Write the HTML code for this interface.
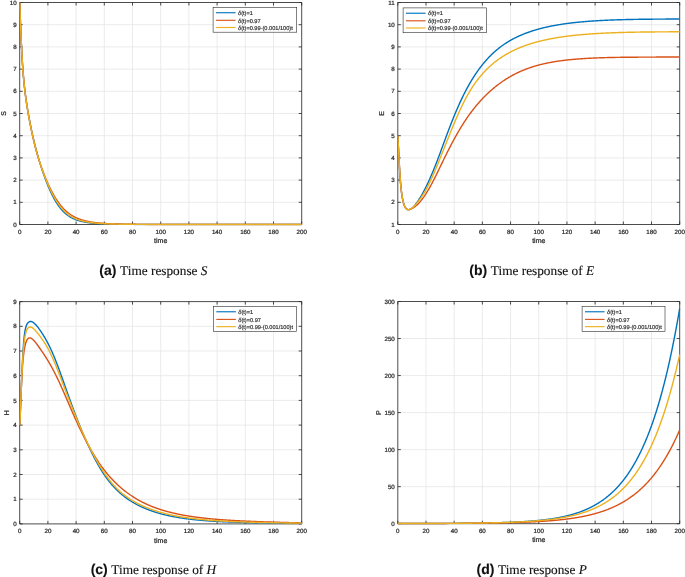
<!DOCTYPE html>
<html lang="en"><head><meta charset="utf-8"><title>Time responses</title>
<style>html,body{margin:0;padding:0;background:#fff}svg{display:block;will-change:transform;opacity:0.9999}</style></head>
<body>
<svg width="685" height="577" viewBox="0 0 685 577" text-rendering="geometricPrecision">
<rect width="685" height="577" fill="#fff"/>
<path d="M47.90 2.50V224.50M76.10 2.50V224.50M104.30 2.50V224.50M132.50 2.50V224.50M160.70 2.50V224.50M188.90 2.50V224.50M217.10 2.50V224.50M245.30 2.50V224.50M273.50 2.50V224.50M19.70 202.30H301.70M19.70 180.10H301.70M19.70 157.90H301.70M19.70 135.70H301.70M19.70 113.50H301.70M19.70 91.30H301.70M19.70 69.10H301.70M19.70 46.90H301.70M19.70 24.70H301.70" stroke="#e3e3e3" stroke-width="0.7" fill="none"/>
<path d="M19.70 2.50H301.70V224.50H19.70ZM19.70 224.50v-3.0M19.70 2.50v3.0M47.90 224.50v-3.0M47.90 2.50v3.0M76.10 224.50v-3.0M76.10 2.50v3.0M104.30 224.50v-3.0M104.30 2.50v3.0M132.50 224.50v-3.0M132.50 2.50v3.0M160.70 224.50v-3.0M160.70 2.50v3.0M188.90 224.50v-3.0M188.90 2.50v3.0M217.10 224.50v-3.0M217.10 2.50v3.0M245.30 224.50v-3.0M245.30 2.50v3.0M273.50 224.50v-3.0M273.50 2.50v3.0M301.70 224.50v-3.0M301.70 2.50v3.0M19.70 224.50h3.0M301.70 224.50h-3.0M19.70 202.30h3.0M301.70 202.30h-3.0M19.70 180.10h3.0M301.70 180.10h-3.0M19.70 157.90h3.0M301.70 157.90h-3.0M19.70 135.70h3.0M301.70 135.70h-3.0M19.70 113.50h3.0M301.70 113.50h-3.0M19.70 91.30h3.0M301.70 91.30h-3.0M19.70 69.10h3.0M301.70 69.10h-3.0M19.70 46.90h3.0M301.70 46.90h-3.0M19.70 24.70h3.0M301.70 24.70h-3.0M19.70 2.50h3.0M301.70 2.50h-3.0" stroke="#2c2c2c" stroke-width="0.85" fill="none"/>
<clipPath id="clip0"><rect x="19.45" y="2.00" width="283.00" height="223.50"/></clipPath>
<polyline points="19.70,2.50 19.84,6.28 19.98,10.08 20.12,13.85 20.26,17.58 20.40,21.26 20.55,24.85 20.69,28.36 20.83,31.78 20.97,35.09 21.11,38.30 21.25,41.41 21.39,44.40 21.53,47.29 21.67,50.07 21.81,52.75 21.96,55.31 22.10,57.78 22.24,60.14 22.38,62.41 22.52,64.58 22.66,66.65 22.80,68.64 22.94,70.54 23.08,72.36 23.22,74.10 23.37,75.78 23.51,77.39 23.65,78.95 23.79,80.45 23.93,81.90 24.07,83.30 24.21,84.66 24.35,85.98 24.49,87.26 24.63,88.51 24.78,89.72 24.92,90.91 25.06,92.06 25.20,93.19 25.34,94.29 25.48,95.37 25.62,96.43 25.76,97.47 25.90,98.48 26.04,99.48 26.19,100.46 26.33,101.43 26.47,102.37 26.61,103.31 26.75,104.23 26.89,105.13 27.03,106.02 27.17,106.90 27.31,107.77 27.45,108.63 27.60,109.48 27.74,110.32 27.88,111.15 28.02,111.97 28.16,112.78 28.30,113.58 28.44,114.37 28.58,115.16 28.72,115.93 28.86,116.71 29.01,117.47 29.15,118.23 29.29,118.98 29.43,119.72 29.57,120.46 29.71,121.19 29.85,121.92 29.99,122.64 30.13,123.35 30.27,124.06 30.42,124.76 30.56,125.46 30.70,126.15 30.84,126.84 30.98,127.53 31.12,128.20 31.26,128.88 31.40,129.55 31.54,130.21 31.68,130.87 31.83,131.53 31.97,132.18 32.11,132.82 32.25,133.47 32.39,134.10 32.53,134.74 32.67,135.37 32.81,135.99 32.95,136.62 33.09,137.23 33.24,137.85 33.38,138.46 33.52,139.07 33.66,139.67 33.80,140.27 33.94,140.86 34.08,141.45 34.22,142.04 34.36,142.62 34.50,143.20 34.65,143.78 34.79,144.35 34.93,144.92 35.07,145.49 35.21,146.05 35.35,146.61 35.49,147.17 35.63,147.72 35.77,148.27 35.91,148.81 36.06,149.35 36.20,149.89 36.34,150.43 36.48,150.96 36.62,151.49 36.97,152.79 37.33,154.08 37.68,155.35 38.03,156.59 38.38,157.82 38.73,159.02 39.09,160.21 39.44,161.39 39.79,162.54 40.14,163.68 40.50,164.81 40.85,165.92 41.20,167.01 41.55,168.10 41.91,169.17 42.26,170.23 42.61,171.27 42.97,172.31 43.32,173.33 43.67,174.34 44.02,175.33 44.38,176.32 44.73,177.29 45.08,178.25 45.43,179.20 45.78,180.14 46.14,181.06 46.49,181.98 46.84,182.88 47.20,183.76 47.55,184.64 47.90,185.51 48.25,186.36 48.61,187.20 48.96,188.02 49.31,188.84 49.66,189.64 50.02,190.43 50.37,191.21 50.72,191.97 51.07,192.73 51.42,193.47 51.78,194.19 52.13,194.91 52.48,195.61 52.83,196.30 53.19,196.98 53.54,197.65 53.89,198.30 54.25,198.95 54.60,199.58 54.95,200.19 55.30,200.80 55.66,201.39 56.01,201.98 56.36,202.55 56.71,203.11 57.06,203.66 57.42,204.19 57.77,204.72 58.12,205.23 58.47,205.73 58.83,206.22 59.18,206.70 59.53,207.17 59.89,207.63 60.24,208.08 60.59,208.51 60.94,208.94 61.30,209.35 61.65,209.76 62.00,210.15 62.35,210.54 62.70,210.92 63.06,211.28 63.41,211.64 63.76,211.99 64.11,212.33 64.47,212.66 64.82,212.98 65.17,213.29 65.53,213.60 65.88,213.90 66.23,214.19 66.58,214.47 66.94,214.74 67.29,215.01 67.64,215.27 67.99,215.52 68.34,215.77 68.70,216.01 69.05,216.24 69.40,216.47 69.75,216.69 70.11,216.90 70.46,217.11 70.81,217.31 71.17,217.51 71.52,217.70 71.87,217.89 72.22,218.07 72.58,218.24 72.93,218.41 73.28,218.58 73.63,218.74 73.98,218.90 74.34,219.05 74.69,219.20 75.04,219.35 75.39,219.49 75.75,219.62 76.10,219.76 76.45,219.89 76.80,220.01 77.16,220.13 77.51,220.25 77.86,220.37 78.22,220.48 78.57,220.59 78.92,220.69 79.27,220.80 79.62,220.90 79.98,220.99 80.33,221.09 80.68,221.18 81.03,221.27 81.39,221.36 81.74,221.44 82.09,221.52 82.44,221.60 82.80,221.68 83.15,221.76 83.50,221.83 83.86,221.90 84.21,221.97 84.56,222.04 84.91,222.10 85.27,222.17 85.62,222.23 85.97,222.29 86.32,222.35 86.67,222.40 87.03,222.46 87.38,222.51 87.73,222.56 88.09,222.62 88.44,222.66 88.79,222.71 89.14,222.76 89.50,222.80 89.85,222.85 90.20,222.89 90.55,222.93 90.91,222.97 91.26,223.01 91.61,223.05 91.96,223.09 92.31,223.13 92.67,223.16 93.02,223.20 93.37,223.23 93.73,223.26 94.08,223.29 94.43,223.32 94.78,223.35 95.14,223.38 95.49,223.41 95.84,223.44 96.19,223.47 96.55,223.49 96.90,223.52 97.25,223.54 97.60,223.57 97.95,223.59 98.31,223.61 98.66,223.64 99.01,223.66 99.37,223.68 99.72,223.70 100.07,223.72 100.42,223.74 100.78,223.76 101.13,223.77 101.48,223.79 101.83,223.81 102.19,223.83 102.54,223.84 102.89,223.86 103.24,223.88 103.59,223.89 103.95,223.91 104.30,223.92 104.65,223.93 105.01,223.95 105.36,223.96 105.71,223.97 106.06,223.99 106.42,224.00 106.77,224.01 107.12,224.02 107.47,224.03 107.83,224.05 108.18,224.06 108.53,224.07 108.88,224.08 109.23,224.09 109.59,224.10 109.94,224.11 110.29,224.12 110.64,224.13 111.00,224.13 111.35,224.14 111.70,224.15 112.06,224.16 112.41,224.17 112.76,224.18 113.11,224.18 113.47,224.19 113.82,224.20 114.17,224.20 114.52,224.21 114.88,224.22 115.23,224.22 115.58,224.23 115.93,224.24 116.28,224.24 116.64,224.25 116.99,224.25 117.34,224.26 117.70,224.27 118.05,224.27 118.40,224.28 118.75,224.28 119.11,224.29 119.46,224.29 119.81,224.30 120.16,224.30 120.52,224.31 120.87,224.31 121.22,224.31 121.57,224.32 121.92,224.32 122.28,224.33 122.63,224.33 122.98,224.33 123.34,224.34 123.69,224.34 124.04,224.34 124.39,224.35 124.75,224.35 125.10,224.35 125.45,224.36 125.80,224.36 126.16,224.36 126.51,224.37 126.86,224.37 127.21,224.37 127.56,224.38 127.92,224.38 128.27,224.38 128.62,224.38 128.97,224.39 129.33,224.39 129.68,224.39 130.03,224.39 130.38,224.40 130.74,224.40 131.09,224.40 131.44,224.40 131.79,224.40 132.15,224.41 132.50,224.41 132.85,224.41 133.20,224.41 133.56,224.41 133.91,224.42 134.26,224.42 134.62,224.42 134.97,224.42 135.32,224.42 135.67,224.42 136.03,224.43 136.38,224.43 136.73,224.43 137.08,224.43 137.44,224.43 137.79,224.43 138.14,224.43 138.49,224.44 138.84,224.44 139.20,224.44 139.55,224.44 139.90,224.44 140.25,224.44 140.61,224.44 140.96,224.44 141.31,224.45 141.66,224.45 142.02,224.45 142.37,224.45 142.72,224.45 143.07,224.45 143.43,224.45 143.78,224.45 144.13,224.45 144.48,224.45 144.84,224.46 145.19,224.46 145.54,224.46 145.89,224.46 146.25,224.46 146.60,224.46 146.95,224.46 147.31,224.46 147.66,224.46 148.01,224.46 148.36,224.46 148.71,224.46 149.07,224.47 149.42,224.47 149.77,224.47 150.12,224.47 150.48,224.47 150.83,224.47 151.18,224.47 151.53,224.47 151.89,224.47 152.24,224.47 152.59,224.47 152.94,224.47 153.30,224.47 153.65,224.47 154.00,224.47 154.35,224.47 154.71,224.47 155.06,224.48 155.41,224.48 155.76,224.48 156.12,224.48 156.47,224.48 156.82,224.48 157.17,224.48 157.53,224.48 157.88,224.48 158.23,224.48 158.58,224.48 158.94,224.48 159.29,224.48 159.64,224.48 159.99,224.48 160.35,224.48 160.70,224.48 161.05,224.48 161.41,224.48 161.76,224.48 162.11,224.48 162.46,224.48 162.81,224.48 163.17,224.48 163.52,224.48 163.87,224.48 164.22,224.48 164.58,224.48 164.93,224.49 165.28,224.49 165.63,224.49 165.99,224.49 166.34,224.49 166.69,224.49 167.04,224.49 167.40,224.49 167.75,224.49 168.10,224.49 168.45,224.49 168.81,224.49 169.16,224.49 169.51,224.49 169.86,224.49 170.22,224.49 170.57,224.49 170.92,224.49 171.27,224.49 171.63,224.49 171.98,224.49 172.33,224.49 172.69,224.49 173.04,224.49 173.39,224.49 173.74,224.49 174.09,224.49 174.45,224.49 174.80,224.49 175.15,224.49 175.50,224.49 175.86,224.49 176.21,224.49 176.56,224.49 176.91,224.49 177.27,224.49 177.62,224.49 177.97,224.49 178.32,224.49 178.68,224.49 179.03,224.49 179.38,224.49 179.73,224.49 180.09,224.49 180.44,224.49 180.79,224.49 181.14,224.49 181.50,224.49 181.85,224.49 182.20,224.49 182.55,224.49 182.91,224.49 183.26,224.49 183.61,224.49 183.96,224.49 184.32,224.49 184.67,224.49 185.02,224.49 185.38,224.49 185.73,224.49 186.08,224.49 186.43,224.49 186.78,224.50 187.14,224.50 187.49,224.50 187.84,224.50 188.19,224.50 188.55,224.50 188.90,224.50 189.25,224.50 189.60,224.50 189.96,224.50 190.31,224.50 190.66,224.50 191.01,224.50 191.37,224.50 191.72,224.50 192.07,224.50 192.42,224.50 192.78,224.50 193.13,224.50 193.48,224.50 193.83,224.50 194.19,224.50 194.54,224.50 194.89,224.50 195.24,224.50 195.60,224.50 195.95,224.50 196.30,224.50 196.66,224.50 197.01,224.50 197.36,224.50 197.71,224.50 198.06,224.50 198.42,224.50 198.77,224.50 199.12,224.50 199.47,224.50 199.83,224.50 200.18,224.50 200.53,224.50 200.88,224.50 201.24,224.50 201.59,224.50 201.94,224.50 202.29,224.50 202.65,224.50 203.00,224.50 203.35,224.50 203.70,224.50 204.06,224.50 204.41,224.50 204.76,224.50 205.11,224.50 205.47,224.50 205.82,224.50 206.17,224.50 206.52,224.50 206.88,224.50 207.23,224.50 207.58,224.50 207.94,224.50 208.29,224.50 208.64,224.50 208.99,224.50 209.34,224.50 209.70,224.50 210.05,224.50 210.40,224.50 210.75,224.50 211.11,224.50 211.46,224.50 211.81,224.50 212.16,224.50 212.52,224.50 212.87,224.50 213.22,224.50 213.57,224.50 213.93,224.50 214.28,224.50 214.63,224.50 214.98,224.50 215.34,224.50 215.69,224.50 216.04,224.50 216.39,224.50 216.75,224.50 217.10,224.50 217.45,224.50 217.80,224.50 218.16,224.50 218.51,224.50 218.86,224.50 219.21,224.50 219.57,224.50 219.92,224.50 220.27,224.50 220.62,224.50 220.98,224.50 221.33,224.50 221.68,224.50 222.03,224.50 222.39,224.50 222.74,224.50 223.09,224.50 223.44,224.50 223.80,224.50 224.15,224.50 224.50,224.50 224.85,224.50 225.21,224.50 225.56,224.50 225.91,224.50 226.26,224.50 226.62,224.50 226.97,224.50 227.32,224.50 227.67,224.50 228.03,224.50 228.38,224.50 228.73,224.50 229.08,224.50 229.44,224.50 229.79,224.50 230.14,224.50 230.49,224.50 230.85,224.50 231.20,224.50 231.55,224.50 231.91,224.50 232.26,224.50 232.61,224.50 232.96,224.50 233.31,224.50 233.67,224.50 234.02,224.50 234.37,224.50 234.72,224.50 235.08,224.50 235.43,224.50 235.78,224.50 236.13,224.50 236.49,224.50 236.84,224.50 237.19,224.50 237.54,224.50 237.90,224.50 238.25,224.50 238.60,224.50 238.95,224.50 239.31,224.50 239.66,224.50 240.01,224.50 240.36,224.50 240.72,224.50 241.07,224.50 241.42,224.50 241.77,224.50 242.13,224.50 242.48,224.50 242.83,224.50 243.19,224.50 243.54,224.50 243.89,224.50 244.24,224.50 244.59,224.50 244.95,224.50 245.30,224.50 245.65,224.50 246.00,224.50 246.36,224.50 246.71,224.50 247.06,224.50 247.41,224.50 247.77,224.50 248.12,224.50 248.47,224.50 248.82,224.50 249.18,224.50 249.53,224.50 249.88,224.50 250.23,224.50 250.59,224.50 250.94,224.50 251.29,224.50 251.64,224.50 252.00,224.50 252.35,224.50 252.70,224.50 253.05,224.50 253.41,224.50 253.76,224.50 254.11,224.50 254.46,224.50 254.82,224.50 255.17,224.50 255.52,224.50 255.88,224.50 256.23,224.50 256.58,224.50 256.93,224.50 257.29,224.50 257.64,224.50 257.99,224.50 258.34,224.50 258.69,224.50 259.05,224.50 259.40,224.50 259.75,224.50 260.11,224.50 260.46,224.50 260.81,224.50 261.16,224.50 261.51,224.50 261.87,224.50 262.22,224.50 262.57,224.50 262.93,224.50 263.28,224.50 263.63,224.50 263.98,224.50 264.33,224.50 264.69,224.50 265.04,224.50 265.39,224.50 265.75,224.50 266.10,224.50 266.45,224.50 266.80,224.50 267.16,224.50 267.51,224.50 267.86,224.50 268.21,224.50 268.56,224.50 268.92,224.50 269.27,224.50 269.62,224.50 269.98,224.50 270.33,224.50 270.68,224.50 271.03,224.50 271.38,224.50 271.74,224.50 272.09,224.50 272.44,224.50 272.80,224.50 273.15,224.50 273.50,224.50 273.85,224.50 274.20,224.50 274.56,224.50 274.91,224.50 275.26,224.50 275.62,224.50 275.97,224.50 276.32,224.50 276.67,224.50 277.02,224.50 277.38,224.50 277.73,224.50 278.08,224.50 278.44,224.50 278.79,224.50 279.14,224.50 279.49,224.50 279.84,224.50 280.20,224.50 280.55,224.50 280.90,224.50 281.25,224.50 281.61,224.50 281.96,224.50 282.31,224.50 282.66,224.50 283.02,224.50 283.37,224.50 283.72,224.50 284.07,224.50 284.43,224.50 284.78,224.50 285.13,224.50 285.49,224.50 285.84,224.50 286.19,224.50 286.54,224.50 286.89,224.50 287.25,224.50 287.60,224.50 287.95,224.50 288.31,224.50 288.66,224.50 289.01,224.50 289.36,224.50 289.71,224.50 290.07,224.50 290.42,224.50 290.77,224.50 291.12,224.50 291.48,224.50 291.83,224.50 292.18,224.50 292.53,224.50 292.89,224.50 293.24,224.50 293.59,224.50 293.94,224.50 294.30,224.50 294.65,224.50 295.00,224.50 295.35,224.50 295.71,224.50 296.06,224.50 296.41,224.50 296.76,224.50 297.12,224.50 297.47,224.50 297.82,224.50 298.18,224.50 298.53,224.50 298.88,224.50 299.23,224.50 299.58,224.50 299.94,224.50 300.29,224.50 300.64,224.50 301.00,224.50 301.35,224.50 301.70,224.50" fill="none" stroke="#0072BD" stroke-width="1.42" stroke-linejoin="round" clip-path="url(#clip0)"/>
<polyline points="19.70,2.50 19.84,6.34 19.98,10.17 20.12,13.97 20.26,17.72 20.40,21.40 20.55,25.00 20.69,28.50 20.83,31.91 20.97,35.21 21.11,38.41 21.25,41.49 21.39,44.47 21.53,47.34 21.67,50.10 21.81,52.76 21.96,55.31 22.10,57.76 22.24,60.10 22.38,62.35 22.52,64.51 22.66,66.57 22.80,68.55 22.94,70.44 23.08,72.25 23.22,73.98 23.37,75.65 23.51,77.26 23.65,78.81 23.79,80.31 23.93,81.76 24.07,83.16 24.21,84.52 24.35,85.85 24.49,87.13 24.63,88.39 24.78,89.61 24.92,90.80 25.06,91.96 25.20,93.10 25.34,94.22 25.48,95.31 25.62,96.38 25.76,97.43 25.90,98.46 26.04,99.47 26.19,100.47 26.33,101.45 26.47,102.42 26.61,103.37 26.75,104.31 26.89,105.24 27.03,106.15 27.17,107.06 27.31,107.95 27.45,108.83 27.60,109.70 27.74,110.56 27.88,111.42 28.02,112.26 28.16,113.10 28.30,113.93 28.44,114.75 28.58,115.56 28.72,116.37 28.86,117.17 29.01,117.96 29.15,118.74 29.29,119.52 29.43,120.29 29.57,121.06 29.71,121.81 29.85,122.56 29.99,123.31 30.13,124.05 30.27,124.78 30.42,125.50 30.56,126.22 30.70,126.94 30.84,127.64 30.98,128.35 31.12,129.04 31.26,129.73 31.40,130.42 31.54,131.09 31.68,131.77 31.83,132.43 31.97,133.09 32.11,133.75 32.25,134.40 32.39,135.04 32.53,135.68 32.67,136.32 32.81,136.95 32.95,137.57 33.09,138.19 33.24,138.81 33.38,139.41 33.52,140.02 33.66,140.62 33.80,141.21 33.94,141.80 34.08,142.38 34.22,142.96 34.36,143.54 34.50,144.11 34.65,144.68 34.79,145.24 34.93,145.79 35.07,146.35 35.21,146.89 35.35,147.44 35.49,147.98 35.63,148.51 35.77,149.04 35.91,149.57 36.06,150.09 36.20,150.61 36.34,151.12 36.48,151.63 36.62,152.14 36.97,153.39 37.33,154.61 37.68,155.81 38.03,156.98 38.38,158.13 38.73,159.26 39.09,160.37 39.44,161.46 39.79,162.54 40.14,163.59 40.50,164.63 40.85,165.65 41.20,166.66 41.55,167.66 41.91,168.64 42.26,169.61 42.61,170.56 42.97,171.50 43.32,172.43 43.67,173.35 44.02,174.26 44.38,175.15 44.73,176.04 45.08,176.91 45.43,177.77 45.78,178.62 46.14,179.46 46.49,180.29 46.84,181.11 47.20,181.92 47.55,182.72 47.90,183.51 48.25,184.28 48.61,185.05 48.96,185.81 49.31,186.55 49.66,187.29 50.02,188.01 50.37,188.73 50.72,189.44 51.07,190.13 51.42,190.82 51.78,191.49 52.13,192.16 52.48,192.81 52.83,193.46 53.19,194.10 53.54,194.72 53.89,195.34 54.25,195.94 54.60,196.54 54.95,197.13 55.30,197.71 55.66,198.27 56.01,198.83 56.36,199.38 56.71,199.92 57.06,200.45 57.42,200.97 57.77,201.48 58.12,201.99 58.47,202.48 58.83,202.97 59.18,203.44 59.53,203.91 59.89,204.37 60.24,204.82 60.59,205.26 60.94,205.70 61.30,206.12 61.65,206.54 62.00,206.95 62.35,207.35 62.70,207.74 63.06,208.12 63.41,208.50 63.76,208.87 64.11,209.23 64.47,209.58 64.82,209.92 65.17,210.26 65.53,210.59 65.88,210.91 66.23,211.23 66.58,211.54 66.94,211.84 67.29,212.14 67.64,212.43 67.99,212.71 68.34,212.98 68.70,213.25 69.05,213.52 69.40,213.78 69.75,214.03 70.11,214.27 70.46,214.51 70.81,214.75 71.17,214.98 71.52,215.20 71.87,215.42 72.22,215.64 72.58,215.85 72.93,216.05 73.28,216.25 73.63,216.44 73.98,216.63 74.34,216.82 74.69,217.00 75.04,217.18 75.39,217.35 75.75,217.52 76.10,217.68 76.45,217.84 76.80,218.00 77.16,218.15 77.51,218.30 77.86,218.45 78.22,218.59 78.57,218.73 78.92,218.87 79.27,219.00 79.62,219.13 79.98,219.25 80.33,219.38 80.68,219.50 81.03,219.62 81.39,219.73 81.74,219.84 82.09,219.95 82.44,220.06 82.80,220.16 83.15,220.26 83.50,220.36 83.86,220.46 84.21,220.55 84.56,220.64 84.91,220.73 85.27,220.82 85.62,220.91 85.97,220.99 86.32,221.07 86.67,221.15 87.03,221.23 87.38,221.30 87.73,221.38 88.09,221.45 88.44,221.52 88.79,221.59 89.14,221.66 89.50,221.72 89.85,221.79 90.20,221.85 90.55,221.91 90.91,221.97 91.26,222.03 91.61,222.08 91.96,222.14 92.31,222.19 92.67,222.25 93.02,222.30 93.37,222.35 93.73,222.40 94.08,222.44 94.43,222.49 94.78,222.54 95.14,222.58 95.49,222.62 95.84,222.67 96.19,222.71 96.55,222.75 96.90,222.79 97.25,222.83 97.60,222.86 97.95,222.90 98.31,222.94 98.66,222.97 99.01,223.01 99.37,223.04 99.72,223.07 100.07,223.10 100.42,223.13 100.78,223.16 101.13,223.19 101.48,223.22 101.83,223.25 102.19,223.28 102.54,223.31 102.89,223.33 103.24,223.36 103.59,223.38 103.95,223.41 104.30,223.43 104.65,223.46 105.01,223.48 105.36,223.50 105.71,223.52 106.06,223.54 106.42,223.56 106.77,223.58 107.12,223.60 107.47,223.62 107.83,223.64 108.18,223.66 108.53,223.68 108.88,223.70 109.23,223.71 109.59,223.73 109.94,223.75 110.29,223.76 110.64,223.78 111.00,223.80 111.35,223.81 111.70,223.83 112.06,223.84 112.41,223.85 112.76,223.87 113.11,223.88 113.47,223.89 113.82,223.91 114.17,223.92 114.52,223.93 114.88,223.94 115.23,223.96 115.58,223.97 115.93,223.98 116.28,223.99 116.64,224.00 116.99,224.01 117.34,224.02 117.70,224.03 118.05,224.04 118.40,224.05 118.75,224.06 119.11,224.07 119.46,224.08 119.81,224.09 120.16,224.10 120.52,224.10 120.87,224.11 121.22,224.12 121.57,224.13 121.92,224.14 122.28,224.14 122.63,224.15 122.98,224.16 123.34,224.16 123.69,224.17 124.04,224.18 124.39,224.18 124.75,224.19 125.10,224.20 125.45,224.20 125.80,224.21 126.16,224.22 126.51,224.22 126.86,224.23 127.21,224.23 127.56,224.24 127.92,224.24 128.27,224.25 128.62,224.25 128.97,224.26 129.33,224.26 129.68,224.27 130.03,224.27 130.38,224.28 130.74,224.28 131.09,224.29 131.44,224.29 131.79,224.29 132.15,224.30 132.50,224.30 132.85,224.31 133.20,224.31 133.56,224.31 133.91,224.32 134.26,224.32 134.62,224.32 134.97,224.33 135.32,224.33 135.67,224.33 136.03,224.34 136.38,224.34 136.73,224.34 137.08,224.35 137.44,224.35 137.79,224.35 138.14,224.36 138.49,224.36 138.84,224.36 139.20,224.36 139.55,224.37 139.90,224.37 140.25,224.37 140.61,224.37 140.96,224.38 141.31,224.38 141.66,224.38 142.02,224.38 142.37,224.39 142.72,224.39 143.07,224.39 143.43,224.39 143.78,224.39 144.13,224.40 144.48,224.40 144.84,224.40 145.19,224.40 145.54,224.40 145.89,224.41 146.25,224.41 146.60,224.41 146.95,224.41 147.31,224.41 147.66,224.41 148.01,224.42 148.36,224.42 148.71,224.42 149.07,224.42 149.42,224.42 149.77,224.42 150.12,224.42 150.48,224.43 150.83,224.43 151.18,224.43 151.53,224.43 151.89,224.43 152.24,224.43 152.59,224.43 152.94,224.44 153.30,224.44 153.65,224.44 154.00,224.44 154.35,224.44 154.71,224.44 155.06,224.44 155.41,224.44 155.76,224.44 156.12,224.45 156.47,224.45 156.82,224.45 157.17,224.45 157.53,224.45 157.88,224.45 158.23,224.45 158.58,224.45 158.94,224.45 159.29,224.45 159.64,224.45 159.99,224.45 160.35,224.46 160.70,224.46 161.05,224.46 161.41,224.46 161.76,224.46 162.11,224.46 162.46,224.46 162.81,224.46 163.17,224.46 163.52,224.46 163.87,224.46 164.22,224.46 164.58,224.46 164.93,224.46 165.28,224.47 165.63,224.47 165.99,224.47 166.34,224.47 166.69,224.47 167.04,224.47 167.40,224.47 167.75,224.47 168.10,224.47 168.45,224.47 168.81,224.47 169.16,224.47 169.51,224.47 169.86,224.47 170.22,224.47 170.57,224.47 170.92,224.47 171.27,224.47 171.63,224.47 171.98,224.48 172.33,224.48 172.69,224.48 173.04,224.48 173.39,224.48 173.74,224.48 174.09,224.48 174.45,224.48 174.80,224.48 175.15,224.48 175.50,224.48 175.86,224.48 176.21,224.48 176.56,224.48 176.91,224.48 177.27,224.48 177.62,224.48 177.97,224.48 178.32,224.48 178.68,224.48 179.03,224.48 179.38,224.48 179.73,224.48 180.09,224.48 180.44,224.48 180.79,224.48 181.14,224.48 181.50,224.48 181.85,224.48 182.20,224.48 182.55,224.49 182.91,224.49 183.26,224.49 183.61,224.49 183.96,224.49 184.32,224.49 184.67,224.49 185.02,224.49 185.38,224.49 185.73,224.49 186.08,224.49 186.43,224.49 186.78,224.49 187.14,224.49 187.49,224.49 187.84,224.49 188.19,224.49 188.55,224.49 188.90,224.49 189.25,224.49 189.60,224.49 189.96,224.49 190.31,224.49 190.66,224.49 191.01,224.49 191.37,224.49 191.72,224.49 192.07,224.49 192.42,224.49 192.78,224.49 193.13,224.49 193.48,224.49 193.83,224.49 194.19,224.49 194.54,224.49 194.89,224.49 195.24,224.49 195.60,224.49 195.95,224.49 196.30,224.49 196.66,224.49 197.01,224.49 197.36,224.49 197.71,224.49 198.06,224.49 198.42,224.49 198.77,224.49 199.12,224.49 199.47,224.49 199.83,224.49 200.18,224.49 200.53,224.49 200.88,224.49 201.24,224.49 201.59,224.49 201.94,224.49 202.29,224.49 202.65,224.49 203.00,224.49 203.35,224.49 203.70,224.49 204.06,224.49 204.41,224.49 204.76,224.49 205.11,224.49 205.47,224.49 205.82,224.49 206.17,224.49 206.52,224.50 206.88,224.50 207.23,224.50 207.58,224.50 207.94,224.50 208.29,224.50 208.64,224.50 208.99,224.50 209.34,224.50 209.70,224.50 210.05,224.50 210.40,224.50 210.75,224.50 211.11,224.50 211.46,224.50 211.81,224.50 212.16,224.50 212.52,224.50 212.87,224.50 213.22,224.50 213.57,224.50 213.93,224.50 214.28,224.50 214.63,224.50 214.98,224.50 215.34,224.50 215.69,224.50 216.04,224.50 216.39,224.50 216.75,224.50 217.10,224.50 217.45,224.50 217.80,224.50 218.16,224.50 218.51,224.50 218.86,224.50 219.21,224.50 219.57,224.50 219.92,224.50 220.27,224.50 220.62,224.50 220.98,224.50 221.33,224.50 221.68,224.50 222.03,224.50 222.39,224.50 222.74,224.50 223.09,224.50 223.44,224.50 223.80,224.50 224.15,224.50 224.50,224.50 224.85,224.50 225.21,224.50 225.56,224.50 225.91,224.50 226.26,224.50 226.62,224.50 226.97,224.50 227.32,224.50 227.67,224.50 228.03,224.50 228.38,224.50 228.73,224.50 229.08,224.50 229.44,224.50 229.79,224.50 230.14,224.50 230.49,224.50 230.85,224.50 231.20,224.50 231.55,224.50 231.91,224.50 232.26,224.50 232.61,224.50 232.96,224.50 233.31,224.50 233.67,224.50 234.02,224.50 234.37,224.50 234.72,224.50 235.08,224.50 235.43,224.50 235.78,224.50 236.13,224.50 236.49,224.50 236.84,224.50 237.19,224.50 237.54,224.50 237.90,224.50 238.25,224.50 238.60,224.50 238.95,224.50 239.31,224.50 239.66,224.50 240.01,224.50 240.36,224.50 240.72,224.50 241.07,224.50 241.42,224.50 241.77,224.50 242.13,224.50 242.48,224.50 242.83,224.50 243.19,224.50 243.54,224.50 243.89,224.50 244.24,224.50 244.59,224.50 244.95,224.50 245.30,224.50 245.65,224.50 246.00,224.50 246.36,224.50 246.71,224.50 247.06,224.50 247.41,224.50 247.77,224.50 248.12,224.50 248.47,224.50 248.82,224.50 249.18,224.50 249.53,224.50 249.88,224.50 250.23,224.50 250.59,224.50 250.94,224.50 251.29,224.50 251.64,224.50 252.00,224.50 252.35,224.50 252.70,224.50 253.05,224.50 253.41,224.50 253.76,224.50 254.11,224.50 254.46,224.50 254.82,224.50 255.17,224.50 255.52,224.50 255.88,224.50 256.23,224.50 256.58,224.50 256.93,224.50 257.29,224.50 257.64,224.50 257.99,224.50 258.34,224.50 258.69,224.50 259.05,224.50 259.40,224.50 259.75,224.50 260.11,224.50 260.46,224.50 260.81,224.50 261.16,224.50 261.51,224.50 261.87,224.50 262.22,224.50 262.57,224.50 262.93,224.50 263.28,224.50 263.63,224.50 263.98,224.50 264.33,224.50 264.69,224.50 265.04,224.50 265.39,224.50 265.75,224.50 266.10,224.50 266.45,224.50 266.80,224.50 267.16,224.50 267.51,224.50 267.86,224.50 268.21,224.50 268.56,224.50 268.92,224.50 269.27,224.50 269.62,224.50 269.98,224.50 270.33,224.50 270.68,224.50 271.03,224.50 271.38,224.50 271.74,224.50 272.09,224.50 272.44,224.50 272.80,224.50 273.15,224.50 273.50,224.50 273.85,224.50 274.20,224.50 274.56,224.50 274.91,224.50 275.26,224.50 275.62,224.50 275.97,224.50 276.32,224.50 276.67,224.50 277.02,224.50 277.38,224.50 277.73,224.50 278.08,224.50 278.44,224.50 278.79,224.50 279.14,224.50 279.49,224.50 279.84,224.50 280.20,224.50 280.55,224.50 280.90,224.50 281.25,224.50 281.61,224.50 281.96,224.50 282.31,224.50 282.66,224.50 283.02,224.50 283.37,224.50 283.72,224.50 284.07,224.50 284.43,224.50 284.78,224.50 285.13,224.50 285.49,224.50 285.84,224.50 286.19,224.50 286.54,224.50 286.89,224.50 287.25,224.50 287.60,224.50 287.95,224.50 288.31,224.50 288.66,224.50 289.01,224.50 289.36,224.50 289.71,224.50 290.07,224.50 290.42,224.50 290.77,224.50 291.12,224.50 291.48,224.50 291.83,224.50 292.18,224.50 292.53,224.50 292.89,224.50 293.24,224.50 293.59,224.50 293.94,224.50 294.30,224.50 294.65,224.50 295.00,224.50 295.35,224.50 295.71,224.50 296.06,224.50 296.41,224.50 296.76,224.50 297.12,224.50 297.47,224.50 297.82,224.50 298.18,224.50 298.53,224.50 298.88,224.50 299.23,224.50 299.58,224.50 299.94,224.50 300.29,224.50 300.64,224.50 301.00,224.50 301.35,224.50 301.70,224.50" fill="none" stroke="#D95319" stroke-width="1.42" stroke-linejoin="round" clip-path="url(#clip0)"/>
<polyline points="19.70,2.50 19.84,6.28 19.98,10.08 20.12,13.85 20.26,17.58 20.40,21.25 20.55,24.85 20.69,28.35 20.83,31.77 20.97,35.08 21.11,38.29 21.25,41.39 21.39,44.39 21.53,47.28 21.67,50.06 21.81,52.73 21.96,55.30 22.10,57.76 22.24,60.12 22.38,62.39 22.52,64.56 22.66,66.64 22.80,68.63 22.94,70.53 23.08,72.35 23.22,74.09 23.37,75.77 23.51,77.39 23.65,78.94 23.79,80.45 23.93,81.90 24.07,83.31 24.21,84.67 24.35,86.00 24.49,87.29 24.63,88.54 24.78,89.76 24.92,90.95 25.06,92.11 25.20,93.25 25.34,94.36 25.48,95.45 25.62,96.52 25.76,97.56 25.90,98.59 26.04,99.60 26.19,100.59 26.33,101.57 26.47,102.53 26.61,103.47 26.75,104.40 26.89,105.32 27.03,106.23 27.17,107.12 27.31,108.00 27.45,108.88 27.60,109.74 27.74,110.59 27.88,111.43 28.02,112.27 28.16,113.09 28.30,113.91 28.44,114.72 28.58,115.52 28.72,116.32 28.86,117.10 29.01,117.88 29.15,118.65 29.29,119.42 29.43,120.18 29.57,120.93 29.71,121.68 29.85,122.42 29.99,123.15 30.13,123.88 30.27,124.60 30.42,125.31 30.56,126.02 30.70,126.73 30.84,127.42 30.98,128.12 31.12,128.80 31.26,129.48 31.40,130.16 31.54,130.83 31.68,131.50 31.83,132.16 31.97,132.81 32.11,133.46 32.25,134.11 32.39,134.75 32.53,135.38 32.67,136.01 32.81,136.64 32.95,137.26 33.09,137.87 33.24,138.49 33.38,139.09 33.52,139.69 33.66,140.29 33.80,140.89 33.94,141.47 34.08,142.06 34.22,142.64 34.36,143.22 34.50,143.79 34.65,144.35 34.79,144.92 34.93,145.48 35.07,146.03 35.21,146.58 35.35,147.13 35.49,147.67 35.63,148.21 35.77,148.75 35.91,149.28 36.06,149.80 36.20,150.33 36.34,150.85 36.48,151.36 36.62,151.87 36.97,153.14 37.33,154.38 37.68,155.60 38.03,156.79 38.38,157.97 38.73,159.12 39.09,160.26 39.44,161.37 39.79,162.47 40.14,163.55 40.50,164.62 40.85,165.67 41.20,166.71 41.55,167.74 41.91,168.75 42.26,169.76 42.61,170.75 42.97,171.72 43.32,172.69 43.67,173.64 44.02,174.59 44.38,175.52 44.73,176.44 45.08,177.36 45.43,178.26 45.78,179.15 46.14,180.03 46.49,180.90 46.84,181.76 47.20,182.61 47.55,183.44 47.90,184.27 48.25,185.09 48.61,185.89 48.96,186.69 49.31,187.47 49.66,188.25 50.02,189.01 50.37,189.76 50.72,190.50 51.07,191.23 51.42,191.95 51.78,192.66 52.13,193.36 52.48,194.05 52.83,194.72 53.19,195.39 53.54,196.04 53.89,196.69 54.25,197.32 54.60,197.94 54.95,198.56 55.30,199.16 55.66,199.75 56.01,200.33 56.36,200.90 56.71,201.46 57.06,202.01 57.42,202.55 57.77,203.08 58.12,203.59 58.47,204.10 58.83,204.60 59.18,205.09 59.53,205.57 59.89,206.04 60.24,206.49 60.59,206.94 60.94,207.38 61.30,207.81 61.65,208.23 62.00,208.64 62.35,209.04 62.70,209.43 63.06,209.81 63.41,210.18 63.76,210.55 64.11,210.90 64.47,211.25 64.82,211.59 65.17,211.92 65.53,212.24 65.88,212.56 66.23,212.86 66.58,213.16 66.94,213.45 67.29,213.74 67.64,214.01 67.99,214.28 68.34,214.55 68.70,214.80 69.05,215.05 69.40,215.29 69.75,215.53 70.11,215.76 70.46,215.99 70.81,216.21 71.17,216.42 71.52,216.63 71.87,216.83 72.22,217.03 72.58,217.22 72.93,217.41 73.28,217.59 73.63,217.77 73.98,217.94 74.34,218.11 74.69,218.27 75.04,218.43 75.39,218.59 75.75,218.74 76.10,218.88 76.45,219.03 76.80,219.17 77.16,219.30 77.51,219.43 77.86,219.56 78.22,219.69 78.57,219.81 78.92,219.93 79.27,220.04 79.62,220.16 79.98,220.27 80.33,220.37 80.68,220.48 81.03,220.58 81.39,220.67 81.74,220.77 82.09,220.86 82.44,220.95 82.80,221.04 83.15,221.13 83.50,221.21 83.86,221.29 84.21,221.37 84.56,221.45 84.91,221.53 85.27,221.60 85.62,221.67 85.97,221.74 86.32,221.81 86.67,221.87 87.03,221.94 87.38,222.00 87.73,222.06 88.09,222.12 88.44,222.18 88.79,222.23 89.14,222.29 89.50,222.34 89.85,222.39 90.20,222.44 90.55,222.49 90.91,222.54 91.26,222.59 91.61,222.63 91.96,222.68 92.31,222.72 92.67,222.76 93.02,222.80 93.37,222.84 93.73,222.88 94.08,222.92 94.43,222.96 94.78,222.99 95.14,223.03 95.49,223.06 95.84,223.10 96.19,223.13 96.55,223.16 96.90,223.19 97.25,223.22 97.60,223.25 97.95,223.28 98.31,223.31 98.66,223.34 99.01,223.36 99.37,223.39 99.72,223.41 100.07,223.44 100.42,223.46 100.78,223.49 101.13,223.51 101.48,223.53 101.83,223.55 102.19,223.57 102.54,223.60 102.89,223.62 103.24,223.64 103.59,223.65 103.95,223.67 104.30,223.69 104.65,223.71 105.01,223.73 105.36,223.74 105.71,223.76 106.06,223.78 106.42,223.79 106.77,223.81 107.12,223.82 107.47,223.84 107.83,223.85 108.18,223.87 108.53,223.88 108.88,223.89 109.23,223.91 109.59,223.92 109.94,223.93 110.29,223.94 110.64,223.96 111.00,223.97 111.35,223.98 111.70,223.99 112.06,224.00 112.41,224.01 112.76,224.02 113.11,224.03 113.47,224.04 113.82,224.05 114.17,224.06 114.52,224.07 114.88,224.08 115.23,224.09 115.58,224.10 115.93,224.10 116.28,224.11 116.64,224.12 116.99,224.13 117.34,224.14 117.70,224.14 118.05,224.15 118.40,224.16 118.75,224.16 119.11,224.17 119.46,224.18 119.81,224.18 120.16,224.19 120.52,224.20 120.87,224.20 121.22,224.21 121.57,224.21 121.92,224.22 122.28,224.23 122.63,224.23 122.98,224.24 123.34,224.24 123.69,224.25 124.04,224.25 124.39,224.26 124.75,224.26 125.10,224.27 125.45,224.27 125.80,224.27 126.16,224.28 126.51,224.28 126.86,224.29 127.21,224.29 127.56,224.30 127.92,224.30 128.27,224.30 128.62,224.31 128.97,224.31 129.33,224.31 129.68,224.32 130.03,224.32 130.38,224.32 130.74,224.33 131.09,224.33 131.44,224.33 131.79,224.34 132.15,224.34 132.50,224.34 132.85,224.35 133.20,224.35 133.56,224.35 133.91,224.36 134.26,224.36 134.62,224.36 134.97,224.36 135.32,224.37 135.67,224.37 136.03,224.37 136.38,224.37 136.73,224.37 137.08,224.38 137.44,224.38 137.79,224.38 138.14,224.38 138.49,224.39 138.84,224.39 139.20,224.39 139.55,224.39 139.90,224.39 140.25,224.40 140.61,224.40 140.96,224.40 141.31,224.40 141.66,224.40 142.02,224.40 142.37,224.41 142.72,224.41 143.07,224.41 143.43,224.41 143.78,224.41 144.13,224.41 144.48,224.42 144.84,224.42 145.19,224.42 145.54,224.42 145.89,224.42 146.25,224.42 146.60,224.42 146.95,224.43 147.31,224.43 147.66,224.43 148.01,224.43 148.36,224.43 148.71,224.43 149.07,224.43 149.42,224.43 149.77,224.43 150.12,224.44 150.48,224.44 150.83,224.44 151.18,224.44 151.53,224.44 151.89,224.44 152.24,224.44 152.59,224.44 152.94,224.44 153.30,224.44 153.65,224.45 154.00,224.45 154.35,224.45 154.71,224.45 155.06,224.45 155.41,224.45 155.76,224.45 156.12,224.45 156.47,224.45 156.82,224.45 157.17,224.45 157.53,224.45 157.88,224.46 158.23,224.46 158.58,224.46 158.94,224.46 159.29,224.46 159.64,224.46 159.99,224.46 160.35,224.46 160.70,224.46 161.05,224.46 161.41,224.46 161.76,224.46 162.11,224.46 162.46,224.46 162.81,224.46 163.17,224.47 163.52,224.47 163.87,224.47 164.22,224.47 164.58,224.47 164.93,224.47 165.28,224.47 165.63,224.47 165.99,224.47 166.34,224.47 166.69,224.47 167.04,224.47 167.40,224.47 167.75,224.47 168.10,224.47 168.45,224.47 168.81,224.47 169.16,224.47 169.51,224.47 169.86,224.47 170.22,224.47 170.57,224.47 170.92,224.48 171.27,224.48 171.63,224.48 171.98,224.48 172.33,224.48 172.69,224.48 173.04,224.48 173.39,224.48 173.74,224.48 174.09,224.48 174.45,224.48 174.80,224.48 175.15,224.48 175.50,224.48 175.86,224.48 176.21,224.48 176.56,224.48 176.91,224.48 177.27,224.48 177.62,224.48 177.97,224.48 178.32,224.48 178.68,224.48 179.03,224.48 179.38,224.48 179.73,224.48 180.09,224.48 180.44,224.48 180.79,224.48 181.14,224.48 181.50,224.48 181.85,224.48 182.20,224.48 182.55,224.48 182.91,224.48 183.26,224.49 183.61,224.49 183.96,224.49 184.32,224.49 184.67,224.49 185.02,224.49 185.38,224.49 185.73,224.49 186.08,224.49 186.43,224.49 186.78,224.49 187.14,224.49 187.49,224.49 187.84,224.49 188.19,224.49 188.55,224.49 188.90,224.49 189.25,224.49 189.60,224.49 189.96,224.49 190.31,224.49 190.66,224.49 191.01,224.49 191.37,224.49 191.72,224.49 192.07,224.49 192.42,224.49 192.78,224.49 193.13,224.49 193.48,224.49 193.83,224.49 194.19,224.49 194.54,224.49 194.89,224.49 195.24,224.49 195.60,224.49 195.95,224.49 196.30,224.49 196.66,224.49 197.01,224.49 197.36,224.49 197.71,224.49 198.06,224.49 198.42,224.49 198.77,224.49 199.12,224.49 199.47,224.49 199.83,224.49 200.18,224.49 200.53,224.49 200.88,224.49 201.24,224.49 201.59,224.49 201.94,224.49 202.29,224.49 202.65,224.49 203.00,224.49 203.35,224.49 203.70,224.49 204.06,224.49 204.41,224.49 204.76,224.49 205.11,224.49 205.47,224.49 205.82,224.49 206.17,224.49 206.52,224.49 206.88,224.49 207.23,224.49 207.58,224.49 207.94,224.49 208.29,224.49 208.64,224.49 208.99,224.49 209.34,224.49 209.70,224.49 210.05,224.49 210.40,224.49 210.75,224.49 211.11,224.49 211.46,224.49 211.81,224.49 212.16,224.49 212.52,224.49 212.87,224.50 213.22,224.50 213.57,224.50 213.93,224.50 214.28,224.50 214.63,224.50 214.98,224.50 215.34,224.50 215.69,224.50 216.04,224.50 216.39,224.50 216.75,224.50 217.10,224.50 217.45,224.50 217.80,224.50 218.16,224.50 218.51,224.50 218.86,224.50 219.21,224.50 219.57,224.50 219.92,224.50 220.27,224.50 220.62,224.50 220.98,224.50 221.33,224.50 221.68,224.50 222.03,224.50 222.39,224.50 222.74,224.50 223.09,224.50 223.44,224.50 223.80,224.50 224.15,224.50 224.50,224.50 224.85,224.50 225.21,224.50 225.56,224.50 225.91,224.50 226.26,224.50 226.62,224.50 226.97,224.50 227.32,224.50 227.67,224.50 228.03,224.50 228.38,224.50 228.73,224.50 229.08,224.50 229.44,224.50 229.79,224.50 230.14,224.50 230.49,224.50 230.85,224.50 231.20,224.50 231.55,224.50 231.91,224.50 232.26,224.50 232.61,224.50 232.96,224.50 233.31,224.50 233.67,224.50 234.02,224.50 234.37,224.50 234.72,224.50 235.08,224.50 235.43,224.50 235.78,224.50 236.13,224.50 236.49,224.50 236.84,224.50 237.19,224.50 237.54,224.50 237.90,224.50 238.25,224.50 238.60,224.50 238.95,224.50 239.31,224.50 239.66,224.50 240.01,224.50 240.36,224.50 240.72,224.50 241.07,224.50 241.42,224.50 241.77,224.50 242.13,224.50 242.48,224.50 242.83,224.50 243.19,224.50 243.54,224.50 243.89,224.50 244.24,224.50 244.59,224.50 244.95,224.50 245.30,224.50 245.65,224.50 246.00,224.50 246.36,224.50 246.71,224.50 247.06,224.50 247.41,224.50 247.77,224.50 248.12,224.50 248.47,224.50 248.82,224.50 249.18,224.50 249.53,224.50 249.88,224.50 250.23,224.50 250.59,224.50 250.94,224.50 251.29,224.50 251.64,224.50 252.00,224.50 252.35,224.50 252.70,224.50 253.05,224.50 253.41,224.50 253.76,224.50 254.11,224.50 254.46,224.50 254.82,224.50 255.17,224.50 255.52,224.50 255.88,224.50 256.23,224.50 256.58,224.50 256.93,224.50 257.29,224.50 257.64,224.50 257.99,224.50 258.34,224.50 258.69,224.50 259.05,224.50 259.40,224.50 259.75,224.50 260.11,224.50 260.46,224.50 260.81,224.50 261.16,224.50 261.51,224.50 261.87,224.50 262.22,224.50 262.57,224.50 262.93,224.50 263.28,224.50 263.63,224.50 263.98,224.50 264.33,224.50 264.69,224.50 265.04,224.50 265.39,224.50 265.75,224.50 266.10,224.50 266.45,224.50 266.80,224.50 267.16,224.50 267.51,224.50 267.86,224.50 268.21,224.50 268.56,224.50 268.92,224.50 269.27,224.50 269.62,224.50 269.98,224.50 270.33,224.50 270.68,224.50 271.03,224.50 271.38,224.50 271.74,224.50 272.09,224.50 272.44,224.50 272.80,224.50 273.15,224.50 273.50,224.50 273.85,224.50 274.20,224.50 274.56,224.50 274.91,224.50 275.26,224.50 275.62,224.50 275.97,224.50 276.32,224.50 276.67,224.50 277.02,224.50 277.38,224.50 277.73,224.50 278.08,224.50 278.44,224.50 278.79,224.50 279.14,224.50 279.49,224.50 279.84,224.50 280.20,224.50 280.55,224.50 280.90,224.50 281.25,224.50 281.61,224.50 281.96,224.50 282.31,224.50 282.66,224.50 283.02,224.50 283.37,224.50 283.72,224.50 284.07,224.50 284.43,224.50 284.78,224.50 285.13,224.50 285.49,224.50 285.84,224.50 286.19,224.50 286.54,224.50 286.89,224.50 287.25,224.50 287.60,224.50 287.95,224.50 288.31,224.50 288.66,224.50 289.01,224.50 289.36,224.50 289.71,224.50 290.07,224.50 290.42,224.50 290.77,224.50 291.12,224.50 291.48,224.50 291.83,224.50 292.18,224.50 292.53,224.50 292.89,224.50 293.24,224.50 293.59,224.50 293.94,224.50 294.30,224.50 294.65,224.50 295.00,224.50 295.35,224.50 295.71,224.50 296.06,224.50 296.41,224.50 296.76,224.50 297.12,224.50 297.47,224.50 297.82,224.50 298.18,224.50 298.53,224.50 298.88,224.50 299.23,224.50 299.58,224.50 299.94,224.50 300.29,224.50 300.64,224.50 301.00,224.50 301.35,224.50 301.70,224.50" fill="none" stroke="#EDB120" stroke-width="1.42" stroke-linejoin="round" clip-path="url(#clip0)"/>
<g font-family="Liberation Sans, Arial, Helvetica, sans-serif" font-size="6.2" fill="#262626" stroke="#262626" stroke-width="0.22">
<text x="19.70" y="233.50" text-anchor="middle">0</text>
<text x="47.90" y="233.50" text-anchor="middle">20</text>
<text x="76.10" y="233.50" text-anchor="middle">40</text>
<text x="104.30" y="233.50" text-anchor="middle">60</text>
<text x="132.50" y="233.50" text-anchor="middle">80</text>
<text x="160.70" y="233.50" text-anchor="middle">100</text>
<text x="188.90" y="233.50" text-anchor="middle">120</text>
<text x="217.10" y="233.50" text-anchor="middle">140</text>
<text x="245.30" y="233.50" text-anchor="middle">160</text>
<text x="273.50" y="233.50" text-anchor="middle">180</text>
<text x="301.70" y="233.50" text-anchor="middle">200</text>
<text x="16.70" y="226.65" text-anchor="end">0</text>
<text x="16.70" y="204.45" text-anchor="end">1</text>
<text x="16.70" y="182.25" text-anchor="end">2</text>
<text x="16.70" y="160.05" text-anchor="end">3</text>
<text x="16.70" y="137.85" text-anchor="end">4</text>
<text x="16.70" y="115.65" text-anchor="end">5</text>
<text x="16.70" y="93.45" text-anchor="end">6</text>
<text x="16.70" y="71.25" text-anchor="end">7</text>
<text x="16.70" y="49.05" text-anchor="end">8</text>
<text x="16.70" y="26.85" text-anchor="end">9</text>
<text x="16.70" y="4.65" text-anchor="end">10</text>
</g>
<g font-family="Liberation Sans, Arial, Helvetica, sans-serif" font-size="7.0" fill="#262626" stroke="#262626" stroke-width="0.22">
<text x="160.70" y="243.20" text-anchor="middle">time</text>
<text transform="translate(6.00 113.50) rotate(-90)" text-anchor="middle">S</text>
</g>
<rect x="213.10" y="7.40" width="83.60" height="24.80" fill="#fff" stroke="#2c2c2c" stroke-width="0.6"/>
<g font-family="Liberation Sans, Arial, Helvetica, sans-serif" font-size="5.62" fill="#262626" stroke="#262626" stroke-width="0.15">
<path d="M216.00 12.73h19.6" stroke="#0072BD" stroke-width="1.136" fill="none"/>
<text x="238.00" y="14.93"><tspan font-style="italic">δ</tspan>(t)=1</text>
<path d="M216.00 20.30h19.6" stroke="#D95319" stroke-width="1.136" fill="none"/>
<text x="238.00" y="22.50"><tspan font-style="italic">δ</tspan>(t)=0.97</text>
<path d="M216.00 27.49h19.6" stroke="#EDB120" stroke-width="1.136" fill="none"/>
<text x="238.00" y="29.69"><tspan font-style="italic">δ</tspan>(t)=0.99-(0.001/100)t</text>
</g>
<text id="cap0" x="153.40" y="274.80" text-anchor="middle" font-size="13.3" fill="#111" stroke="#111" stroke-width="0.12" font-family="Liberation Serif, Times New Roman, serif"><tspan font-family="Liberation Sans, Arial, Helvetica, sans-serif" font-weight="bold" font-size="14.0">(a)</tspan><tspan dx="3.6">Time response </tspan><tspan font-style="italic">S</tspan></text>
<path d="M425.99 2.50V224.50M454.18 2.50V224.50M482.37 2.50V224.50M510.56 2.50V224.50M538.75 2.50V224.50M566.94 2.50V224.50M595.13 2.50V224.50M623.32 2.50V224.50M651.51 2.50V224.50M397.80 202.30H679.70M397.80 180.10H679.70M397.80 157.90H679.70M397.80 135.70H679.70M397.80 113.50H679.70M397.80 91.30H679.70M397.80 69.10H679.70M397.80 46.90H679.70M397.80 24.70H679.70" stroke="#e3e3e3" stroke-width="0.7" fill="none"/>
<path d="M397.80 2.50H679.70V224.50H397.80ZM397.80 224.50v-3.0M397.80 2.50v3.0M425.99 224.50v-3.0M425.99 2.50v3.0M454.18 224.50v-3.0M454.18 2.50v3.0M482.37 224.50v-3.0M482.37 2.50v3.0M510.56 224.50v-3.0M510.56 2.50v3.0M538.75 224.50v-3.0M538.75 2.50v3.0M566.94 224.50v-3.0M566.94 2.50v3.0M595.13 224.50v-3.0M595.13 2.50v3.0M623.32 224.50v-3.0M623.32 2.50v3.0M651.51 224.50v-3.0M651.51 2.50v3.0M679.70 224.50v-3.0M679.70 2.50v3.0M397.80 224.50h3.0M679.70 224.50h-3.0M397.80 202.30h3.0M679.70 202.30h-3.0M397.80 180.10h3.0M679.70 180.10h-3.0M397.80 157.90h3.0M679.70 157.90h-3.0M397.80 135.70h3.0M679.70 135.70h-3.0M397.80 113.50h3.0M679.70 113.50h-3.0M397.80 91.30h3.0M679.70 91.30h-3.0M397.80 69.10h3.0M679.70 69.10h-3.0M397.80 46.90h3.0M679.70 46.90h-3.0M397.80 24.70h3.0M679.70 24.70h-3.0M397.80 2.50h3.0M679.70 2.50h-3.0" stroke="#2c2c2c" stroke-width="0.85" fill="none"/>
<clipPath id="clip1"><rect x="397.55" y="2.00" width="282.90" height="223.50"/></clipPath>
<polyline points="397.80,135.70 397.94,138.22 398.08,140.87 398.22,143.59 398.36,146.36 398.50,149.15 398.65,151.93 398.79,154.70 398.93,157.42 399.07,160.09 399.21,162.69 399.35,165.22 399.49,167.67 399.63,170.02 399.77,172.28 399.91,174.44 400.06,176.50 400.20,178.45 400.34,180.29 400.48,182.02 400.62,183.66 400.76,185.20 400.90,186.66 401.04,188.03 401.18,189.33 401.32,190.55 401.46,191.71 401.61,192.80 401.75,193.83 401.89,194.81 402.03,195.73 402.17,196.60 402.31,197.43 402.45,198.21 402.59,198.94 402.73,199.64 402.87,200.30 403.02,200.92 403.16,201.51 403.30,202.07 403.44,202.59 403.58,203.09 403.72,203.56 403.86,204.00 404.00,204.42 404.14,204.81 404.28,205.18 404.42,205.53 404.57,205.86 404.71,206.17 404.85,206.47 404.99,206.74 405.13,207.00 405.27,207.25 405.41,207.47 405.55,207.69 405.69,207.89 405.83,208.08 405.98,208.25 406.12,208.42 406.26,208.57 406.40,208.71 406.54,208.84 406.68,208.95 406.82,209.06 406.96,209.16 407.10,209.25 407.24,209.33 407.38,209.40 407.53,209.46 407.67,209.51 407.81,209.56 407.95,209.59 408.09,209.62 408.23,209.64 408.37,209.66 408.51,209.66 408.65,209.67 408.79,209.66 408.94,209.65 409.08,209.63 409.22,209.60 409.36,209.57 409.50,209.53 409.64,209.49 409.78,209.44 409.92,209.39 410.06,209.33 410.20,209.27 410.34,209.20 410.49,209.13 410.63,209.05 410.77,208.97 410.91,208.88 411.05,208.79 411.19,208.70 411.33,208.60 411.47,208.50 411.61,208.39 411.75,208.28 411.90,208.17 412.04,208.05 412.18,207.93 412.32,207.81 412.46,207.68 412.60,207.56 412.74,207.42 412.88,207.29 413.02,207.15 413.16,207.01 413.30,206.86 413.45,206.72 413.59,206.57 413.73,206.42 413.87,206.26 414.01,206.11 414.15,205.95 414.29,205.79 414.43,205.62 414.57,205.46 414.71,205.29 415.07,204.86 415.42,204.42 415.77,203.97 416.12,203.51 416.48,203.04 416.83,202.56 417.18,202.07 417.53,201.57 417.89,201.06 418.24,200.55 418.59,200.02 418.94,199.49 419.29,198.95 419.65,198.40 420.00,197.84 420.35,197.27 420.70,196.69 421.06,196.11 421.41,195.51 421.76,194.91 422.11,194.30 422.47,193.67 422.82,193.04 423.17,192.40 423.52,191.76 423.88,191.10 424.23,190.43 424.58,189.76 424.93,189.08 425.29,188.39 425.64,187.69 425.99,186.98 426.34,186.27 426.69,185.54 427.05,184.81 427.40,184.08 427.75,183.33 428.10,182.58 428.46,181.82 428.81,181.05 429.16,180.27 429.51,179.49 429.87,178.70 430.22,177.90 430.57,177.10 430.92,176.29 431.28,175.47 431.63,174.65 431.98,173.82 432.33,172.98 432.69,172.14 433.04,171.29 433.39,170.43 433.74,169.57 434.09,168.70 434.45,167.83 434.80,166.95 435.15,166.07 435.50,165.18 435.86,164.28 436.21,163.38 436.56,162.47 436.91,161.56 437.27,160.64 437.62,159.72 437.97,158.79 438.32,157.86 438.68,156.92 439.03,155.98 439.38,155.04 439.73,154.09 440.09,153.14 440.44,152.19 440.79,151.23 441.14,150.27 441.49,149.32 441.85,148.36 442.20,147.40 442.55,146.44 442.90,145.47 443.26,144.51 443.61,143.55 443.96,142.60 444.31,141.64 444.67,140.68 445.02,139.72 445.37,138.77 445.72,137.82 446.08,136.87 446.43,135.92 446.78,134.97 447.13,134.03 447.48,133.09 447.84,132.15 448.19,131.22 448.54,130.29 448.89,129.36 449.25,128.44 449.60,127.52 449.95,126.60 450.30,125.69 450.66,124.78 451.01,123.88 451.36,122.98 451.71,122.08 452.07,121.19 452.42,120.31 452.77,119.43 453.12,118.55 453.48,117.68 453.83,116.81 454.18,115.95 454.53,115.09 454.88,114.24 455.24,113.39 455.59,112.55 455.94,111.71 456.29,110.88 456.65,110.06 457.00,109.24 457.35,108.42 457.70,107.61 458.06,106.81 458.41,106.01 458.76,105.22 459.11,104.43 459.47,103.65 459.82,102.88 460.17,102.11 460.52,101.34 460.88,100.59 461.23,99.83 461.58,99.09 461.93,98.35 462.28,97.61 462.64,96.88 462.99,96.16 463.34,95.44 463.69,94.73 464.05,94.03 464.40,93.33 464.75,92.64 465.10,91.95 465.46,91.27 465.81,90.59 466.16,89.92 466.51,89.26 466.87,88.60 467.22,87.95 467.57,87.30 467.92,86.66 468.28,86.03 468.63,85.40 468.98,84.78 469.33,84.16 469.68,83.55 470.04,82.94 470.39,82.34 470.74,81.74 471.09,81.15 471.45,80.56 471.80,79.98 472.15,79.41 472.50,78.84 472.86,78.27 473.21,77.71 473.56,77.16 473.91,76.60 474.27,76.06 474.62,75.52 474.97,74.98 475.32,74.45 475.67,73.93 476.03,73.40 476.38,72.89 476.73,72.37 477.08,71.87 477.44,71.36 477.79,70.87 478.14,70.37 478.49,69.88 478.85,69.40 479.20,68.92 479.55,68.44 479.90,67.97 480.26,67.50 480.61,67.04 480.96,66.58 481.31,66.12 481.67,65.67 482.02,65.23 482.37,64.78 482.72,64.35 483.07,63.91 483.43,63.48 483.78,63.05 484.13,62.63 484.48,62.21 484.84,61.80 485.19,61.39 485.54,60.98 485.89,60.58 486.25,60.18 486.60,59.78 486.95,59.39 487.30,59.00 487.66,58.62 488.01,58.24 488.36,57.86 488.71,57.49 489.07,57.12 489.42,56.75 489.77,56.39 490.12,56.03 490.47,55.68 490.83,55.32 491.18,54.98 491.53,54.63 491.88,54.29 492.24,53.95 492.59,53.61 492.94,53.28 493.29,52.95 493.65,52.63 494.00,52.31 494.35,51.99 494.70,51.67 495.06,51.36 495.41,51.05 495.76,50.74 496.11,50.44 496.47,50.14 496.82,49.84 497.17,49.55 497.52,49.26 497.87,48.97 498.23,48.69 498.58,48.40 498.93,48.12 499.28,47.85 499.64,47.57 499.99,47.30 500.34,47.03 500.69,46.77 501.05,46.51 501.40,46.25 501.75,45.99 502.10,45.73 502.46,45.48 502.81,45.23 503.16,44.98 503.51,44.74 503.86,44.50 504.22,44.26 504.57,44.02 504.92,43.78 505.27,43.55 505.63,43.32 505.98,43.09 506.33,42.86 506.68,42.64 507.04,42.42 507.39,42.20 507.74,41.98 508.09,41.77 508.45,41.55 508.80,41.34 509.15,41.13 509.50,40.93 509.86,40.72 510.21,40.52 510.56,40.32 510.91,40.12 511.26,39.92 511.62,39.72 511.97,39.53 512.32,39.34 512.67,39.15 513.03,38.96 513.38,38.77 513.73,38.59 514.08,38.41 514.44,38.23 514.79,38.05 515.14,37.87 515.49,37.69 515.85,37.52 516.20,37.35 516.55,37.17 516.90,37.00 517.26,36.84 517.61,36.67 517.96,36.51 518.31,36.34 518.66,36.18 519.02,36.02 519.37,35.86 519.72,35.70 520.07,35.55 520.43,35.39 520.78,35.24 521.13,35.09 521.48,34.94 521.84,34.79 522.19,34.64 522.54,34.50 522.89,34.35 523.25,34.21 523.60,34.07 523.95,33.93 524.30,33.79 524.65,33.65 525.01,33.51 525.36,33.38 525.71,33.24 526.06,33.11 526.42,32.98 526.77,32.85 527.12,32.72 527.47,32.59 527.83,32.46 528.18,32.33 528.53,32.21 528.88,32.09 529.24,31.96 529.59,31.84 529.94,31.72 530.29,31.60 530.65,31.48 531.00,31.36 531.35,31.25 531.70,31.13 532.05,31.02 532.41,30.91 532.76,30.79 533.11,30.68 533.46,30.57 533.82,30.46 534.17,30.35 534.52,30.25 534.87,30.14 535.23,30.03 535.58,29.93 535.93,29.82 536.28,29.72 536.64,29.62 536.99,29.52 537.34,29.42 537.69,29.32 538.05,29.22 538.40,29.12 538.75,29.03 539.10,28.93 539.45,28.84 539.81,28.74 540.16,28.65 540.51,28.56 540.86,28.46 541.22,28.37 541.57,28.28 541.92,28.19 542.27,28.11 542.63,28.02 542.98,27.93 543.33,27.84 543.68,27.76 544.04,27.67 544.39,27.59 544.74,27.51 545.09,27.42 545.45,27.34 545.80,27.26 546.15,27.18 546.50,27.10 546.85,27.02 547.21,26.95 547.56,26.87 547.91,26.79 548.26,26.71 548.62,26.64 548.97,26.56 549.32,26.49 549.67,26.42 550.03,26.34 550.38,26.27 550.73,26.20 551.08,26.13 551.44,26.06 551.79,25.99 552.14,25.92 552.49,25.85 552.85,25.78 553.20,25.72 553.55,25.65 553.90,25.58 554.25,25.52 554.61,25.45 554.96,25.39 555.31,25.33 555.66,25.26 556.02,25.20 556.37,25.14 556.72,25.08 557.07,25.02 557.43,24.96 557.78,24.90 558.13,24.84 558.48,24.78 558.84,24.72 559.19,24.66 559.54,24.60 559.89,24.55 560.24,24.49 560.60,24.44 560.95,24.38 561.30,24.33 561.65,24.27 562.01,24.22 562.36,24.16 562.71,24.11 563.06,24.06 563.42,24.01 563.77,23.96 564.12,23.90 564.47,23.85 564.83,23.80 565.18,23.75 565.53,23.70 565.88,23.66 566.24,23.61 566.59,23.56 566.94,23.51 567.29,23.47 567.64,23.42 568.00,23.37 568.35,23.33 568.70,23.28 569.05,23.24 569.41,23.19 569.76,23.15 570.11,23.11 570.46,23.06 570.82,23.02 571.17,22.98 571.52,22.93 571.87,22.89 572.23,22.85 572.58,22.81 572.93,22.77 573.28,22.73 573.64,22.69 573.99,22.65 574.34,22.61 574.69,22.57 575.04,22.53 575.40,22.50 575.75,22.46 576.10,22.42 576.45,22.38 576.81,22.35 577.16,22.31 577.51,22.27 577.86,22.24 578.22,22.20 578.57,22.17 578.92,22.13 579.27,22.10 579.63,22.07 579.98,22.03 580.33,22.00 580.68,21.97 581.04,21.93 581.39,21.90 581.74,21.87 582.09,21.84 582.44,21.80 582.80,21.77 583.15,21.74 583.50,21.71 583.85,21.68 584.21,21.65 584.56,21.62 584.91,21.59 585.26,21.56 585.62,21.53 585.97,21.50 586.32,21.48 586.67,21.45 587.03,21.42 587.38,21.39 587.73,21.37 588.08,21.34 588.43,21.31 588.79,21.28 589.14,21.26 589.49,21.23 589.84,21.21 590.20,21.18 590.55,21.16 590.90,21.13 591.25,21.11 591.61,21.08 591.96,21.06 592.31,21.03 592.66,21.01 593.02,20.98 593.37,20.96 593.72,20.94 594.07,20.92 594.43,20.89 594.78,20.87 595.13,20.85 595.48,20.83 595.83,20.80 596.19,20.78 596.54,20.76 596.89,20.74 597.24,20.72 597.60,20.70 597.95,20.68 598.30,20.66 598.65,20.64 599.01,20.62 599.36,20.60 599.71,20.58 600.06,20.56 600.42,20.54 600.77,20.52 601.12,20.50 601.47,20.48 601.83,20.46 602.18,20.45 602.53,20.43 602.88,20.41 603.23,20.39 603.59,20.37 603.94,20.36 604.29,20.34 604.64,20.32 605.00,20.31 605.35,20.29 605.70,20.27 606.05,20.26 606.41,20.24 606.76,20.23 607.11,20.21 607.46,20.19 607.82,20.18 608.17,20.16 608.52,20.15 608.87,20.13 609.23,20.12 609.58,20.10 609.93,20.09 610.28,20.07 610.63,20.06 610.99,20.05 611.34,20.03 611.69,20.02 612.04,20.01 612.40,19.99 612.75,19.98 613.10,19.97 613.45,19.95 613.81,19.94 614.16,19.93 614.51,19.91 614.86,19.90 615.22,19.89 615.57,19.88 615.92,19.87 616.27,19.85 616.62,19.84 616.98,19.83 617.33,19.82 617.68,19.81 618.03,19.80 618.39,19.79 618.74,19.77 619.09,19.76 619.44,19.75 619.80,19.74 620.15,19.73 620.50,19.72 620.85,19.71 621.21,19.70 621.56,19.69 621.91,19.68 622.26,19.67 622.62,19.66 622.97,19.65 623.32,19.64 623.67,19.63 624.02,19.62 624.38,19.62 624.73,19.61 625.08,19.60 625.43,19.59 625.79,19.58 626.14,19.57 626.49,19.56 626.84,19.55 627.20,19.55 627.55,19.54 627.90,19.53 628.25,19.52 628.61,19.51 628.96,19.51 629.31,19.50 629.66,19.49 630.02,19.48 630.37,19.48 630.72,19.47 631.07,19.46 631.42,19.45 631.78,19.45 632.13,19.44 632.48,19.43 632.83,19.43 633.19,19.42 633.54,19.41 633.89,19.41 634.24,19.40 634.60,19.39 634.95,19.39 635.30,19.38 635.65,19.38 636.01,19.37 636.36,19.36 636.71,19.36 637.06,19.35 637.42,19.35 637.77,19.34 638.12,19.34 638.47,19.33 638.82,19.32 639.18,19.32 639.53,19.31 639.88,19.31 640.23,19.30 640.59,19.30 640.94,19.29 641.29,19.29 641.64,19.28 642.00,19.28 642.35,19.27 642.70,19.27 643.05,19.27 643.41,19.26 643.76,19.26 644.11,19.25 644.46,19.25 644.81,19.24 645.17,19.24 645.52,19.24 645.87,19.23 646.22,19.23 646.58,19.22 646.93,19.22 647.28,19.22 647.63,19.21 647.99,19.21 648.34,19.20 648.69,19.20 649.04,19.20 649.40,19.19 649.75,19.19 650.10,19.19 650.45,19.18 650.81,19.18 651.16,19.18 651.51,19.17 651.86,19.17 652.21,19.17 652.57,19.17 652.92,19.16 653.27,19.16 653.62,19.16 653.98,19.15 654.33,19.15 654.68,19.15 655.03,19.15 655.39,19.14 655.74,19.14 656.09,19.14 656.44,19.14 656.80,19.13 657.15,19.13 657.50,19.13 657.85,19.13 658.21,19.12 658.56,19.12 658.91,19.12 659.26,19.12 659.61,19.12 659.97,19.11 660.32,19.11 660.67,19.11 661.02,19.11 661.38,19.11 661.73,19.10 662.08,19.10 662.43,19.10 662.79,19.10 663.14,19.10 663.49,19.09 663.84,19.09 664.20,19.09 664.55,19.09 664.90,19.09 665.25,19.09 665.61,19.08 665.96,19.08 666.31,19.08 666.66,19.08 667.01,19.08 667.37,19.08 667.72,19.08 668.07,19.08 668.42,19.07 668.78,19.07 669.13,19.07 669.48,19.07 669.83,19.07 670.19,19.07 670.54,19.07 670.89,19.07 671.24,19.06 671.60,19.06 671.95,19.06 672.30,19.06 672.65,19.06 673.00,19.06 673.36,19.06 673.71,19.06 674.06,19.06 674.41,19.06 674.77,19.06 675.12,19.05 675.47,19.05 675.82,19.05 676.18,19.05 676.53,19.05 676.88,19.05 677.23,19.05 677.59,19.05 677.94,19.05 678.29,19.05 678.64,19.05 679.00,19.05 679.35,19.05 679.70,19.05" fill="none" stroke="#0072BD" stroke-width="1.42" stroke-linejoin="round" clip-path="url(#clip1)"/>
<polyline points="397.80,135.70 397.94,138.11 398.08,140.67 398.22,143.33 398.36,146.06 398.50,148.83 398.65,151.60 398.79,154.37 398.93,157.10 399.07,159.79 399.21,162.42 399.35,164.98 399.49,167.46 399.63,169.86 399.77,172.15 399.91,174.36 400.06,176.45 400.20,178.44 400.34,180.32 400.48,182.10 400.62,183.77 400.76,185.35 400.90,186.84 401.04,188.24 401.18,189.57 401.32,190.83 401.46,192.01 401.61,193.13 401.75,194.19 401.89,195.19 402.03,196.13 402.17,197.02 402.31,197.86 402.45,198.65 402.59,199.40 402.73,200.11 402.87,200.78 403.02,201.41 403.16,202.00 403.30,202.56 403.44,203.09 403.58,203.59 403.72,204.05 403.86,204.49 404.00,204.91 404.14,205.29 404.28,205.66 404.42,206.00 404.57,206.32 404.71,206.62 404.85,206.90 404.99,207.16 405.13,207.40 405.27,207.63 405.41,207.84 405.55,208.04 405.69,208.22 405.83,208.38 405.98,208.54 406.12,208.68 406.26,208.81 406.40,208.93 406.54,209.04 406.68,209.13 406.82,209.22 406.96,209.30 407.10,209.37 407.24,209.43 407.38,209.48 407.53,209.53 407.67,209.56 407.81,209.59 407.95,209.62 408.09,209.63 408.23,209.65 408.37,209.65 408.51,209.65 408.65,209.65 408.79,209.64 408.94,209.62 409.08,209.60 409.22,209.58 409.36,209.55 409.50,209.52 409.64,209.49 409.78,209.45 409.92,209.41 410.06,209.36 410.20,209.31 410.34,209.26 410.49,209.21 410.63,209.16 410.77,209.10 410.91,209.04 411.05,208.98 411.19,208.91 411.33,208.85 411.47,208.78 411.61,208.71 411.75,208.64 411.90,208.57 412.04,208.50 412.18,208.42 412.32,208.35 412.46,208.27 412.60,208.19 412.74,208.11 412.88,208.03 413.02,207.95 413.16,207.86 413.30,207.78 413.45,207.69 413.59,207.60 413.73,207.51 413.87,207.42 414.01,207.33 414.15,207.23 414.29,207.14 414.43,207.04 414.57,206.94 414.71,206.84 415.07,206.58 415.42,206.31 415.77,206.03 416.12,205.74 416.48,205.44 416.83,205.12 417.18,204.80 417.53,204.47 417.89,204.13 418.24,203.78 418.59,203.41 418.94,203.04 419.29,202.66 419.65,202.27 420.00,201.87 420.35,201.46 420.70,201.04 421.06,200.61 421.41,200.17 421.76,199.72 422.11,199.26 422.47,198.80 422.82,198.32 423.17,197.84 423.52,197.35 423.88,196.85 424.23,196.34 424.58,195.82 424.93,195.30 425.29,194.76 425.64,194.22 425.99,193.68 426.34,193.12 426.69,192.56 427.05,191.99 427.40,191.41 427.75,190.83 428.10,190.24 428.46,189.64 428.81,189.03 429.16,188.42 429.51,187.81 429.87,187.18 430.22,186.55 430.57,185.92 430.92,185.27 431.28,184.63 431.63,183.97 431.98,183.31 432.33,182.65 432.69,181.98 433.04,181.30 433.39,180.62 433.74,179.93 434.09,179.24 434.45,178.55 434.80,177.85 435.15,177.14 435.50,176.43 435.86,175.72 436.21,175.01 436.56,174.29 436.91,173.57 437.27,172.85 437.62,172.12 437.97,171.40 438.32,170.67 438.68,169.94 439.03,169.22 439.38,168.49 439.73,167.76 440.09,167.03 440.44,166.30 440.79,165.57 441.14,164.84 441.49,164.11 441.85,163.38 442.20,162.65 442.55,161.92 442.90,161.20 443.26,160.47 443.61,159.75 443.96,159.03 444.31,158.31 444.67,157.59 445.02,156.87 445.37,156.15 445.72,155.44 446.08,154.73 446.43,154.02 446.78,153.31 447.13,152.61 447.48,151.91 447.84,151.21 448.19,150.51 448.54,149.81 448.89,149.12 449.25,148.43 449.60,147.75 449.95,147.06 450.30,146.38 450.66,145.70 451.01,145.03 451.36,144.36 451.71,143.69 452.07,143.02 452.42,142.36 452.77,141.70 453.12,141.05 453.48,140.39 453.83,139.74 454.18,139.10 454.53,138.45 454.88,137.81 455.24,137.18 455.59,136.55 455.94,135.92 456.29,135.29 456.65,134.67 457.00,134.05 457.35,133.44 457.70,132.82 458.06,132.22 458.41,131.61 458.76,131.01 459.11,130.41 459.47,129.82 459.82,129.23 460.17,128.64 460.52,128.06 460.88,127.48 461.23,126.90 461.58,126.33 461.93,125.76 462.28,125.20 462.64,124.64 462.99,124.08 463.34,123.53 463.69,122.98 464.05,122.43 464.40,121.89 464.75,121.35 465.10,120.81 465.46,120.28 465.81,119.75 466.16,119.23 466.51,118.71 466.87,118.19 467.22,117.68 467.57,117.17 467.92,116.66 468.28,116.16 468.63,115.66 468.98,115.17 469.33,114.67 469.68,114.19 470.04,113.70 470.39,113.22 470.74,112.74 471.09,112.27 471.45,111.80 471.80,111.33 472.15,110.87 472.50,110.41 472.86,109.95 473.21,109.49 473.56,109.04 473.91,108.60 474.27,108.15 474.62,107.71 474.97,107.27 475.32,106.84 475.67,106.41 476.03,105.98 476.38,105.56 476.73,105.13 477.08,104.72 477.44,104.30 477.79,103.89 478.14,103.48 478.49,103.07 478.85,102.67 479.20,102.27 479.55,101.87 479.90,101.47 480.26,101.08 480.61,100.69 480.96,100.31 481.31,99.92 481.67,99.54 482.02,99.17 482.37,98.79 482.72,98.42 483.07,98.05 483.43,97.68 483.78,97.32 484.13,96.96 484.48,96.60 484.84,96.24 485.19,95.89 485.54,95.54 485.89,95.19 486.25,94.85 486.60,94.50 486.95,94.16 487.30,93.83 487.66,93.49 488.01,93.16 488.36,92.83 488.71,92.50 489.07,92.17 489.42,91.85 489.77,91.53 490.12,91.21 490.47,90.90 490.83,90.58 491.18,90.27 491.53,89.97 491.88,89.66 492.24,89.36 492.59,89.05 492.94,88.75 493.29,88.46 493.65,88.16 494.00,87.87 494.35,87.58 494.70,87.29 495.06,87.01 495.41,86.72 495.76,86.44 496.11,86.16 496.47,85.88 496.82,85.61 497.17,85.34 497.52,85.06 497.87,84.80 498.23,84.53 498.58,84.26 498.93,84.00 499.28,83.74 499.64,83.48 499.99,83.23 500.34,82.97 500.69,82.72 501.05,82.47 501.40,82.22 501.75,81.97 502.10,81.73 502.46,81.49 502.81,81.25 503.16,81.01 503.51,80.77 503.86,80.54 504.22,80.30 504.57,80.07 504.92,79.84 505.27,79.62 505.63,79.39 505.98,79.17 506.33,78.94 506.68,78.72 507.04,78.50 507.39,78.29 507.74,78.07 508.09,77.86 508.45,77.65 508.80,77.44 509.15,77.23 509.50,77.02 509.86,76.82 510.21,76.62 510.56,76.42 510.91,76.22 511.26,76.02 511.62,75.82 511.97,75.63 512.32,75.44 512.67,75.24 513.03,75.06 513.38,74.87 513.73,74.68 514.08,74.50 514.44,74.31 514.79,74.13 515.14,73.95 515.49,73.77 515.85,73.60 516.20,73.42 516.55,73.25 516.90,73.07 517.26,72.90 517.61,72.73 517.96,72.57 518.31,72.40 518.66,72.24 519.02,72.07 519.37,71.91 519.72,71.75 520.07,71.59 520.43,71.43 520.78,71.28 521.13,71.12 521.48,70.97 521.84,70.82 522.19,70.67 522.54,70.52 522.89,70.37 523.25,70.23 523.60,70.08 523.95,69.94 524.30,69.80 524.65,69.65 525.01,69.52 525.36,69.38 525.71,69.24 526.06,69.11 526.42,68.97 526.77,68.84 527.12,68.71 527.47,68.58 527.83,68.45 528.18,68.32 528.53,68.19 528.88,68.07 529.24,67.95 529.59,67.82 529.94,67.70 530.29,67.58 530.65,67.46 531.00,67.35 531.35,67.23 531.70,67.11 532.05,67.00 532.41,66.89 532.76,66.78 533.11,66.66 533.46,66.56 533.82,66.45 534.17,66.34 534.52,66.23 534.87,66.13 535.23,66.03 535.58,65.92 535.93,65.82 536.28,65.72 536.64,65.62 536.99,65.52 537.34,65.42 537.69,65.33 538.05,65.23 538.40,65.14 538.75,65.04 539.10,64.95 539.45,64.86 539.81,64.77 540.16,64.68 540.51,64.59 540.86,64.50 541.22,64.42 541.57,64.33 541.92,64.24 542.27,64.16 542.63,64.08 542.98,63.99 543.33,63.91 543.68,63.83 544.04,63.75 544.39,63.67 544.74,63.59 545.09,63.52 545.45,63.44 545.80,63.36 546.15,63.29 546.50,63.21 546.85,63.14 547.21,63.07 547.56,63.00 547.91,62.92 548.26,62.85 548.62,62.78 548.97,62.71 549.32,62.65 549.67,62.58 550.03,62.51 550.38,62.45 550.73,62.38 551.08,62.32 551.44,62.25 551.79,62.19 552.14,62.13 552.49,62.06 552.85,62.00 553.20,61.94 553.55,61.88 553.90,61.82 554.25,61.76 554.61,61.70 554.96,61.65 555.31,61.59 555.66,61.53 556.02,61.48 556.37,61.42 556.72,61.37 557.07,61.31 557.43,61.26 557.78,61.21 558.13,61.16 558.48,61.10 558.84,61.05 559.19,61.00 559.54,60.95 559.89,60.90 560.24,60.85 560.60,60.81 560.95,60.76 561.30,60.71 561.65,60.66 562.01,60.62 562.36,60.57 562.71,60.53 563.06,60.48 563.42,60.44 563.77,60.39 564.12,60.35 564.47,60.31 564.83,60.27 565.18,60.22 565.53,60.18 565.88,60.14 566.24,60.10 566.59,60.06 566.94,60.02 567.29,59.98 567.64,59.94 568.00,59.91 568.35,59.87 568.70,59.83 569.05,59.79 569.41,59.76 569.76,59.72 570.11,59.69 570.46,59.65 570.82,59.62 571.17,59.58 571.52,59.55 571.87,59.51 572.23,59.48 572.58,59.45 572.93,59.42 573.28,59.38 573.64,59.35 573.99,59.32 574.34,59.29 574.69,59.26 575.04,59.23 575.40,59.20 575.75,59.17 576.10,59.14 576.45,59.11 576.81,59.08 577.16,59.05 577.51,59.03 577.86,59.00 578.22,58.97 578.57,58.94 578.92,58.92 579.27,58.89 579.63,58.87 579.98,58.84 580.33,58.81 580.68,58.79 581.04,58.76 581.39,58.74 581.74,58.72 582.09,58.69 582.44,58.67 582.80,58.65 583.15,58.62 583.50,58.60 583.85,58.58 584.21,58.56 584.56,58.53 584.91,58.51 585.26,58.49 585.62,58.47 585.97,58.45 586.32,58.43 586.67,58.41 587.03,58.39 587.38,58.37 587.73,58.35 588.08,58.33 588.43,58.31 588.79,58.29 589.14,58.27 589.49,58.25 589.84,58.24 590.20,58.22 590.55,58.20 590.90,58.18 591.25,58.17 591.61,58.15 591.96,58.13 592.31,58.12 592.66,58.10 593.02,58.08 593.37,58.07 593.72,58.05 594.07,58.04 594.43,58.02 594.78,58.01 595.13,57.99 595.48,57.98 595.83,57.96 596.19,57.95 596.54,57.93 596.89,57.92 597.24,57.91 597.60,57.89 597.95,57.88 598.30,57.87 598.65,57.85 599.01,57.84 599.36,57.83 599.71,57.82 600.06,57.80 600.42,57.79 600.77,57.78 601.12,57.77 601.47,57.76 601.83,57.75 602.18,57.73 602.53,57.72 602.88,57.71 603.23,57.70 603.59,57.69 603.94,57.68 604.29,57.67 604.64,57.66 605.00,57.65 605.35,57.64 605.70,57.63 606.05,57.62 606.41,57.61 606.76,57.60 607.11,57.59 607.46,57.58 607.82,57.58 608.17,57.57 608.52,57.56 608.87,57.55 609.23,57.54 609.58,57.53 609.93,57.52 610.28,57.52 610.63,57.51 610.99,57.50 611.34,57.49 611.69,57.49 612.04,57.48 612.40,57.47 612.75,57.46 613.10,57.46 613.45,57.45 613.81,57.44 614.16,57.44 614.51,57.43 614.86,57.42 615.22,57.42 615.57,57.41 615.92,57.40 616.27,57.40 616.62,57.39 616.98,57.39 617.33,57.38 617.68,57.37 618.03,57.37 618.39,57.36 618.74,57.36 619.09,57.35 619.44,57.35 619.80,57.34 620.15,57.34 620.50,57.33 620.85,57.33 621.21,57.32 621.56,57.32 621.91,57.31 622.26,57.31 622.62,57.30 622.97,57.30 623.32,57.29 623.67,57.29 624.02,57.29 624.38,57.28 624.73,57.28 625.08,57.27 625.43,57.27 625.79,57.27 626.14,57.26 626.49,57.26 626.84,57.25 627.20,57.25 627.55,57.25 627.90,57.24 628.25,57.24 628.61,57.24 628.96,57.23 629.31,57.23 629.66,57.23 630.02,57.22 630.37,57.22 630.72,57.22 631.07,57.21 631.42,57.21 631.78,57.21 632.13,57.21 632.48,57.20 632.83,57.20 633.19,57.20 633.54,57.19 633.89,57.19 634.24,57.19 634.60,57.19 634.95,57.18 635.30,57.18 635.65,57.18 636.01,57.18 636.36,57.17 636.71,57.17 637.06,57.17 637.42,57.17 637.77,57.17 638.12,57.16 638.47,57.16 638.82,57.16 639.18,57.16 639.53,57.16 639.88,57.15 640.23,57.15 640.59,57.15 640.94,57.15 641.29,57.15 641.64,57.14 642.00,57.14 642.35,57.14 642.70,57.14 643.05,57.14 643.41,57.13 643.76,57.13 644.11,57.13 644.46,57.13 644.81,57.13 645.17,57.13 645.52,57.13 645.87,57.12 646.22,57.12 646.58,57.12 646.93,57.12 647.28,57.12 647.63,57.12 647.99,57.11 648.34,57.11 648.69,57.11 649.04,57.11 649.40,57.11 649.75,57.11 650.10,57.11 650.45,57.11 650.81,57.10 651.16,57.10 651.51,57.10 651.86,57.10 652.21,57.10 652.57,57.10 652.92,57.10 653.27,57.09 653.62,57.09 653.98,57.09 654.33,57.09 654.68,57.09 655.03,57.09 655.39,57.09 655.74,57.09 656.09,57.08 656.44,57.08 656.80,57.08 657.15,57.08 657.50,57.08 657.85,57.08 658.21,57.08 658.56,57.08 658.91,57.07 659.26,57.07 659.61,57.07 659.97,57.07 660.32,57.07 660.67,57.07 661.02,57.07 661.38,57.07 661.73,57.06 662.08,57.06 662.43,57.06 662.79,57.06 663.14,57.06 663.49,57.06 663.84,57.06 664.20,57.06 664.55,57.05 664.90,57.05 665.25,57.05 665.61,57.05 665.96,57.05 666.31,57.05 666.66,57.05 667.01,57.05 667.37,57.04 667.72,57.04 668.07,57.04 668.42,57.04 668.78,57.04 669.13,57.04 669.48,57.04 669.83,57.03 670.19,57.03 670.54,57.03 670.89,57.03 671.24,57.03 671.60,57.03 671.95,57.02 672.30,57.02 672.65,57.02 673.00,57.02 673.36,57.02 673.71,57.02 674.06,57.01 674.41,57.01 674.77,57.01 675.12,57.01 675.47,57.01 675.82,57.01 676.18,57.00 676.53,57.00 676.88,57.00 677.23,57.00 677.59,57.00 677.94,56.99 678.29,56.99 678.64,56.99 679.00,56.99 679.35,56.99 679.70,56.98" fill="none" stroke="#D95319" stroke-width="1.42" stroke-linejoin="round" clip-path="url(#clip1)"/>
<polyline points="397.80,135.70 397.94,138.18 398.08,140.79 398.22,143.49 398.36,146.24 398.50,149.02 398.65,151.81 398.79,154.57 398.93,157.30 399.07,159.98 399.21,162.59 399.35,165.14 399.49,167.60 399.63,169.97 399.77,172.24 399.91,174.42 400.06,176.49 400.20,178.45 400.34,180.30 400.48,182.05 400.62,183.70 400.76,185.25 400.90,186.72 401.04,188.10 401.18,189.40 401.32,190.64 401.46,191.80 401.61,192.90 401.75,193.94 401.89,194.92 402.03,195.85 402.17,196.72 402.31,197.55 402.45,198.33 402.59,199.07 402.73,199.77 402.87,200.43 403.02,201.05 403.16,201.64 403.30,202.20 403.44,202.73 403.58,203.22 403.72,203.69 403.86,204.13 404.00,204.55 404.14,204.94 404.28,205.31 404.42,205.66 404.57,205.99 404.71,206.29 404.85,206.58 404.99,206.86 405.13,207.11 405.27,207.35 405.41,207.57 405.55,207.78 405.69,207.98 405.83,208.16 405.98,208.33 406.12,208.49 406.26,208.64 406.40,208.77 406.54,208.90 406.68,209.01 406.82,209.11 406.96,209.20 407.10,209.29 407.24,209.36 407.38,209.43 407.53,209.49 407.67,209.53 407.81,209.57 407.95,209.61 408.09,209.63 408.23,209.65 408.37,209.66 408.51,209.67 408.65,209.67 408.79,209.66 408.94,209.64 409.08,209.62 409.22,209.60 409.36,209.57 409.50,209.53 409.64,209.49 409.78,209.44 409.92,209.39 410.06,209.33 410.20,209.27 410.34,209.21 410.49,209.14 410.63,209.06 410.77,208.99 410.91,208.90 411.05,208.82 411.19,208.73 411.33,208.64 411.47,208.54 411.61,208.44 411.75,208.34 411.90,208.23 412.04,208.12 412.18,208.01 412.32,207.90 412.46,207.78 412.60,207.66 412.74,207.54 412.88,207.42 413.02,207.29 413.16,207.16 413.30,207.03 413.45,206.89 413.59,206.76 413.73,206.62 413.87,206.48 414.01,206.34 414.15,206.19 414.29,206.05 414.43,205.90 414.57,205.75 414.71,205.60 415.07,205.21 415.42,204.82 415.77,204.42 416.12,204.01 416.48,203.59 416.83,203.16 417.18,202.73 417.53,202.30 417.89,201.85 418.24,201.41 418.59,200.96 418.94,200.50 419.29,200.03 419.65,199.56 420.00,199.09 420.35,198.60 420.70,198.11 421.06,197.61 421.41,197.10 421.76,196.58 422.11,196.05 422.47,195.52 422.82,194.98 423.17,194.42 423.52,193.86 423.88,193.29 424.23,192.71 424.58,192.12 424.93,191.52 425.29,190.92 425.64,190.30 425.99,189.67 426.34,189.04 426.69,188.39 427.05,187.74 427.40,187.08 427.75,186.40 428.10,185.72 428.46,185.03 428.81,184.33 429.16,183.62 429.51,182.90 429.87,182.18 430.22,181.44 430.57,180.70 430.92,179.94 431.28,179.18 431.63,178.41 431.98,177.63 432.33,176.85 432.69,176.05 433.04,175.25 433.39,174.45 433.74,173.64 434.09,172.82 434.45,172.00 434.80,171.17 435.15,170.34 435.50,169.50 435.86,168.66 436.21,167.81 436.56,166.96 436.91,166.11 437.27,165.26 437.62,164.40 437.97,163.54 438.32,162.67 438.68,161.81 439.03,160.94 439.38,160.07 439.73,159.20 440.09,158.32 440.44,157.45 440.79,156.57 441.14,155.69 441.49,154.81 441.85,153.93 442.20,153.05 442.55,152.17 442.90,151.29 443.26,150.40 443.61,149.52 443.96,148.64 444.31,147.75 444.67,146.87 445.02,145.99 445.37,145.10 445.72,144.22 446.08,143.34 446.43,142.45 446.78,141.57 447.13,140.69 447.48,139.81 447.84,138.93 448.19,138.05 448.54,137.17 448.89,136.29 449.25,135.42 449.60,134.54 449.95,133.67 450.30,132.80 450.66,131.92 451.01,131.06 451.36,130.19 451.71,129.32 452.07,128.46 452.42,127.60 452.77,126.75 453.12,125.89 453.48,125.05 453.83,124.20 454.18,123.36 454.53,122.52 454.88,121.68 455.24,120.85 455.59,120.03 455.94,119.20 456.29,118.39 456.65,117.57 457.00,116.77 457.35,115.96 457.70,115.16 458.06,114.37 458.41,113.58 458.76,112.80 459.11,112.02 459.47,111.25 459.82,110.48 460.17,109.72 460.52,108.96 460.88,108.21 461.23,107.47 461.58,106.73 461.93,106.00 462.28,105.27 462.64,104.55 462.99,103.84 463.34,103.13 463.69,102.42 464.05,101.73 464.40,101.04 464.75,100.36 465.10,99.68 465.46,99.01 465.81,98.34 466.16,97.68 466.51,97.03 466.87,96.39 467.22,95.75 467.57,95.12 467.92,94.49 468.28,93.87 468.63,93.26 468.98,92.65 469.33,92.05 469.68,91.46 470.04,90.88 470.39,90.30 470.74,89.72 471.09,89.16 471.45,88.60 471.80,88.04 472.15,87.50 472.50,86.96 472.86,86.42 473.21,85.89 473.56,85.37 473.91,84.85 474.27,84.34 474.62,83.83 474.97,83.33 475.32,82.83 475.67,82.34 476.03,81.86 476.38,81.38 476.73,80.90 477.08,80.43 477.44,79.97 477.79,79.51 478.14,79.05 478.49,78.60 478.85,78.16 479.20,77.72 479.55,77.28 479.90,76.85 480.26,76.42 480.61,76.00 480.96,75.58 481.31,75.17 481.67,74.76 482.02,74.36 482.37,73.95 482.72,73.56 483.07,73.17 483.43,72.78 483.78,72.39 484.13,72.01 484.48,71.63 484.84,71.26 485.19,70.89 485.54,70.53 485.89,70.17 486.25,69.81 486.60,69.45 486.95,69.10 487.30,68.76 487.66,68.41 488.01,68.07 488.36,67.74 488.71,67.40 489.07,67.07 489.42,66.75 489.77,66.42 490.12,66.10 490.47,65.78 490.83,65.47 491.18,65.16 491.53,64.85 491.88,64.55 492.24,64.25 492.59,63.95 492.94,63.65 493.29,63.36 493.65,63.07 494.00,62.78 494.35,62.50 494.70,62.21 495.06,61.93 495.41,61.66 495.76,61.38 496.11,61.11 496.47,60.85 496.82,60.58 497.17,60.32 497.52,60.06 497.87,59.80 498.23,59.54 498.58,59.29 498.93,59.04 499.28,58.79 499.64,58.54 499.99,58.30 500.34,58.06 500.69,57.82 501.05,57.58 501.40,57.35 501.75,57.11 502.10,56.88 502.46,56.65 502.81,56.43 503.16,56.20 503.51,55.98 503.86,55.76 504.22,55.55 504.57,55.33 504.92,55.12 505.27,54.90 505.63,54.69 505.98,54.49 506.33,54.28 506.68,54.08 507.04,53.87 507.39,53.67 507.74,53.48 508.09,53.28 508.45,53.09 508.80,52.89 509.15,52.70 509.50,52.51 509.86,52.32 510.21,52.14 510.56,51.95 510.91,51.77 511.26,51.59 511.62,51.41 511.97,51.23 512.32,51.06 512.67,50.88 513.03,50.71 513.38,50.54 513.73,50.37 514.08,50.20 514.44,50.03 514.79,49.87 515.14,49.70 515.49,49.54 515.85,49.38 516.20,49.22 516.55,49.06 516.90,48.91 517.26,48.75 517.61,48.60 517.96,48.45 518.31,48.30 518.66,48.15 519.02,48.00 519.37,47.85 519.72,47.70 520.07,47.56 520.43,47.42 520.78,47.28 521.13,47.13 521.48,47.00 521.84,46.86 522.19,46.72 522.54,46.58 522.89,46.45 523.25,46.32 523.60,46.18 523.95,46.05 524.30,45.92 524.65,45.80 525.01,45.67 525.36,45.54 525.71,45.42 526.06,45.29 526.42,45.17 526.77,45.05 527.12,44.92 527.47,44.80 527.83,44.69 528.18,44.57 528.53,44.45 528.88,44.34 529.24,44.22 529.59,44.11 529.94,43.99 530.29,43.88 530.65,43.77 531.00,43.66 531.35,43.55 531.70,43.44 532.05,43.34 532.41,43.23 532.76,43.12 533.11,43.02 533.46,42.92 533.82,42.81 534.17,42.71 534.52,42.61 534.87,42.51 535.23,42.41 535.58,42.31 535.93,42.22 536.28,42.12 536.64,42.02 536.99,41.93 537.34,41.84 537.69,41.74 538.05,41.65 538.40,41.56 538.75,41.47 539.10,41.38 539.45,41.29 539.81,41.20 540.16,41.11 540.51,41.02 540.86,40.94 541.22,40.85 541.57,40.77 541.92,40.68 542.27,40.60 542.63,40.52 542.98,40.43 543.33,40.35 543.68,40.27 544.04,40.19 544.39,40.11 544.74,40.03 545.09,39.96 545.45,39.88 545.80,39.80 546.15,39.73 546.50,39.65 546.85,39.58 547.21,39.50 547.56,39.43 547.91,39.36 548.26,39.29 548.62,39.21 548.97,39.14 549.32,39.07 549.67,39.00 550.03,38.93 550.38,38.87 550.73,38.80 551.08,38.73 551.44,38.66 551.79,38.60 552.14,38.53 552.49,38.47 552.85,38.40 553.20,38.34 553.55,38.28 553.90,38.21 554.25,38.15 554.61,38.09 554.96,38.03 555.31,37.97 555.66,37.91 556.02,37.85 556.37,37.79 556.72,37.73 557.07,37.67 557.43,37.61 557.78,37.56 558.13,37.50 558.48,37.44 558.84,37.39 559.19,37.33 559.54,37.28 559.89,37.22 560.24,37.17 560.60,37.12 560.95,37.06 561.30,37.01 561.65,36.96 562.01,36.91 562.36,36.86 562.71,36.81 563.06,36.76 563.42,36.71 563.77,36.66 564.12,36.61 564.47,36.56 564.83,36.51 565.18,36.47 565.53,36.42 565.88,36.37 566.24,36.32 566.59,36.28 566.94,36.23 567.29,36.19 567.64,36.14 568.00,36.10 568.35,36.06 568.70,36.01 569.05,35.97 569.41,35.93 569.76,35.88 570.11,35.84 570.46,35.80 570.82,35.76 571.17,35.72 571.52,35.68 571.87,35.64 572.23,35.60 572.58,35.56 572.93,35.52 573.28,35.48 573.64,35.44 573.99,35.40 574.34,35.36 574.69,35.33 575.04,35.29 575.40,35.25 575.75,35.22 576.10,35.18 576.45,35.14 576.81,35.11 577.16,35.07 577.51,35.04 577.86,35.00 578.22,34.97 578.57,34.94 578.92,34.90 579.27,34.87 579.63,34.84 579.98,34.80 580.33,34.77 580.68,34.74 581.04,34.71 581.39,34.67 581.74,34.64 582.09,34.61 582.44,34.58 582.80,34.55 583.15,34.52 583.50,34.49 583.85,34.46 584.21,34.43 584.56,34.40 584.91,34.37 585.26,34.34 585.62,34.32 585.97,34.29 586.32,34.26 586.67,34.23 587.03,34.21 587.38,34.18 587.73,34.15 588.08,34.13 588.43,34.10 588.79,34.07 589.14,34.05 589.49,34.02 589.84,34.00 590.20,33.97 590.55,33.95 590.90,33.92 591.25,33.90 591.61,33.87 591.96,33.85 592.31,33.82 592.66,33.80 593.02,33.78 593.37,33.75 593.72,33.73 594.07,33.71 594.43,33.69 594.78,33.66 595.13,33.64 595.48,33.62 595.83,33.60 596.19,33.58 596.54,33.56 596.89,33.54 597.24,33.51 597.60,33.49 597.95,33.47 598.30,33.45 598.65,33.43 599.01,33.41 599.36,33.39 599.71,33.37 600.06,33.36 600.42,33.34 600.77,33.32 601.12,33.30 601.47,33.28 601.83,33.26 602.18,33.24 602.53,33.23 602.88,33.21 603.23,33.19 603.59,33.17 603.94,33.16 604.29,33.14 604.64,33.12 605.00,33.10 605.35,33.09 605.70,33.07 606.05,33.06 606.41,33.04 606.76,33.02 607.11,33.01 607.46,32.99 607.82,32.98 608.17,32.96 608.52,32.95 608.87,32.93 609.23,32.92 609.58,32.90 609.93,32.89 610.28,32.87 610.63,32.86 610.99,32.84 611.34,32.83 611.69,32.82 612.04,32.80 612.40,32.79 612.75,32.78 613.10,32.76 613.45,32.75 613.81,32.74 614.16,32.72 614.51,32.71 614.86,32.70 615.22,32.69 615.57,32.67 615.92,32.66 616.27,32.65 616.62,32.64 616.98,32.63 617.33,32.61 617.68,32.60 618.03,32.59 618.39,32.58 618.74,32.57 619.09,32.56 619.44,32.55 619.80,32.54 620.15,32.52 620.50,32.51 620.85,32.50 621.21,32.49 621.56,32.48 621.91,32.47 622.26,32.46 622.62,32.45 622.97,32.44 623.32,32.43 623.67,32.42 624.02,32.41 624.38,32.41 624.73,32.40 625.08,32.39 625.43,32.38 625.79,32.37 626.14,32.36 626.49,32.35 626.84,32.34 627.20,32.33 627.55,32.33 627.90,32.32 628.25,32.31 628.61,32.30 628.96,32.29 629.31,32.29 629.66,32.28 630.02,32.27 630.37,32.26 630.72,32.25 631.07,32.25 631.42,32.24 631.78,32.23 632.13,32.22 632.48,32.22 632.83,32.21 633.19,32.20 633.54,32.20 633.89,32.19 634.24,32.18 634.60,32.18 634.95,32.17 635.30,32.16 635.65,32.16 636.01,32.15 636.36,32.14 636.71,32.14 637.06,32.13 637.42,32.13 637.77,32.12 638.12,32.12 638.47,32.11 638.82,32.10 639.18,32.10 639.53,32.09 639.88,32.09 640.23,32.08 640.59,32.08 640.94,32.07 641.29,32.07 641.64,32.06 642.00,32.06 642.35,32.05 642.70,32.05 643.05,32.04 643.41,32.04 643.76,32.03 644.11,32.03 644.46,32.02 644.81,32.02 645.17,32.01 645.52,32.01 645.87,32.01 646.22,32.00 646.58,32.00 646.93,31.99 647.28,31.99 647.63,31.98 647.99,31.98 648.34,31.98 648.69,31.97 649.04,31.97 649.40,31.97 649.75,31.96 650.10,31.96 650.45,31.95 650.81,31.95 651.16,31.95 651.51,31.94 651.86,31.94 652.21,31.94 652.57,31.93 652.92,31.93 653.27,31.93 653.62,31.93 653.98,31.92 654.33,31.92 654.68,31.92 655.03,31.91 655.39,31.91 655.74,31.91 656.09,31.91 656.44,31.90 656.80,31.90 657.15,31.90 657.50,31.89 657.85,31.89 658.21,31.89 658.56,31.89 658.91,31.89 659.26,31.88 659.61,31.88 659.97,31.88 660.32,31.88 660.67,31.87 661.02,31.87 661.38,31.87 661.73,31.87 662.08,31.87 662.43,31.86 662.79,31.86 663.14,31.86 663.49,31.86 663.84,31.86 664.20,31.85 664.55,31.85 664.90,31.85 665.25,31.85 665.61,31.85 665.96,31.85 666.31,31.84 666.66,31.84 667.01,31.84 667.37,31.84 667.72,31.84 668.07,31.84 668.42,31.84 668.78,31.84 669.13,31.83 669.48,31.83 669.83,31.83 670.19,31.83 670.54,31.83 670.89,31.83 671.24,31.83 671.60,31.83 671.95,31.82 672.30,31.82 672.65,31.82 673.00,31.82 673.36,31.82 673.71,31.82 674.06,31.82 674.41,31.82 674.77,31.82 675.12,31.82 675.47,31.82 675.82,31.81 676.18,31.81 676.53,31.81 676.88,31.81 677.23,31.81 677.59,31.81 677.94,31.81 678.29,31.81 678.64,31.81 679.00,31.81 679.35,31.81 679.70,31.81" fill="none" stroke="#EDB120" stroke-width="1.42" stroke-linejoin="round" clip-path="url(#clip1)"/>
<g font-family="Liberation Sans, Arial, Helvetica, sans-serif" font-size="6.2" fill="#262626" stroke="#262626" stroke-width="0.22">
<text x="397.80" y="233.50" text-anchor="middle">0</text>
<text x="425.99" y="233.50" text-anchor="middle">20</text>
<text x="454.18" y="233.50" text-anchor="middle">40</text>
<text x="482.37" y="233.50" text-anchor="middle">60</text>
<text x="510.56" y="233.50" text-anchor="middle">80</text>
<text x="538.75" y="233.50" text-anchor="middle">100</text>
<text x="566.94" y="233.50" text-anchor="middle">120</text>
<text x="595.13" y="233.50" text-anchor="middle">140</text>
<text x="623.32" y="233.50" text-anchor="middle">160</text>
<text x="651.51" y="233.50" text-anchor="middle">180</text>
<text x="679.70" y="233.50" text-anchor="middle">200</text>
<text x="394.80" y="226.65" text-anchor="end">1</text>
<text x="394.80" y="204.45" text-anchor="end">2</text>
<text x="394.80" y="182.25" text-anchor="end">3</text>
<text x="394.80" y="160.05" text-anchor="end">4</text>
<text x="394.80" y="137.85" text-anchor="end">5</text>
<text x="394.80" y="115.65" text-anchor="end">6</text>
<text x="394.80" y="93.45" text-anchor="end">7</text>
<text x="394.80" y="71.25" text-anchor="end">8</text>
<text x="394.80" y="49.05" text-anchor="end">9</text>
<text x="394.80" y="26.85" text-anchor="end">10</text>
<text x="394.80" y="4.65" text-anchor="end">11</text>
</g>
<g font-family="Liberation Sans, Arial, Helvetica, sans-serif" font-size="7.0" fill="#262626" stroke="#262626" stroke-width="0.22">
<text x="538.75" y="243.20" text-anchor="middle">time</text>
<text transform="translate(384.00 113.50) rotate(-90)" text-anchor="middle">E</text>
</g>
<rect x="403.10" y="7.90" width="83.50" height="24.80" fill="#fff" stroke="#2c2c2c" stroke-width="0.6"/>
<g font-family="Liberation Sans, Arial, Helvetica, sans-serif" font-size="5.62" fill="#262626" stroke="#262626" stroke-width="0.15">
<path d="M406.00 13.23h19.6" stroke="#0072BD" stroke-width="1.136" fill="none"/>
<text x="428.00" y="15.43"><tspan font-style="italic">δ</tspan>(t)=1</text>
<path d="M406.00 20.80h19.6" stroke="#D95319" stroke-width="1.136" fill="none"/>
<text x="428.00" y="23.00"><tspan font-style="italic">δ</tspan>(t)=0.97</text>
<path d="M406.00 27.99h19.6" stroke="#EDB120" stroke-width="1.136" fill="none"/>
<text x="428.00" y="30.19"><tspan font-style="italic">δ</tspan>(t)=0.99-(0.001/100)t</text>
</g>
<text id="cap1" x="531.70" y="274.80" text-anchor="middle" font-size="13.3" fill="#111" stroke="#111" stroke-width="0.12" font-family="Liberation Serif, Times New Roman, serif"><tspan font-family="Liberation Sans, Arial, Helvetica, sans-serif" font-weight="bold" font-size="14.0">(b)</tspan><tspan dx="3.6">Time response of </tspan><tspan font-style="italic">E</tspan></text>
<path d="M47.90 301.60V523.90M76.10 301.60V523.90M104.30 301.60V523.90M132.50 301.60V523.90M160.70 301.60V523.90M188.90 301.60V523.90M217.10 301.60V523.90M245.30 301.60V523.90M273.50 301.60V523.90M19.70 499.20H301.70M19.70 474.50H301.70M19.70 449.80H301.70M19.70 425.10H301.70M19.70 400.40H301.70M19.70 375.70H301.70M19.70 351.00H301.70M19.70 326.30H301.70" stroke="#e3e3e3" stroke-width="0.7" fill="none"/>
<path d="M19.70 301.60H301.70V523.90H19.70ZM19.70 523.90v-3.0M19.70 301.60v3.0M47.90 523.90v-3.0M47.90 301.60v3.0M76.10 523.90v-3.0M76.10 301.60v3.0M104.30 523.90v-3.0M104.30 301.60v3.0M132.50 523.90v-3.0M132.50 301.60v3.0M160.70 523.90v-3.0M160.70 301.60v3.0M188.90 523.90v-3.0M188.90 301.60v3.0M217.10 523.90v-3.0M217.10 301.60v3.0M245.30 523.90v-3.0M245.30 301.60v3.0M273.50 523.90v-3.0M273.50 301.60v3.0M301.70 523.90v-3.0M301.70 301.60v3.0M19.70 523.90h3.0M301.70 523.90h-3.0M19.70 499.20h3.0M301.70 499.20h-3.0M19.70 474.50h3.0M301.70 474.50h-3.0M19.70 449.80h3.0M301.70 449.80h-3.0M19.70 425.10h3.0M301.70 425.10h-3.0M19.70 400.40h3.0M301.70 400.40h-3.0M19.70 375.70h3.0M301.70 375.70h-3.0M19.70 351.00h3.0M301.70 351.00h-3.0M19.70 326.30h3.0M301.70 326.30h-3.0M19.70 301.60h3.0M301.70 301.60h-3.0" stroke="#2c2c2c" stroke-width="0.85" fill="none"/>
<clipPath id="clip2"><rect x="19.45" y="301.10" width="283.00" height="223.80"/></clipPath>
<polyline points="19.70,425.10 19.84,422.95 19.98,420.40 20.12,417.53 20.26,414.40 20.40,411.08 20.55,407.63 20.69,404.07 20.83,400.45 20.97,396.80 21.11,393.15 21.25,389.53 21.39,385.94 21.53,382.42 21.67,378.98 21.81,375.62 21.96,372.36 22.10,369.20 22.24,366.16 22.38,363.23 22.52,360.43 22.66,357.74 22.80,355.18 22.94,352.75 23.08,350.44 23.22,348.27 23.37,346.22 23.51,344.30 23.65,342.51 23.79,340.85 23.93,339.32 24.07,337.90 24.21,336.60 24.35,335.40 24.49,334.29 24.63,333.26 24.78,332.32 24.92,331.45 25.06,330.65 25.20,329.91 25.34,329.23 25.48,328.60 25.62,328.02 25.76,327.49 25.90,326.99 26.04,326.53 26.19,326.11 26.33,325.72 26.47,325.35 26.61,325.01 26.75,324.70 26.89,324.40 27.03,324.13 27.17,323.88 27.31,323.65 27.45,323.43 27.60,323.23 27.74,323.05 27.88,322.88 28.02,322.72 28.16,322.57 28.30,322.44 28.44,322.31 28.58,322.20 28.72,322.09 28.86,322.00 29.01,321.91 29.15,321.83 29.29,321.76 29.43,321.70 29.57,321.65 29.71,321.60 29.85,321.56 29.99,321.53 30.13,321.51 30.27,321.49 30.42,321.48 30.56,321.48 30.70,321.48 30.84,321.49 30.98,321.51 31.12,321.53 31.26,321.56 31.40,321.59 31.54,321.63 31.68,321.67 31.83,321.72 31.97,321.78 32.11,321.84 32.25,321.90 32.39,321.97 32.53,322.04 32.67,322.12 32.81,322.20 32.95,322.28 33.09,322.37 33.24,322.47 33.38,322.56 33.52,322.67 33.66,322.77 33.80,322.88 33.94,322.99 34.08,323.11 34.22,323.22 34.36,323.34 34.50,323.47 34.65,323.60 34.79,323.73 34.93,323.86 35.07,324.00 35.21,324.14 35.35,324.28 35.49,324.42 35.63,324.57 35.77,324.72 35.91,324.87 36.06,325.03 36.20,325.18 36.34,325.34 36.48,325.50 36.62,325.67 36.97,326.09 37.33,326.52 37.68,326.96 38.03,327.41 38.38,327.87 38.73,328.35 39.09,328.83 39.44,329.32 39.79,329.82 40.14,330.33 40.50,330.84 40.85,331.37 41.20,331.89 41.55,332.43 41.91,332.97 42.26,333.52 42.61,334.07 42.97,334.62 43.32,335.19 43.67,335.76 44.02,336.34 44.38,336.92 44.73,337.52 45.08,338.12 45.43,338.73 45.78,339.35 46.14,339.97 46.49,340.61 46.84,341.25 47.20,341.91 47.55,342.57 47.90,343.25 48.25,343.93 48.61,344.62 48.96,345.32 49.31,346.03 49.66,346.75 50.02,347.49 50.37,348.23 50.72,348.98 51.07,349.74 51.42,350.51 51.78,351.29 52.13,352.08 52.48,352.88 52.83,353.69 53.19,354.50 53.54,355.33 53.89,356.17 54.25,357.02 54.60,357.87 54.95,358.74 55.30,359.61 55.66,360.50 56.01,361.39 56.36,362.29 56.71,363.21 57.06,364.13 57.42,365.05 57.77,365.99 58.12,366.93 58.47,367.88 58.83,368.83 59.18,369.79 59.53,370.75 59.89,371.72 60.24,372.69 60.59,373.67 60.94,374.65 61.30,375.63 61.65,376.61 62.00,377.60 62.35,378.59 62.70,379.58 63.06,380.57 63.41,381.56 63.76,382.55 64.11,383.55 64.47,384.54 64.82,385.53 65.17,386.53 65.53,387.52 65.88,388.52 66.23,389.51 66.58,390.50 66.94,391.49 67.29,392.48 67.64,393.47 67.99,394.45 68.34,395.44 68.70,396.42 69.05,397.40 69.40,398.38 69.75,399.35 70.11,400.33 70.46,401.30 70.81,402.27 71.17,403.23 71.52,404.19 71.87,405.15 72.22,406.11 72.58,407.06 72.93,408.01 73.28,408.96 73.63,409.90 73.98,410.84 74.34,411.78 74.69,412.71 75.04,413.64 75.39,414.57 75.75,415.49 76.10,416.41 76.45,417.32 76.80,418.23 77.16,419.14 77.51,420.04 77.86,420.93 78.22,421.83 78.57,422.72 78.92,423.60 79.27,424.48 79.62,425.36 79.98,426.23 80.33,427.10 80.68,427.96 81.03,428.82 81.39,429.67 81.74,430.52 82.09,431.37 82.44,432.21 82.80,433.04 83.15,433.88 83.50,434.70 83.86,435.52 84.21,436.34 84.56,437.16 84.91,437.96 85.27,438.77 85.62,439.57 85.97,440.36 86.32,441.15 86.67,441.93 87.03,442.72 87.38,443.49 87.73,444.26 88.09,445.03 88.44,445.79 88.79,446.55 89.14,447.30 89.50,448.04 89.85,448.79 90.20,449.52 90.55,450.26 90.91,450.99 91.26,451.71 91.61,452.43 91.96,453.14 92.31,453.85 92.67,454.56 93.02,455.25 93.37,455.95 93.73,456.64 94.08,457.32 94.43,458.00 94.78,458.67 95.14,459.34 95.49,460.00 95.84,460.66 96.19,461.31 96.55,461.96 96.90,462.60 97.25,463.24 97.60,463.87 97.95,464.49 98.31,465.11 98.66,465.72 99.01,466.33 99.37,466.93 99.72,467.53 100.07,468.12 100.42,468.71 100.78,469.29 101.13,469.86 101.48,470.43 101.83,470.99 102.19,471.55 102.54,472.10 102.89,472.65 103.24,473.19 103.59,473.72 103.95,474.25 104.30,474.77 104.65,475.29 105.01,475.80 105.36,476.31 105.71,476.81 106.06,477.30 106.42,477.79 106.77,478.28 107.12,478.75 107.47,479.23 107.83,479.69 108.18,480.16 108.53,480.61 108.88,481.07 109.23,481.51 109.59,481.96 109.94,482.39 110.29,482.82 110.64,483.25 111.00,483.67 111.35,484.09 111.70,484.50 112.06,484.91 112.41,485.32 112.76,485.72 113.11,486.11 113.47,486.50 113.82,486.89 114.17,487.27 114.52,487.64 114.88,488.02 115.23,488.38 115.58,488.75 115.93,489.11 116.28,489.46 116.64,489.81 116.99,490.16 117.34,490.50 117.70,490.84 118.05,491.18 118.40,491.51 118.75,491.83 119.11,492.16 119.46,492.48 119.81,492.79 120.16,493.10 120.52,493.41 120.87,493.72 121.22,494.02 121.57,494.32 121.92,494.61 122.28,494.90 122.63,495.19 122.98,495.47 123.34,495.75 123.69,496.03 124.04,496.31 124.39,496.58 124.75,496.85 125.10,497.11 125.45,497.37 125.80,497.63 126.16,497.89 126.51,498.14 126.86,498.40 127.21,498.64 127.56,498.89 127.92,499.13 128.27,499.37 128.62,499.61 128.97,499.85 129.33,500.08 129.68,500.31 130.03,500.54 130.38,500.77 130.74,500.99 131.09,501.21 131.44,501.43 131.79,501.65 132.15,501.86 132.50,502.07 132.85,502.28 133.20,502.49 133.56,502.70 133.91,502.90 134.26,503.10 134.62,503.30 134.97,503.50 135.32,503.70 135.67,503.89 136.03,504.08 136.38,504.27 136.73,504.46 137.08,504.65 137.44,504.83 137.79,505.01 138.14,505.20 138.49,505.37 138.84,505.55 139.20,505.73 139.55,505.90 139.90,506.07 140.25,506.24 140.61,506.41 140.96,506.58 141.31,506.75 141.66,506.91 142.02,507.07 142.37,507.23 142.72,507.39 143.07,507.55 143.43,507.70 143.78,507.86 144.13,508.01 144.48,508.16 144.84,508.31 145.19,508.46 145.54,508.61 145.89,508.75 146.25,508.90 146.60,509.04 146.95,509.18 147.31,509.32 147.66,509.46 148.01,509.60 148.36,509.73 148.71,509.87 149.07,510.00 149.42,510.13 149.77,510.26 150.12,510.39 150.48,510.52 150.83,510.65 151.18,510.77 151.53,510.90 151.89,511.02 152.24,511.14 152.59,511.26 152.94,511.38 153.30,511.50 153.65,511.62 154.00,511.73 154.35,511.85 154.71,511.96 155.06,512.07 155.41,512.19 155.76,512.30 156.12,512.41 156.47,512.51 156.82,512.62 157.17,512.73 157.53,512.83 157.88,512.94 158.23,513.04 158.58,513.14 158.94,513.24 159.29,513.34 159.64,513.44 159.99,513.54 160.35,513.64 160.70,513.73 161.05,513.83 161.41,513.92 161.76,514.02 162.11,514.11 162.46,514.20 162.81,514.29 163.17,514.38 163.52,514.47 163.87,514.56 164.22,514.65 164.58,514.73 164.93,514.82 165.28,514.90 165.63,514.99 165.99,515.07 166.34,515.15 166.69,515.23 167.04,515.31 167.40,515.39 167.75,515.47 168.10,515.55 168.45,515.63 168.81,515.71 169.16,515.78 169.51,515.86 169.86,515.93 170.22,516.01 170.57,516.08 170.92,516.15 171.27,516.22 171.63,516.29 171.98,516.36 172.33,516.43 172.69,516.50 173.04,516.57 173.39,516.64 173.74,516.71 174.09,516.77 174.45,516.84 174.80,516.90 175.15,516.97 175.50,517.03 175.86,517.09 176.21,517.16 176.56,517.22 176.91,517.28 177.27,517.34 177.62,517.40 177.97,517.46 178.32,517.52 178.68,517.58 179.03,517.63 179.38,517.69 179.73,517.75 180.09,517.80 180.44,517.86 180.79,517.91 181.14,517.97 181.50,518.02 181.85,518.07 182.20,518.13 182.55,518.18 182.91,518.23 183.26,518.28 183.61,518.33 183.96,518.38 184.32,518.43 184.67,518.48 185.02,518.53 185.38,518.58 185.73,518.63 186.08,518.67 186.43,518.72 186.78,518.77 187.14,518.81 187.49,518.86 187.84,518.90 188.19,518.95 188.55,518.99 188.90,519.03 189.25,519.08 189.60,519.12 189.96,519.16 190.31,519.20 190.66,519.25 191.01,519.29 191.37,519.33 191.72,519.37 192.07,519.41 192.42,519.45 192.78,519.49 193.13,519.52 193.48,519.56 193.83,519.60 194.19,519.64 194.54,519.68 194.89,519.71 195.24,519.75 195.60,519.78 195.95,519.82 196.30,519.86 196.66,519.89 197.01,519.92 197.36,519.96 197.71,519.99 198.06,520.03 198.42,520.06 198.77,520.09 199.12,520.13 199.47,520.16 199.83,520.19 200.18,520.22 200.53,520.25 200.88,520.28 201.24,520.31 201.59,520.34 201.94,520.37 202.29,520.40 202.65,520.43 203.00,520.46 203.35,520.49 203.70,520.52 204.06,520.55 204.41,520.57 204.76,520.60 205.11,520.63 205.47,520.66 205.82,520.68 206.17,520.71 206.52,520.74 206.88,520.76 207.23,520.79 207.58,520.81 207.94,520.84 208.29,520.86 208.64,520.89 208.99,520.91 209.34,520.94 209.70,520.96 210.05,520.98 210.40,521.01 210.75,521.03 211.11,521.05 211.46,521.08 211.81,521.10 212.16,521.12 212.52,521.14 212.87,521.17 213.22,521.19 213.57,521.21 213.93,521.23 214.28,521.25 214.63,521.27 214.98,521.29 215.34,521.31 215.69,521.33 216.04,521.35 216.39,521.37 216.75,521.39 217.10,521.41 217.45,521.43 217.80,521.45 218.16,521.47 218.51,521.49 218.86,521.50 219.21,521.52 219.57,521.54 219.92,521.56 220.27,521.58 220.62,521.59 220.98,521.61 221.33,521.63 221.68,521.64 222.03,521.66 222.39,521.68 222.74,521.69 223.09,521.71 223.44,521.73 223.80,521.74 224.15,521.76 224.50,521.77 224.85,521.79 225.21,521.80 225.56,521.82 225.91,521.83 226.26,521.85 226.62,521.86 226.97,521.88 227.32,521.89 227.67,521.91 228.03,521.92 228.38,521.93 228.73,521.95 229.08,521.96 229.44,521.97 229.79,521.99 230.14,522.00 230.49,522.01 230.85,522.03 231.20,522.04 231.55,522.05 231.91,522.07 232.26,522.08 232.61,522.09 232.96,522.10 233.31,522.11 233.67,522.13 234.02,522.14 234.37,522.15 234.72,522.16 235.08,522.17 235.43,522.18 235.78,522.20 236.13,522.21 236.49,522.22 236.84,522.23 237.19,522.24 237.54,522.25 237.90,522.26 238.25,522.27 238.60,522.28 238.95,522.29 239.31,522.30 239.66,522.31 240.01,522.32 240.36,522.33 240.72,522.34 241.07,522.35 241.42,522.36 241.77,522.37 242.13,522.38 242.48,522.39 242.83,522.40 243.19,522.41 243.54,522.42 243.89,522.43 244.24,522.44 244.59,522.45 244.95,522.45 245.30,522.46 245.65,522.47 246.00,522.48 246.36,522.49 246.71,522.50 247.06,522.51 247.41,522.51 247.77,522.52 248.12,522.53 248.47,522.54 248.82,522.55 249.18,522.55 249.53,522.56 249.88,522.57 250.23,522.58 250.59,522.59 250.94,522.59 251.29,522.60 251.64,522.61 252.00,522.62 252.35,522.62 252.70,522.63 253.05,522.64 253.41,522.65 253.76,522.65 254.11,522.66 254.46,522.67 254.82,522.67 255.17,522.68 255.52,522.69 255.88,522.70 256.23,522.70 256.58,522.71 256.93,522.72 257.29,522.72 257.64,522.73 257.99,522.74 258.34,522.74 258.69,522.75 259.05,522.76 259.40,522.76 259.75,522.77 260.11,522.77 260.46,522.78 260.81,522.79 261.16,522.79 261.51,522.80 261.87,522.81 262.22,522.81 262.57,522.82 262.93,522.82 263.28,522.83 263.63,522.84 263.98,522.84 264.33,522.85 264.69,522.85 265.04,522.86 265.39,522.87 265.75,522.87 266.10,522.88 266.45,522.88 266.80,522.89 267.16,522.89 267.51,522.90 267.86,522.91 268.21,522.91 268.56,522.92 268.92,522.92 269.27,522.93 269.62,522.93 269.98,522.94 270.33,522.95 270.68,522.95 271.03,522.96 271.38,522.96 271.74,522.97 272.09,522.97 272.44,522.98 272.80,522.98 273.15,522.99 273.50,522.99 273.85,523.00 274.20,523.01 274.56,523.01 274.91,523.02 275.26,523.02 275.62,523.03 275.97,523.03 276.32,523.04 276.67,523.04 277.02,523.05 277.38,523.05 277.73,523.06 278.08,523.06 278.44,523.07 278.79,523.07 279.14,523.08 279.49,523.08 279.84,523.09 280.20,523.09 280.55,523.10 280.90,523.11 281.25,523.11 281.61,523.12 281.96,523.12 282.31,523.13 282.66,523.13 283.02,523.14 283.37,523.14 283.72,523.15 284.07,523.15 284.43,523.16 284.78,523.16 285.13,523.17 285.49,523.17 285.84,523.18 286.19,523.18 286.54,523.19 286.89,523.19 287.25,523.20 287.60,523.20 287.95,523.21 288.31,523.21 288.66,523.22 289.01,523.23 289.36,523.23 289.71,523.24 290.07,523.24 290.42,523.25 290.77,523.25 291.12,523.26 291.48,523.26 291.83,523.27 292.18,523.27 292.53,523.28 292.89,523.28 293.24,523.29 293.59,523.29 293.94,523.30 294.30,523.30 294.65,523.31 295.00,523.32 295.35,523.32 295.71,523.33 296.06,523.33 296.41,523.34 296.76,523.34 297.12,523.35 297.47,523.35 297.82,523.36 298.18,523.37 298.53,523.37 298.88,523.38 299.23,523.38 299.58,523.39 299.94,523.39 300.29,523.40 300.64,523.40 301.00,523.41 301.35,523.42 301.70,523.42" fill="none" stroke="#0072BD" stroke-width="1.42" stroke-linejoin="round" clip-path="url(#clip2)"/>
<polyline points="19.70,425.10 19.84,422.82 19.98,420.13 20.12,417.13 20.26,413.90 20.40,410.51 20.55,407.03 20.69,403.49 20.83,399.96 20.97,396.46 21.11,393.02 21.25,389.68 21.39,386.45 21.53,383.35 21.67,380.41 21.81,377.63 21.96,375.02 22.10,372.59 22.24,370.32 22.38,368.20 22.52,366.21 22.66,364.35 22.80,362.61 22.94,360.99 23.08,359.46 23.22,358.03 23.37,356.69 23.51,355.43 23.65,354.25 23.79,353.14 23.93,352.10 24.07,351.12 24.21,350.20 24.35,349.34 24.49,348.52 24.63,347.75 24.78,347.03 24.92,346.34 25.06,345.70 25.20,345.09 25.34,344.52 25.48,343.99 25.62,343.48 25.76,343.01 25.90,342.56 26.04,342.14 26.19,341.75 26.33,341.39 26.47,341.04 26.61,340.72 26.75,340.43 26.89,340.15 27.03,339.90 27.17,339.66 27.31,339.44 27.45,339.24 27.60,339.06 27.74,338.89 27.88,338.73 28.02,338.60 28.16,338.47 28.30,338.36 28.44,338.26 28.58,338.18 28.72,338.10 28.86,338.04 29.01,337.99 29.15,337.94 29.29,337.91 29.43,337.89 29.57,337.88 29.71,337.87 29.85,337.88 29.99,337.89 30.13,337.91 30.27,337.93 30.42,337.97 30.56,338.01 30.70,338.06 30.84,338.11 30.98,338.17 31.12,338.24 31.26,338.31 31.40,338.39 31.54,338.47 31.68,338.56 31.83,338.66 31.97,338.75 32.11,338.86 32.25,338.96 32.39,339.08 32.53,339.19 32.67,339.31 32.81,339.43 32.95,339.56 33.09,339.69 33.24,339.83 33.38,339.96 33.52,340.10 33.66,340.25 33.80,340.39 33.94,340.54 34.08,340.70 34.22,340.85 34.36,341.01 34.50,341.17 34.65,341.33 34.79,341.49 34.93,341.66 35.07,341.83 35.21,342.00 35.35,342.17 35.49,342.35 35.63,342.52 35.77,342.70 35.91,342.88 36.06,343.06 36.20,343.24 36.34,343.43 36.48,343.61 36.62,343.80 36.97,344.27 37.33,344.75 37.68,345.23 38.03,345.72 38.38,346.22 38.73,346.72 39.09,347.22 39.44,347.73 39.79,348.23 40.14,348.75 40.50,349.26 40.85,349.77 41.20,350.29 41.55,350.80 41.91,351.32 42.26,351.84 42.61,352.36 42.97,352.88 43.32,353.41 43.67,353.94 44.02,354.47 44.38,355.01 44.73,355.54 45.08,356.09 45.43,356.63 45.78,357.19 46.14,357.74 46.49,358.30 46.84,358.87 47.20,359.44 47.55,360.01 47.90,360.60 48.25,361.18 48.61,361.77 48.96,362.37 49.31,362.97 49.66,363.58 50.02,364.19 50.37,364.81 50.72,365.43 51.07,366.06 51.42,366.70 51.78,367.34 52.13,367.98 52.48,368.63 52.83,369.29 53.19,369.95 53.54,370.62 53.89,371.30 54.25,371.98 54.60,372.66 54.95,373.35 55.30,374.05 55.66,374.75 56.01,375.46 56.36,376.17 56.71,376.88 57.06,377.61 57.42,378.34 57.77,379.07 58.12,379.81 58.47,380.55 58.83,381.30 59.18,382.05 59.53,382.81 59.89,383.58 60.24,384.34 60.59,385.12 60.94,385.90 61.30,386.68 61.65,387.47 62.00,388.26 62.35,389.05 62.70,389.85 63.06,390.66 63.41,391.46 63.76,392.27 64.11,393.08 64.47,393.89 64.82,394.70 65.17,395.52 65.53,396.34 65.88,397.15 66.23,397.97 66.58,398.79 66.94,399.61 67.29,400.43 67.64,401.25 67.99,402.07 68.34,402.88 68.70,403.70 69.05,404.52 69.40,405.33 69.75,406.15 70.11,406.96 70.46,407.78 70.81,408.59 71.17,409.40 71.52,410.20 71.87,411.01 72.22,411.81 72.58,412.62 72.93,413.42 73.28,414.21 73.63,415.01 73.98,415.80 74.34,416.59 74.69,417.38 75.04,418.16 75.39,418.94 75.75,419.72 76.10,420.50 76.45,421.27 76.80,422.04 77.16,422.81 77.51,423.57 77.86,424.33 78.22,425.09 78.57,425.84 78.92,426.59 79.27,427.34 79.62,428.08 79.98,428.82 80.33,429.56 80.68,430.29 81.03,431.02 81.39,431.74 81.74,432.46 82.09,433.18 82.44,433.89 82.80,434.60 83.15,435.31 83.50,436.01 83.86,436.71 84.21,437.40 84.56,438.09 84.91,438.78 85.27,439.46 85.62,440.14 85.97,440.81 86.32,441.48 86.67,442.15 87.03,442.81 87.38,443.47 87.73,444.12 88.09,444.77 88.44,445.41 88.79,446.05 89.14,446.69 89.50,447.32 89.85,447.95 90.20,448.57 90.55,449.19 90.91,449.81 91.26,450.42 91.61,451.03 91.96,451.63 92.31,452.23 92.67,452.82 93.02,453.42 93.37,454.00 93.73,454.58 94.08,455.16 94.43,455.73 94.78,456.30 95.14,456.87 95.49,457.43 95.84,457.99 96.19,458.54 96.55,459.09 96.90,459.63 97.25,460.17 97.60,460.71 97.95,461.24 98.31,461.77 98.66,462.29 99.01,462.81 99.37,463.32 99.72,463.83 100.07,464.34 100.42,464.84 100.78,465.34 101.13,465.84 101.48,466.33 101.83,466.81 102.19,467.30 102.54,467.77 102.89,468.25 103.24,468.72 103.59,469.18 103.95,469.64 104.30,470.10 104.65,470.56 105.01,471.01 105.36,471.45 105.71,471.89 106.06,472.33 106.42,472.77 106.77,473.20 107.12,473.62 107.47,474.05 107.83,474.47 108.18,474.88 108.53,475.29 108.88,475.70 109.23,476.11 109.59,476.51 109.94,476.91 110.29,477.30 110.64,477.69 111.00,478.08 111.35,478.47 111.70,478.85 112.06,479.23 112.41,479.60 112.76,479.97 113.11,480.34 113.47,480.71 113.82,481.07 114.17,481.43 114.52,481.78 114.88,482.14 115.23,482.49 115.58,482.83 115.93,483.18 116.28,483.52 116.64,483.86 116.99,484.19 117.34,484.52 117.70,484.85 118.05,485.18 118.40,485.50 118.75,485.83 119.11,486.14 119.46,486.46 119.81,486.77 120.16,487.08 120.52,487.39 120.87,487.70 121.22,488.00 121.57,488.30 121.92,488.60 122.28,488.89 122.63,489.18 122.98,489.47 123.34,489.76 123.69,490.05 124.04,490.33 124.39,490.61 124.75,490.89 125.10,491.16 125.45,491.44 125.80,491.71 126.16,491.98 126.51,492.24 126.86,492.51 127.21,492.77 127.56,493.03 127.92,493.28 128.27,493.54 128.62,493.79 128.97,494.04 129.33,494.29 129.68,494.54 130.03,494.78 130.38,495.03 130.74,495.27 131.09,495.50 131.44,495.74 131.79,495.97 132.15,496.21 132.50,496.44 132.85,496.66 133.20,496.89 133.56,497.12 133.91,497.34 134.26,497.56 134.62,497.78 134.97,497.99 135.32,498.21 135.67,498.42 136.03,498.63 136.38,498.84 136.73,499.05 137.08,499.25 137.44,499.46 137.79,499.66 138.14,499.86 138.49,500.06 138.84,500.26 139.20,500.45 139.55,500.65 139.90,500.84 140.25,501.03 140.61,501.22 140.96,501.40 141.31,501.59 141.66,501.77 142.02,501.95 142.37,502.13 142.72,502.31 143.07,502.49 143.43,502.66 143.78,502.84 144.13,503.01 144.48,503.18 144.84,503.35 145.19,503.52 145.54,503.68 145.89,503.85 146.25,504.01 146.60,504.18 146.95,504.34 147.31,504.49 147.66,504.65 148.01,504.81 148.36,504.96 148.71,505.12 149.07,505.27 149.42,505.42 149.77,505.57 150.12,505.72 150.48,505.86 150.83,506.01 151.18,506.15 151.53,506.29 151.89,506.44 152.24,506.58 152.59,506.71 152.94,506.85 153.30,506.99 153.65,507.12 154.00,507.26 154.35,507.39 154.71,507.52 155.06,507.65 155.41,507.78 155.76,507.91 156.12,508.04 156.47,508.16 156.82,508.29 157.17,508.41 157.53,508.53 157.88,508.66 158.23,508.78 158.58,508.90 158.94,509.01 159.29,509.13 159.64,509.25 159.99,509.36 160.35,509.48 160.70,509.59 161.05,509.70 161.41,509.81 161.76,509.92 162.11,510.03 162.46,510.14 162.81,510.25 163.17,510.36 163.52,510.46 163.87,510.57 164.22,510.67 164.58,510.77 164.93,510.87 165.28,510.97 165.63,511.07 165.99,511.17 166.34,511.27 166.69,511.37 167.04,511.47 167.40,511.56 167.75,511.66 168.10,511.75 168.45,511.84 168.81,511.94 169.16,512.03 169.51,512.12 169.86,512.21 170.22,512.30 170.57,512.39 170.92,512.48 171.27,512.56 171.63,512.65 171.98,512.73 172.33,512.82 172.69,512.90 173.04,512.99 173.39,513.07 173.74,513.15 174.09,513.23 174.45,513.31 174.80,513.39 175.15,513.47 175.50,513.55 175.86,513.63 176.21,513.70 176.56,513.78 176.91,513.86 177.27,513.93 177.62,514.01 177.97,514.08 178.32,514.15 178.68,514.23 179.03,514.30 179.38,514.37 179.73,514.44 180.09,514.51 180.44,514.58 180.79,514.65 181.14,514.72 181.50,514.78 181.85,514.85 182.20,514.92 182.55,514.98 182.91,515.05 183.26,515.11 183.61,515.18 183.96,515.24 184.32,515.31 184.67,515.37 185.02,515.43 185.38,515.49 185.73,515.55 186.08,515.61 186.43,515.67 186.78,515.73 187.14,515.79 187.49,515.85 187.84,515.91 188.19,515.97 188.55,516.02 188.90,516.08 189.25,516.14 189.60,516.19 189.96,516.25 190.31,516.30 190.66,516.36 191.01,516.41 191.37,516.46 191.72,516.52 192.07,516.57 192.42,516.62 192.78,516.67 193.13,516.72 193.48,516.77 193.83,516.82 194.19,516.87 194.54,516.92 194.89,516.97 195.24,517.02 195.60,517.07 195.95,517.12 196.30,517.16 196.66,517.21 197.01,517.26 197.36,517.30 197.71,517.35 198.06,517.40 198.42,517.44 198.77,517.48 199.12,517.53 199.47,517.57 199.83,517.62 200.18,517.66 200.53,517.70 200.88,517.75 201.24,517.79 201.59,517.83 201.94,517.87 202.29,517.91 202.65,517.95 203.00,517.99 203.35,518.03 203.70,518.07 204.06,518.11 204.41,518.15 204.76,518.19 205.11,518.23 205.47,518.27 205.82,518.30 206.17,518.34 206.52,518.38 206.88,518.42 207.23,518.45 207.58,518.49 207.94,518.52 208.29,518.56 208.64,518.60 208.99,518.63 209.34,518.67 209.70,518.70 210.05,518.73 210.40,518.77 210.75,518.80 211.11,518.84 211.46,518.87 211.81,518.90 212.16,518.93 212.52,518.97 212.87,519.00 213.22,519.03 213.57,519.06 213.93,519.09 214.28,519.13 214.63,519.16 214.98,519.19 215.34,519.22 215.69,519.25 216.04,519.28 216.39,519.31 216.75,519.34 217.10,519.37 217.45,519.39 217.80,519.42 218.16,519.45 218.51,519.48 218.86,519.51 219.21,519.54 219.57,519.56 219.92,519.59 220.27,519.62 220.62,519.64 220.98,519.67 221.33,519.70 221.68,519.72 222.03,519.75 222.39,519.78 222.74,519.80 223.09,519.83 223.44,519.85 223.80,519.88 224.15,519.90 224.50,519.93 224.85,519.95 225.21,519.98 225.56,520.00 225.91,520.02 226.26,520.05 226.62,520.07 226.97,520.09 227.32,520.12 227.67,520.14 228.03,520.16 228.38,520.19 228.73,520.21 229.08,520.23 229.44,520.25 229.79,520.28 230.14,520.30 230.49,520.32 230.85,520.34 231.20,520.36 231.55,520.38 231.91,520.40 232.26,520.43 232.61,520.45 232.96,520.47 233.31,520.49 233.67,520.51 234.02,520.53 234.37,520.55 234.72,520.57 235.08,520.59 235.43,520.61 235.78,520.63 236.13,520.65 236.49,520.67 236.84,520.68 237.19,520.70 237.54,520.72 237.90,520.74 238.25,520.76 238.60,520.78 238.95,520.80 239.31,520.81 239.66,520.83 240.01,520.85 240.36,520.87 240.72,520.89 241.07,520.90 241.42,520.92 241.77,520.94 242.13,520.95 242.48,520.97 242.83,520.99 243.19,521.01 243.54,521.02 243.89,521.04 244.24,521.06 244.59,521.07 244.95,521.09 245.30,521.10 245.65,521.12 246.00,521.14 246.36,521.15 246.71,521.17 247.06,521.18 247.41,521.20 247.77,521.21 248.12,521.23 248.47,521.25 248.82,521.26 249.18,521.28 249.53,521.29 249.88,521.31 250.23,521.32 250.59,521.33 250.94,521.35 251.29,521.36 251.64,521.38 252.00,521.39 252.35,521.41 252.70,521.42 253.05,521.44 253.41,521.45 253.76,521.46 254.11,521.48 254.46,521.49 254.82,521.50 255.17,521.52 255.52,521.53 255.88,521.55 256.23,521.56 256.58,521.57 256.93,521.59 257.29,521.60 257.64,521.61 257.99,521.62 258.34,521.64 258.69,521.65 259.05,521.66 259.40,521.68 259.75,521.69 260.11,521.70 260.46,521.71 260.81,521.73 261.16,521.74 261.51,521.75 261.87,521.76 262.22,521.78 262.57,521.79 262.93,521.80 263.28,521.81 263.63,521.83 263.98,521.84 264.33,521.85 264.69,521.86 265.04,521.87 265.39,521.88 265.75,521.90 266.10,521.91 266.45,521.92 266.80,521.93 267.16,521.94 267.51,521.95 267.86,521.97 268.21,521.98 268.56,521.99 268.92,522.00 269.27,522.01 269.62,522.02 269.98,522.03 270.33,522.04 270.68,522.06 271.03,522.07 271.38,522.08 271.74,522.09 272.09,522.10 272.44,522.11 272.80,522.12 273.15,522.13 273.50,522.14 273.85,522.15 274.20,522.16 274.56,522.17 274.91,522.19 275.26,522.20 275.62,522.21 275.97,522.22 276.32,522.23 276.67,522.24 277.02,522.25 277.38,522.26 277.73,522.27 278.08,522.28 278.44,522.29 278.79,522.30 279.14,522.31 279.49,522.32 279.84,522.33 280.20,522.34 280.55,522.35 280.90,522.36 281.25,522.37 281.61,522.38 281.96,522.39 282.31,522.40 282.66,522.41 283.02,522.42 283.37,522.43 283.72,522.44 284.07,522.45 284.43,522.46 284.78,522.47 285.13,522.48 285.49,522.49 285.84,522.50 286.19,522.51 286.54,522.52 286.89,522.53 287.25,522.54 287.60,522.55 287.95,522.56 288.31,522.57 288.66,522.58 289.01,522.59 289.36,522.60 289.71,522.61 290.07,522.62 290.42,522.63 290.77,522.64 291.12,522.65 291.48,522.66 291.83,522.67 292.18,522.67 292.53,522.68 292.89,522.69 293.24,522.70 293.59,522.71 293.94,522.72 294.30,522.73 294.65,522.74 295.00,522.75 295.35,522.76 295.71,522.77 296.06,522.78 296.41,522.79 296.76,522.80 297.12,522.81 297.47,522.82 297.82,522.83 298.18,522.84 298.53,522.85 298.88,522.86 299.23,522.87 299.58,522.87 299.94,522.88 300.29,522.89 300.64,522.90 301.00,522.91 301.35,522.92 301.70,522.93" fill="none" stroke="#D95319" stroke-width="1.42" stroke-linejoin="round" clip-path="url(#clip2)"/>
<polyline points="19.70,425.10 19.84,423.15 19.98,420.69 20.12,417.82 20.26,414.63 20.40,411.22 20.55,407.65 20.69,403.98 20.83,400.25 20.97,396.52 21.11,392.82 21.25,389.17 21.39,385.62 21.53,382.17 21.67,378.86 21.81,375.69 21.96,372.68 22.10,369.83 22.24,367.12 22.38,364.55 22.52,362.12 22.66,359.82 22.80,357.65 22.94,355.59 23.08,353.65 23.22,351.82 23.37,350.10 23.51,348.48 23.65,346.95 23.79,345.52 23.93,344.19 24.07,342.93 24.21,341.76 24.35,340.66 24.49,339.64 24.63,338.68 24.78,337.78 24.92,336.94 25.06,336.16 25.20,335.43 25.34,334.74 25.48,334.10 25.62,333.51 25.76,332.95 25.90,332.44 26.04,331.96 26.19,331.51 26.33,331.09 26.47,330.71 26.61,330.35 26.75,330.02 26.89,329.71 27.03,329.42 27.17,329.16 27.31,328.92 27.45,328.70 27.60,328.49 27.74,328.30 27.88,328.13 28.02,327.97 28.16,327.83 28.30,327.70 28.44,327.58 28.58,327.47 28.72,327.37 28.86,327.29 29.01,327.22 29.15,327.15 29.29,327.10 29.43,327.05 29.57,327.02 29.71,326.99 29.85,326.97 29.99,326.96 30.13,326.96 30.27,326.97 30.42,326.98 30.56,327.00 30.70,327.02 30.84,327.06 30.98,327.10 31.12,327.14 31.26,327.19 31.40,327.25 31.54,327.31 31.68,327.38 31.83,327.45 31.97,327.52 32.11,327.61 32.25,327.69 32.39,327.78 32.53,327.88 32.67,327.98 32.81,328.08 32.95,328.18 33.09,328.29 33.24,328.41 33.38,328.52 33.52,328.64 33.66,328.77 33.80,328.89 33.94,329.02 34.08,329.15 34.22,329.29 34.36,329.42 34.50,329.56 34.65,329.71 34.79,329.85 34.93,330.00 35.07,330.15 35.21,330.30 35.35,330.45 35.49,330.60 35.63,330.76 35.77,330.92 35.91,331.08 36.06,331.24 36.20,331.40 36.34,331.57 36.48,331.73 36.62,331.90 36.97,332.33 37.33,332.76 37.68,333.20 38.03,333.64 38.38,334.09 38.73,334.55 39.09,335.01 39.44,335.47 39.79,335.94 40.14,336.41 40.50,336.88 40.85,337.35 41.20,337.84 41.55,338.32 41.91,338.82 42.26,339.32 42.61,339.82 42.97,340.33 43.32,340.86 43.67,341.39 44.02,341.92 44.38,342.47 44.73,343.03 45.08,343.59 45.43,344.16 45.78,344.75 46.14,345.34 46.49,345.94 46.84,346.56 47.20,347.18 47.55,347.81 47.90,348.45 48.25,349.11 48.61,349.77 48.96,350.44 49.31,351.13 49.66,351.82 50.02,352.52 50.37,353.24 50.72,353.96 51.07,354.70 51.42,355.44 51.78,356.20 52.13,356.96 52.48,357.74 52.83,358.52 53.19,359.32 53.54,360.12 53.89,360.94 54.25,361.76 54.60,362.60 54.95,363.44 55.30,364.29 55.66,365.15 56.01,366.01 56.36,366.88 56.71,367.76 57.06,368.64 57.42,369.53 57.77,370.42 58.12,371.32 58.47,372.22 58.83,373.13 59.18,374.03 59.53,374.95 59.89,375.86 60.24,376.78 60.59,377.69 60.94,378.61 61.30,379.54 61.65,380.46 62.00,381.38 62.35,382.31 62.70,383.23 63.06,384.16 63.41,385.09 63.76,386.01 64.11,386.94 64.47,387.87 64.82,388.79 65.17,389.72 65.53,390.64 65.88,391.56 66.23,392.49 66.58,393.41 66.94,394.33 67.29,395.24 67.64,396.16 67.99,397.08 68.34,397.99 68.70,398.90 69.05,399.81 69.40,400.71 69.75,401.62 70.11,402.52 70.46,403.42 70.81,404.32 71.17,405.21 71.52,406.10 71.87,406.99 72.22,407.88 72.58,408.76 72.93,409.64 73.28,410.52 73.63,411.39 73.98,412.27 74.34,413.13 74.69,414.00 75.04,414.86 75.39,415.72 75.75,416.57 76.10,417.43 76.45,418.27 76.80,419.12 77.16,419.96 77.51,420.80 77.86,421.63 78.22,422.46 78.57,423.29 78.92,424.11 79.27,424.93 79.62,425.75 79.98,426.56 80.33,427.37 80.68,428.17 81.03,428.97 81.39,429.77 81.74,430.57 82.09,431.36 82.44,432.14 82.80,432.92 83.15,433.70 83.50,434.48 83.86,435.25 84.21,436.01 84.56,436.77 84.91,437.53 85.27,438.29 85.62,439.04 85.97,439.79 86.32,440.53 86.67,441.27 87.03,442.00 87.38,442.73 87.73,443.46 88.09,444.19 88.44,444.90 88.79,445.62 89.14,446.33 89.50,447.04 89.85,447.74 90.20,448.44 90.55,449.14 90.91,449.83 91.26,450.52 91.61,451.20 91.96,451.88 92.31,452.56 92.67,453.23 93.02,453.90 93.37,454.56 93.73,455.22 94.08,455.88 94.43,456.53 94.78,457.18 95.14,457.82 95.49,458.46 95.84,459.09 96.19,459.72 96.55,460.35 96.90,460.97 97.25,461.58 97.60,462.19 97.95,462.80 98.31,463.40 98.66,464.00 99.01,464.60 99.37,465.19 99.72,465.77 100.07,466.35 100.42,466.93 100.78,467.50 101.13,468.06 101.48,468.62 101.83,469.18 102.19,469.73 102.54,470.28 102.89,470.82 103.24,471.36 103.59,471.89 103.95,472.42 104.30,472.95 104.65,473.47 105.01,473.98 105.36,474.49 105.71,474.99 106.06,475.50 106.42,475.99 106.77,476.48 107.12,476.97 107.47,477.45 107.83,477.93 108.18,478.40 108.53,478.87 108.88,479.33 109.23,479.79 109.59,480.24 109.94,480.69 110.29,481.13 110.64,481.57 111.00,482.01 111.35,482.43 111.70,482.86 112.06,483.28 112.41,483.70 112.76,484.11 113.11,484.51 113.47,484.91 113.82,485.31 114.17,485.70 114.52,486.09 114.88,486.47 115.23,486.85 115.58,487.23 115.93,487.60 116.28,487.96 116.64,488.32 116.99,488.67 117.34,489.03 117.70,489.37 118.05,489.71 118.40,490.05 118.75,490.38 119.11,490.71 119.46,491.03 119.81,491.35 120.16,491.67 120.52,491.98 120.87,492.29 121.22,492.59 121.57,492.89 121.92,493.18 122.28,493.48 122.63,493.76 122.98,494.05 123.34,494.33 123.69,494.61 124.04,494.88 124.39,495.15 124.75,495.42 125.10,495.68 125.45,495.94 125.80,496.20 126.16,496.45 126.51,496.71 126.86,496.95 127.21,497.20 127.56,497.44 127.92,497.68 128.27,497.92 128.62,498.16 128.97,498.39 129.33,498.62 129.68,498.85 130.03,499.07 130.38,499.30 130.74,499.52 131.09,499.74 131.44,499.95 131.79,500.17 132.15,500.38 132.50,500.59 132.85,500.80 133.20,501.00 133.56,501.21 133.91,501.41 134.26,501.61 134.62,501.81 134.97,502.01 135.32,502.20 135.67,502.39 136.03,502.59 136.38,502.78 136.73,502.96 137.08,503.15 137.44,503.33 137.79,503.51 138.14,503.70 138.49,503.87 138.84,504.05 139.20,504.23 139.55,504.40 139.90,504.57 140.25,504.74 140.61,504.91 140.96,505.08 141.31,505.25 141.66,505.41 142.02,505.57 142.37,505.73 142.72,505.89 143.07,506.05 143.43,506.21 143.78,506.37 144.13,506.52 144.48,506.67 144.84,506.82 145.19,506.97 145.54,507.12 145.89,507.27 146.25,507.41 146.60,507.56 146.95,507.70 147.31,507.84 147.66,507.98 148.01,508.12 148.36,508.26 148.71,508.40 149.07,508.53 149.42,508.67 149.77,508.80 150.12,508.93 150.48,509.06 150.83,509.19 151.18,509.32 151.53,509.44 151.89,509.57 152.24,509.69 152.59,509.82 152.94,509.94 153.30,510.06 153.65,510.18 154.00,510.30 154.35,510.42 154.71,510.53 155.06,510.65 155.41,510.76 155.76,510.88 156.12,510.99 156.47,511.10 156.82,511.21 157.17,511.32 157.53,511.43 157.88,511.54 158.23,511.64 158.58,511.75 158.94,511.85 159.29,511.96 159.64,512.06 159.99,512.16 160.35,512.26 160.70,512.36 161.05,512.46 161.41,512.56 161.76,512.66 162.11,512.75 162.46,512.85 162.81,512.94 163.17,513.04 163.52,513.13 163.87,513.22 164.22,513.31 164.58,513.40 164.93,513.49 165.28,513.58 165.63,513.67 165.99,513.76 166.34,513.84 166.69,513.93 167.04,514.01 167.40,514.10 167.75,514.18 168.10,514.26 168.45,514.34 168.81,514.43 169.16,514.51 169.51,514.59 169.86,514.66 170.22,514.74 170.57,514.82 170.92,514.90 171.27,514.97 171.63,515.05 171.98,515.12 172.33,515.20 172.69,515.27 173.04,515.34 173.39,515.41 173.74,515.49 174.09,515.56 174.45,515.63 174.80,515.70 175.15,515.76 175.50,515.83 175.86,515.90 176.21,515.97 176.56,516.03 176.91,516.10 177.27,516.16 177.62,516.23 177.97,516.29 178.32,516.36 178.68,516.42 179.03,516.48 179.38,516.54 179.73,516.60 180.09,516.67 180.44,516.73 180.79,516.78 181.14,516.84 181.50,516.90 181.85,516.96 182.20,517.02 182.55,517.07 182.91,517.13 183.26,517.19 183.61,517.24 183.96,517.30 184.32,517.35 184.67,517.40 185.02,517.46 185.38,517.51 185.73,517.56 186.08,517.61 186.43,517.67 186.78,517.72 187.14,517.77 187.49,517.82 187.84,517.87 188.19,517.92 188.55,517.97 188.90,518.01 189.25,518.06 189.60,518.11 189.96,518.16 190.31,518.20 190.66,518.25 191.01,518.29 191.37,518.34 191.72,518.38 192.07,518.43 192.42,518.47 192.78,518.52 193.13,518.56 193.48,518.60 193.83,518.64 194.19,518.69 194.54,518.73 194.89,518.77 195.24,518.81 195.60,518.85 195.95,518.89 196.30,518.93 196.66,518.97 197.01,519.01 197.36,519.05 197.71,519.09 198.06,519.13 198.42,519.16 198.77,519.20 199.12,519.24 199.47,519.27 199.83,519.31 200.18,519.35 200.53,519.38 200.88,519.42 201.24,519.45 201.59,519.49 201.94,519.52 202.29,519.56 202.65,519.59 203.00,519.62 203.35,519.66 203.70,519.69 204.06,519.72 204.41,519.75 204.76,519.79 205.11,519.82 205.47,519.85 205.82,519.88 206.17,519.91 206.52,519.94 206.88,519.97 207.23,520.00 207.58,520.03 207.94,520.06 208.29,520.09 208.64,520.12 208.99,520.15 209.34,520.18 209.70,520.20 210.05,520.23 210.40,520.26 210.75,520.29 211.11,520.31 211.46,520.34 211.81,520.37 212.16,520.39 212.52,520.42 212.87,520.45 213.22,520.47 213.57,520.50 213.93,520.52 214.28,520.55 214.63,520.57 214.98,520.60 215.34,520.62 215.69,520.65 216.04,520.67 216.39,520.69 216.75,520.72 217.10,520.74 217.45,520.76 217.80,520.78 218.16,520.81 218.51,520.83 218.86,520.85 219.21,520.87 219.57,520.90 219.92,520.92 220.27,520.94 220.62,520.96 220.98,520.98 221.33,521.00 221.68,521.02 222.03,521.04 222.39,521.06 222.74,521.08 223.09,521.10 223.44,521.12 223.80,521.14 224.15,521.16 224.50,521.18 224.85,521.20 225.21,521.22 225.56,521.24 225.91,521.26 226.26,521.27 226.62,521.29 226.97,521.31 227.32,521.33 227.67,521.35 228.03,521.36 228.38,521.38 228.73,521.40 229.08,521.41 229.44,521.43 229.79,521.45 230.14,521.46 230.49,521.48 230.85,521.50 231.20,521.51 231.55,521.53 231.91,521.55 232.26,521.56 232.61,521.58 232.96,521.59 233.31,521.61 233.67,521.62 234.02,521.64 234.37,521.65 234.72,521.67 235.08,521.68 235.43,521.70 235.78,521.71 236.13,521.72 236.49,521.74 236.84,521.75 237.19,521.77 237.54,521.78 237.90,521.79 238.25,521.81 238.60,521.82 238.95,521.83 239.31,521.85 239.66,521.86 240.01,521.87 240.36,521.89 240.72,521.90 241.07,521.91 241.42,521.92 241.77,521.94 242.13,521.95 242.48,521.96 242.83,521.97 243.19,521.98 243.54,522.00 243.89,522.01 244.24,522.02 244.59,522.03 244.95,522.04 245.30,522.05 245.65,522.07 246.00,522.08 246.36,522.09 246.71,522.10 247.06,522.11 247.41,522.12 247.77,522.13 248.12,522.14 248.47,522.15 248.82,522.16 249.18,522.17 249.53,522.18 249.88,522.19 250.23,522.20 250.59,522.21 250.94,522.22 251.29,522.23 251.64,522.24 252.00,522.25 252.35,522.26 252.70,522.27 253.05,522.28 253.41,522.29 253.76,522.30 254.11,522.31 254.46,522.32 254.82,522.33 255.17,522.34 255.52,522.35 255.88,522.35 256.23,522.36 256.58,522.37 256.93,522.38 257.29,522.39 257.64,522.40 257.99,522.41 258.34,522.42 258.69,522.42 259.05,522.43 259.40,522.44 259.75,522.45 260.11,522.46 260.46,522.46 260.81,522.47 261.16,522.48 261.51,522.49 261.87,522.50 262.22,522.50 262.57,522.51 262.93,522.52 263.28,522.53 263.63,522.53 263.98,522.54 264.33,522.55 264.69,522.56 265.04,522.56 265.39,522.57 265.75,522.58 266.10,522.59 266.45,522.59 266.80,522.60 267.16,522.61 267.51,522.62 267.86,522.62 268.21,522.63 268.56,522.64 268.92,522.64 269.27,522.65 269.62,522.66 269.98,522.66 270.33,522.67 270.68,522.68 271.03,522.68 271.38,522.69 271.74,522.70 272.09,522.70 272.44,522.71 272.80,522.72 273.15,522.72 273.50,522.73 273.85,522.74 274.20,522.74 274.56,522.75 274.91,522.75 275.26,522.76 275.62,522.77 275.97,522.77 276.32,522.78 276.67,522.79 277.02,522.79 277.38,522.80 277.73,522.80 278.08,522.81 278.44,522.82 278.79,522.82 279.14,522.83 279.49,522.83 279.84,522.84 280.20,522.85 280.55,522.85 280.90,522.86 281.25,522.86 281.61,522.87 281.96,522.88 282.31,522.88 282.66,522.89 283.02,522.89 283.37,522.90 283.72,522.90 284.07,522.91 284.43,522.91 284.78,522.92 285.13,522.93 285.49,522.93 285.84,522.94 286.19,522.94 286.54,522.95 286.89,522.95 287.25,522.96 287.60,522.96 287.95,522.97 288.31,522.98 288.66,522.98 289.01,522.99 289.36,522.99 289.71,523.00 290.07,523.00 290.42,523.01 290.77,523.01 291.12,523.02 291.48,523.02 291.83,523.03 292.18,523.04 292.53,523.04 292.89,523.05 293.24,523.05 293.59,523.06 293.94,523.06 294.30,523.07 294.65,523.07 295.00,523.08 295.35,523.08 295.71,523.09 296.06,523.09 296.41,523.10 296.76,523.10 297.12,523.11 297.47,523.11 297.82,523.12 298.18,523.13 298.53,523.13 298.88,523.14 299.23,523.14 299.58,523.15 299.94,523.15 300.29,523.16 300.64,523.16 301.00,523.17 301.35,523.17 301.70,523.18" fill="none" stroke="#EDB120" stroke-width="1.42" stroke-linejoin="round" clip-path="url(#clip2)"/>
<g font-family="Liberation Sans, Arial, Helvetica, sans-serif" font-size="6.2" fill="#262626" stroke="#262626" stroke-width="0.22">
<text x="19.70" y="532.90" text-anchor="middle">0</text>
<text x="47.90" y="532.90" text-anchor="middle">20</text>
<text x="76.10" y="532.90" text-anchor="middle">40</text>
<text x="104.30" y="532.90" text-anchor="middle">60</text>
<text x="132.50" y="532.90" text-anchor="middle">80</text>
<text x="160.70" y="532.90" text-anchor="middle">100</text>
<text x="188.90" y="532.90" text-anchor="middle">120</text>
<text x="217.10" y="532.90" text-anchor="middle">140</text>
<text x="245.30" y="532.90" text-anchor="middle">160</text>
<text x="273.50" y="532.90" text-anchor="middle">180</text>
<text x="301.70" y="532.90" text-anchor="middle">200</text>
<text x="16.70" y="526.05" text-anchor="end">0</text>
<text x="16.70" y="501.35" text-anchor="end">1</text>
<text x="16.70" y="476.65" text-anchor="end">2</text>
<text x="16.70" y="451.95" text-anchor="end">3</text>
<text x="16.70" y="427.25" text-anchor="end">4</text>
<text x="16.70" y="402.55" text-anchor="end">5</text>
<text x="16.70" y="377.85" text-anchor="end">6</text>
<text x="16.70" y="353.15" text-anchor="end">7</text>
<text x="16.70" y="328.45" text-anchor="end">8</text>
<text x="16.70" y="303.75" text-anchor="end">9</text>
</g>
<g font-family="Liberation Sans, Arial, Helvetica, sans-serif" font-size="7.0" fill="#262626" stroke="#262626" stroke-width="0.22">
<text x="160.70" y="542.60" text-anchor="middle">time</text>
<text transform="translate(9.10 412.75) rotate(-90)" text-anchor="middle">H</text>
</g>
<rect x="213.40" y="306.40" width="83.10" height="25.00" fill="#fff" stroke="#2c2c2c" stroke-width="0.6"/>
<g font-family="Liberation Sans, Arial, Helvetica, sans-serif" font-size="5.62" fill="#262626" stroke="#262626" stroke-width="0.15">
<path d="M216.30 311.77h19.6" stroke="#0072BD" stroke-width="1.136" fill="none"/>
<text x="238.30" y="313.97"><tspan font-style="italic">δ</tspan>(t)=1</text>
<path d="M216.30 319.40h19.6" stroke="#D95319" stroke-width="1.136" fill="none"/>
<text x="238.30" y="321.60"><tspan font-style="italic">δ</tspan>(t)=0.97</text>
<path d="M216.30 326.65h19.6" stroke="#EDB120" stroke-width="1.136" fill="none"/>
<text x="238.30" y="328.85"><tspan font-style="italic">δ</tspan>(t)=0.99-(0.001/100)t</text>
</g>
<text id="cap2" x="153.40" y="573.50" text-anchor="middle" font-size="13.3" fill="#111" stroke="#111" stroke-width="0.12" font-family="Liberation Serif, Times New Roman, serif"><tspan font-family="Liberation Sans, Arial, Helvetica, sans-serif" font-weight="bold" font-size="14.0">(c)</tspan><tspan dx="3.6">Time response of </tspan><tspan font-style="italic">H</tspan></text>
<path d="M425.99 301.50V523.70M454.18 301.50V523.70M482.37 301.50V523.70M510.56 301.50V523.70M538.75 301.50V523.70M566.94 301.50V523.70M595.13 301.50V523.70M623.32 301.50V523.70M651.51 301.50V523.70M397.80 486.67H679.70M397.80 449.63H679.70M397.80 412.60H679.70M397.80 375.57H679.70M397.80 338.53H679.70" stroke="#e3e3e3" stroke-width="0.7" fill="none"/>
<path d="M397.80 301.50H679.70V523.70H397.80ZM397.80 523.70v-3.0M397.80 301.50v3.0M425.99 523.70v-3.0M425.99 301.50v3.0M454.18 523.70v-3.0M454.18 301.50v3.0M482.37 523.70v-3.0M482.37 301.50v3.0M510.56 523.70v-3.0M510.56 301.50v3.0M538.75 523.70v-3.0M538.75 301.50v3.0M566.94 523.70v-3.0M566.94 301.50v3.0M595.13 523.70v-3.0M595.13 301.50v3.0M623.32 523.70v-3.0M623.32 301.50v3.0M651.51 523.70v-3.0M651.51 301.50v3.0M679.70 523.70v-3.0M679.70 301.50v3.0M397.80 523.70h3.0M679.70 523.70h-3.0M397.80 486.67h3.0M679.70 486.67h-3.0M397.80 449.63h3.0M679.70 449.63h-3.0M397.80 412.60h3.0M679.70 412.60h-3.0M397.80 375.57h3.0M679.70 375.57h-3.0M397.80 338.53h3.0M679.70 338.53h-3.0M397.80 301.50h3.0M679.70 301.50h-3.0" stroke="#2c2c2c" stroke-width="0.85" fill="none"/>
<clipPath id="clip3"><rect x="397.55" y="301.00" width="282.90" height="223.70"/></clipPath>
<polyline points="397.80,523.52 397.94,523.52 398.08,523.52 398.22,523.52 398.36,523.52 398.50,523.52 398.65,523.52 398.79,523.52 398.93,523.52 399.07,523.52 399.21,523.52 399.35,523.52 399.49,523.52 399.63,523.52 399.77,523.52 399.91,523.52 400.06,523.52 400.20,523.52 400.34,523.52 400.48,523.52 400.62,523.52 400.76,523.52 400.90,523.52 401.04,523.52 401.18,523.52 401.32,523.52 401.46,523.52 401.61,523.52 401.75,523.52 401.89,523.52 402.03,523.52 402.17,523.52 402.31,523.52 402.45,523.52 402.59,523.52 402.73,523.52 402.87,523.52 403.02,523.52 403.16,523.52 403.30,523.52 403.44,523.52 403.58,523.52 403.72,523.52 403.86,523.52 404.00,523.52 404.14,523.52 404.28,523.52 404.42,523.52 404.57,523.52 404.71,523.52 404.85,523.52 404.99,523.52 405.13,523.52 405.27,523.52 405.41,523.52 405.55,523.52 405.69,523.52 405.83,523.52 405.98,523.52 406.12,523.52 406.26,523.52 406.40,523.52 406.54,523.52 406.68,523.52 406.82,523.52 406.96,523.52 407.10,523.52 407.24,523.52 407.38,523.52 407.53,523.52 407.67,523.52 407.81,523.52 407.95,523.52 408.09,523.52 408.23,523.52 408.37,523.52 408.51,523.52 408.65,523.52 408.79,523.52 408.94,523.52 409.08,523.52 409.22,523.52 409.36,523.52 409.50,523.52 409.64,523.52 409.78,523.52 409.92,523.52 410.06,523.52 410.20,523.52 410.34,523.52 410.49,523.52 410.63,523.52 410.77,523.52 410.91,523.52 411.05,523.52 411.19,523.52 411.33,523.51 411.47,523.51 411.61,523.51 411.75,523.51 411.90,523.51 412.04,523.51 412.18,523.51 412.32,523.51 412.46,523.51 412.60,523.51 412.74,523.51 412.88,523.51 413.02,523.51 413.16,523.51 413.30,523.51 413.45,523.51 413.59,523.51 413.73,523.51 413.87,523.51 414.01,523.51 414.15,523.51 414.29,523.51 414.43,523.51 414.57,523.51 414.71,523.51 415.07,523.51 415.42,523.51 415.77,523.51 416.12,523.51 416.48,523.51 416.83,523.51 417.18,523.51 417.53,523.51 417.89,523.51 418.24,523.51 418.59,523.50 418.94,523.50 419.29,523.50 419.65,523.50 420.00,523.50 420.35,523.50 420.70,523.50 421.06,523.50 421.41,523.50 421.76,523.50 422.11,523.50 422.47,523.50 422.82,523.50 423.17,523.50 423.52,523.49 423.88,523.49 424.23,523.49 424.58,523.49 424.93,523.49 425.29,523.49 425.64,523.49 425.99,523.49 426.34,523.49 426.69,523.49 427.05,523.49 427.40,523.49 427.75,523.48 428.10,523.48 428.46,523.48 428.81,523.48 429.16,523.48 429.51,523.48 429.87,523.48 430.22,523.48 430.57,523.48 430.92,523.48 431.28,523.47 431.63,523.47 431.98,523.47 432.33,523.47 432.69,523.47 433.04,523.47 433.39,523.47 433.74,523.47 434.09,523.46 434.45,523.46 434.80,523.46 435.15,523.46 435.50,523.46 435.86,523.46 436.21,523.46 436.56,523.46 436.91,523.45 437.27,523.45 437.62,523.45 437.97,523.45 438.32,523.45 438.68,523.45 439.03,523.45 439.38,523.44 439.73,523.44 440.09,523.44 440.44,523.44 440.79,523.44 441.14,523.44 441.49,523.44 441.85,523.43 442.20,523.43 442.55,523.43 442.90,523.43 443.26,523.43 443.61,523.43 443.96,523.42 444.31,523.42 444.67,523.42 445.02,523.42 445.37,523.42 445.72,523.42 446.08,523.41 446.43,523.41 446.78,523.41 447.13,523.41 447.48,523.41 447.84,523.40 448.19,523.40 448.54,523.40 448.89,523.40 449.25,523.40 449.60,523.39 449.95,523.39 450.30,523.39 450.66,523.39 451.01,523.39 451.36,523.38 451.71,523.38 452.07,523.38 452.42,523.38 452.77,523.37 453.12,523.37 453.48,523.37 453.83,523.37 454.18,523.36 454.53,523.36 454.88,523.36 455.24,523.36 455.59,523.35 455.94,523.35 456.29,523.35 456.65,523.35 457.00,523.34 457.35,523.34 457.70,523.34 458.06,523.34 458.41,523.33 458.76,523.33 459.11,523.33 459.47,523.33 459.82,523.32 460.17,523.32 460.52,523.32 460.88,523.31 461.23,523.31 461.58,523.31 461.93,523.30 462.28,523.30 462.64,523.30 462.99,523.29 463.34,523.29 463.69,523.29 464.05,523.29 464.40,523.28 464.75,523.28 465.10,523.28 465.46,523.27 465.81,523.27 466.16,523.26 466.51,523.26 466.87,523.26 467.22,523.25 467.57,523.25 467.92,523.25 468.28,523.24 468.63,523.24 468.98,523.24 469.33,523.23 469.68,523.23 470.04,523.22 470.39,523.22 470.74,523.22 471.09,523.21 471.45,523.21 471.80,523.20 472.15,523.20 472.50,523.19 472.86,523.19 473.21,523.19 473.56,523.18 473.91,523.18 474.27,523.17 474.62,523.17 474.97,523.16 475.32,523.16 475.67,523.15 476.03,523.15 476.38,523.14 476.73,523.14 477.08,523.13 477.44,523.13 477.79,523.12 478.14,523.12 478.49,523.11 478.85,523.11 479.20,523.10 479.55,523.10 479.90,523.09 480.26,523.09 480.61,523.08 480.96,523.08 481.31,523.07 481.67,523.06 482.02,523.06 482.37,523.05 482.72,523.05 483.07,523.04 483.43,523.03 483.78,523.03 484.13,523.02 484.48,523.02 484.84,523.01 485.19,523.00 485.54,523.00 485.89,522.99 486.25,522.98 486.60,522.98 486.95,522.97 487.30,522.96 487.66,522.96 488.01,522.95 488.36,522.94 488.71,522.94 489.07,522.93 489.42,522.92 489.77,522.91 490.12,522.91 490.47,522.90 490.83,522.89 491.18,522.88 491.53,522.87 491.88,522.87 492.24,522.86 492.59,522.85 492.94,522.84 493.29,522.83 493.65,522.83 494.00,522.82 494.35,522.81 494.70,522.80 495.06,522.79 495.41,522.78 495.76,522.77 496.11,522.76 496.47,522.76 496.82,522.75 497.17,522.74 497.52,522.73 497.87,522.72 498.23,522.71 498.58,522.70 498.93,522.69 499.28,522.68 499.64,522.67 499.99,522.66 500.34,522.65 500.69,522.64 501.05,522.63 501.40,522.62 501.75,522.60 502.10,522.59 502.46,522.58 502.81,522.57 503.16,522.56 503.51,522.55 503.86,522.54 504.22,522.53 504.57,522.51 504.92,522.50 505.27,522.49 505.63,522.48 505.98,522.46 506.33,522.45 506.68,522.44 507.04,522.43 507.39,522.41 507.74,522.40 508.09,522.39 508.45,522.37 508.80,522.36 509.15,522.35 509.50,522.33 509.86,522.32 510.21,522.30 510.56,522.29 510.91,522.27 511.26,522.26 511.62,522.25 511.97,522.23 512.32,522.22 512.67,522.20 513.03,522.18 513.38,522.17 513.73,522.15 514.08,522.14 514.44,522.12 514.79,522.10 515.14,522.09 515.49,522.07 515.85,522.05 516.20,522.04 516.55,522.02 516.90,522.00 517.26,521.98 517.61,521.97 517.96,521.95 518.31,521.93 518.66,521.91 519.02,521.89 519.37,521.87 519.72,521.85 520.07,521.83 520.43,521.81 520.78,521.79 521.13,521.77 521.48,521.75 521.84,521.73 522.19,521.71 522.54,521.69 522.89,521.67 523.25,521.65 523.60,521.63 523.95,521.60 524.30,521.58 524.65,521.56 525.01,521.54 525.36,521.51 525.71,521.49 526.06,521.47 526.42,521.44 526.77,521.42 527.12,521.39 527.47,521.37 527.83,521.34 528.18,521.32 528.53,521.29 528.88,521.27 529.24,521.24 529.59,521.21 529.94,521.19 530.29,521.16 530.65,521.13 531.00,521.11 531.35,521.08 531.70,521.05 532.05,521.02 532.41,520.99 532.76,520.96 533.11,520.93 533.46,520.90 533.82,520.87 534.17,520.84 534.52,520.81 534.87,520.78 535.23,520.75 535.58,520.72 535.93,520.69 536.28,520.65 536.64,520.62 536.99,520.59 537.34,520.55 537.69,520.52 538.05,520.48 538.40,520.45 538.75,520.41 539.10,520.38 539.45,520.34 539.81,520.30 540.16,520.27 540.51,520.23 540.86,520.19 541.22,520.15 541.57,520.12 541.92,520.08 542.27,520.04 542.63,520.00 542.98,519.96 543.33,519.92 543.68,519.87 544.04,519.83 544.39,519.79 544.74,519.75 545.09,519.71 545.45,519.66 545.80,519.62 546.15,519.57 546.50,519.53 546.85,519.48 547.21,519.44 547.56,519.39 547.91,519.34 548.26,519.29 548.62,519.25 548.97,519.20 549.32,519.15 549.67,519.10 550.03,519.05 550.38,519.00 550.73,518.94 551.08,518.89 551.44,518.84 551.79,518.79 552.14,518.73 552.49,518.68 552.85,518.62 553.20,518.57 553.55,518.51 553.90,518.45 554.25,518.40 554.61,518.34 554.96,518.28 555.31,518.22 555.66,518.16 556.02,518.10 556.37,518.04 556.72,517.98 557.07,517.91 557.43,517.85 557.78,517.78 558.13,517.72 558.48,517.65 558.84,517.59 559.19,517.52 559.54,517.45 559.89,517.38 560.24,517.31 560.60,517.24 560.95,517.17 561.30,517.10 561.65,517.03 562.01,516.96 562.36,516.88 562.71,516.81 563.06,516.73 563.42,516.65 563.77,516.58 564.12,516.50 564.47,516.42 564.83,516.34 565.18,516.26 565.53,516.18 565.88,516.09 566.24,516.01 566.59,515.93 566.94,515.84 567.29,515.75 567.64,515.67 568.00,515.58 568.35,515.49 568.70,515.40 569.05,515.31 569.41,515.22 569.76,515.12 570.11,515.03 570.46,514.93 570.82,514.84 571.17,514.74 571.52,514.64 571.87,514.54 572.23,514.44 572.58,514.34 572.93,514.24 573.28,514.13 573.64,514.03 573.99,513.92 574.34,513.82 574.69,513.71 575.04,513.60 575.40,513.49 575.75,513.38 576.10,513.26 576.45,513.15 576.81,513.03 577.16,512.92 577.51,512.80 577.86,512.68 578.22,512.56 578.57,512.44 578.92,512.31 579.27,512.19 579.63,512.06 579.98,511.94 580.33,511.81 580.68,511.68 581.04,511.55 581.39,511.42 581.74,511.28 582.09,511.15 582.44,511.01 582.80,510.87 583.15,510.73 583.50,510.59 583.85,510.45 584.21,510.30 584.56,510.16 584.91,510.01 585.26,509.86 585.62,509.71 585.97,509.56 586.32,509.40 586.67,509.25 587.03,509.09 587.38,508.93 587.73,508.77 588.08,508.61 588.43,508.45 588.79,508.28 589.14,508.12 589.49,507.95 589.84,507.78 590.20,507.60 590.55,507.43 590.90,507.25 591.25,507.08 591.61,506.90 591.96,506.72 592.31,506.53 592.66,506.35 593.02,506.16 593.37,505.97 593.72,505.78 594.07,505.59 594.43,505.39 594.78,505.19 595.13,504.99 595.48,504.79 595.83,504.59 596.19,504.38 596.54,504.18 596.89,503.97 597.24,503.76 597.60,503.54 597.95,503.32 598.30,503.11 598.65,502.89 599.01,502.66 599.36,502.44 599.71,502.21 600.06,501.98 600.42,501.75 600.77,501.51 601.12,501.28 601.47,501.04 601.83,500.79 602.18,500.55 602.53,500.30 602.88,500.05 603.23,499.80 603.59,499.55 603.94,499.29 604.29,499.03 604.64,498.77 605.00,498.50 605.35,498.23 605.70,497.96 606.05,497.69 606.41,497.41 606.76,497.13 607.11,496.85 607.46,496.57 607.82,496.28 608.17,495.99 608.52,495.70 608.87,495.40 609.23,495.10 609.58,494.80 609.93,494.49 610.28,494.18 610.63,493.87 610.99,493.55 611.34,493.24 611.69,492.92 612.04,492.59 612.40,492.26 612.75,491.93 613.10,491.60 613.45,491.26 613.81,490.92 614.16,490.57 614.51,490.22 614.86,489.87 615.22,489.52 615.57,489.16 615.92,488.79 616.27,488.43 616.62,488.06 616.98,487.68 617.33,487.31 617.68,486.92 618.03,486.54 618.39,486.15 618.74,485.76 619.09,485.36 619.44,484.96 619.80,484.56 620.15,484.15 620.50,483.73 620.85,483.32 621.21,482.89 621.56,482.47 621.91,482.04 622.26,481.61 622.62,481.17 622.97,480.72 623.32,480.28 623.67,479.82 624.02,479.37 624.38,478.91 624.73,478.44 625.08,477.97 625.43,477.50 625.79,477.02 626.14,476.53 626.49,476.05 626.84,475.55 627.20,475.05 627.55,474.55 627.90,474.04 628.25,473.53 628.61,473.01 628.96,472.48 629.31,471.95 629.66,471.42 630.02,470.88 630.37,470.34 630.72,469.79 631.07,469.23 631.42,468.67 631.78,468.10 632.13,467.53 632.48,466.95 632.83,466.37 633.19,465.78 633.54,465.18 633.89,464.58 634.24,463.97 634.60,463.36 634.95,462.74 635.30,462.12 635.65,461.48 636.01,460.85 636.36,460.20 636.71,459.55 637.06,458.90 637.42,458.23 637.77,457.56 638.12,456.89 638.47,456.20 638.82,455.52 639.18,454.82 639.53,454.12 639.88,453.41 640.23,452.69 640.59,451.97 640.94,451.23 641.29,450.50 641.64,449.75 642.00,449.00 642.35,448.24 642.70,447.47 643.05,446.70 643.41,445.92 643.76,445.13 644.11,444.33 644.46,443.52 644.81,442.71 645.17,441.89 645.52,441.06 645.87,440.22 646.22,439.38 646.58,438.53 646.93,437.67 647.28,436.80 647.63,435.92 647.99,435.03 648.34,434.14 648.69,433.23 649.04,432.32 649.40,431.40 649.75,430.47 650.10,429.53 650.45,428.58 650.81,427.62 651.16,426.66 651.51,425.68 651.86,424.69 652.21,423.70 652.57,422.69 652.92,421.68 653.27,420.66 653.62,419.62 653.98,418.58 654.33,417.53 654.68,416.46 655.03,415.39 655.39,414.30 655.74,413.21 656.09,412.10 656.44,410.99 656.80,409.86 657.15,408.73 657.50,407.58 657.85,406.42 658.21,405.25 658.56,404.07 658.91,402.88 659.26,401.67 659.61,400.46 659.97,399.23 660.32,397.99 660.67,396.74 661.02,395.48 661.38,394.21 661.73,392.92 662.08,391.62 662.43,390.31 662.79,388.99 663.14,387.65 663.49,386.30 663.84,384.94 664.20,383.57 664.55,382.18 664.90,380.78 665.25,379.37 665.61,377.94 665.96,376.50 666.31,375.05 666.66,373.58 667.01,372.10 667.37,370.60 667.72,369.09 668.07,367.57 668.42,366.03 668.78,364.48 669.13,362.91 669.48,361.33 669.83,359.73 670.19,358.12 670.54,356.49 670.89,354.85 671.24,353.19 671.60,351.52 671.95,349.83 672.30,348.13 672.65,346.41 673.00,344.67 673.36,342.92 673.71,341.15 674.06,339.36 674.41,337.56 674.77,335.74 675.12,333.90 675.47,332.05 675.82,330.18 676.18,328.29 676.53,326.38 676.88,324.46 677.23,322.52 677.59,320.56 677.94,318.58 678.29,316.58 678.64,314.57 679.00,312.53 679.35,310.48 679.70,308.41" fill="none" stroke="#0072BD" stroke-width="1.42" stroke-linejoin="round" clip-path="url(#clip3)"/>
<polyline points="397.80,523.52 397.94,523.52 398.08,523.52 398.22,523.52 398.36,523.52 398.50,523.52 398.65,523.52 398.79,523.52 398.93,523.52 399.07,523.52 399.21,523.52 399.35,523.52 399.49,523.52 399.63,523.52 399.77,523.52 399.91,523.52 400.06,523.52 400.20,523.52 400.34,523.52 400.48,523.52 400.62,523.52 400.76,523.52 400.90,523.52 401.04,523.52 401.18,523.52 401.32,523.52 401.46,523.52 401.61,523.52 401.75,523.52 401.89,523.52 402.03,523.52 402.17,523.52 402.31,523.52 402.45,523.52 402.59,523.52 402.73,523.52 402.87,523.52 403.02,523.52 403.16,523.52 403.30,523.52 403.44,523.52 403.58,523.52 403.72,523.52 403.86,523.52 404.00,523.52 404.14,523.52 404.28,523.52 404.42,523.52 404.57,523.52 404.71,523.52 404.85,523.52 404.99,523.52 405.13,523.52 405.27,523.52 405.41,523.52 405.55,523.52 405.69,523.52 405.83,523.52 405.98,523.52 406.12,523.51 406.26,523.51 406.40,523.51 406.54,523.51 406.68,523.51 406.82,523.51 406.96,523.51 407.10,523.51 407.24,523.51 407.38,523.51 407.53,523.51 407.67,523.51 407.81,523.51 407.95,523.51 408.09,523.51 408.23,523.51 408.37,523.51 408.51,523.51 408.65,523.51 408.79,523.51 408.94,523.51 409.08,523.51 409.22,523.51 409.36,523.51 409.50,523.51 409.64,523.51 409.78,523.51 409.92,523.51 410.06,523.51 410.20,523.51 410.34,523.51 410.49,523.51 410.63,523.51 410.77,523.51 410.91,523.51 411.05,523.51 411.19,523.51 411.33,523.51 411.47,523.51 411.61,523.51 411.75,523.51 411.90,523.51 412.04,523.51 412.18,523.51 412.32,523.51 412.46,523.51 412.60,523.51 412.74,523.51 412.88,523.51 413.02,523.51 413.16,523.51 413.30,523.51 413.45,523.51 413.59,523.51 413.73,523.51 413.87,523.51 414.01,523.51 414.15,523.51 414.29,523.51 414.43,523.51 414.57,523.51 414.71,523.51 415.07,523.51 415.42,523.51 415.77,523.51 416.12,523.50 416.48,523.50 416.83,523.50 417.18,523.50 417.53,523.50 417.89,523.50 418.24,523.50 418.59,523.50 418.94,523.50 419.29,523.50 419.65,523.50 420.00,523.50 420.35,523.50 420.70,523.50 421.06,523.50 421.41,523.50 421.76,523.50 422.11,523.50 422.47,523.49 422.82,523.49 423.17,523.49 423.52,523.49 423.88,523.49 424.23,523.49 424.58,523.49 424.93,523.49 425.29,523.49 425.64,523.49 425.99,523.49 426.34,523.49 426.69,523.49 427.05,523.49 427.40,523.48 427.75,523.48 428.10,523.48 428.46,523.48 428.81,523.48 429.16,523.48 429.51,523.48 429.87,523.48 430.22,523.48 430.57,523.48 430.92,523.48 431.28,523.47 431.63,523.47 431.98,523.47 432.33,523.47 432.69,523.47 433.04,523.47 433.39,523.47 433.74,523.47 434.09,523.47 434.45,523.47 434.80,523.46 435.15,523.46 435.50,523.46 435.86,523.46 436.21,523.46 436.56,523.46 436.91,523.46 437.27,523.46 437.62,523.46 437.97,523.45 438.32,523.45 438.68,523.45 439.03,523.45 439.38,523.45 439.73,523.45 440.09,523.45 440.44,523.45 440.79,523.45 441.14,523.44 441.49,523.44 441.85,523.44 442.20,523.44 442.55,523.44 442.90,523.44 443.26,523.44 443.61,523.43 443.96,523.43 444.31,523.43 444.67,523.43 445.02,523.43 445.37,523.43 445.72,523.43 446.08,523.42 446.43,523.42 446.78,523.42 447.13,523.42 447.48,523.42 447.84,523.42 448.19,523.42 448.54,523.41 448.89,523.41 449.25,523.41 449.60,523.41 449.95,523.41 450.30,523.41 450.66,523.40 451.01,523.40 451.36,523.40 451.71,523.40 452.07,523.40 452.42,523.40 452.77,523.39 453.12,523.39 453.48,523.39 453.83,523.39 454.18,523.39 454.53,523.38 454.88,523.38 455.24,523.38 455.59,523.38 455.94,523.38 456.29,523.37 456.65,523.37 457.00,523.37 457.35,523.37 457.70,523.37 458.06,523.36 458.41,523.36 458.76,523.36 459.11,523.36 459.47,523.36 459.82,523.35 460.17,523.35 460.52,523.35 460.88,523.35 461.23,523.34 461.58,523.34 461.93,523.34 462.28,523.34 462.64,523.33 462.99,523.33 463.34,523.33 463.69,523.33 464.05,523.32 464.40,523.32 464.75,523.32 465.10,523.32 465.46,523.31 465.81,523.31 466.16,523.31 466.51,523.31 466.87,523.30 467.22,523.30 467.57,523.30 467.92,523.30 468.28,523.29 468.63,523.29 468.98,523.29 469.33,523.28 469.68,523.28 470.04,523.28 470.39,523.28 470.74,523.27 471.09,523.27 471.45,523.27 471.80,523.26 472.15,523.26 472.50,523.26 472.86,523.25 473.21,523.25 473.56,523.25 473.91,523.24 474.27,523.24 474.62,523.24 474.97,523.23 475.32,523.23 475.67,523.23 476.03,523.22 476.38,523.22 476.73,523.22 477.08,523.21 477.44,523.21 477.79,523.21 478.14,523.20 478.49,523.20 478.85,523.19 479.20,523.19 479.55,523.19 479.90,523.18 480.26,523.18 480.61,523.17 480.96,523.17 481.31,523.17 481.67,523.16 482.02,523.16 482.37,523.15 482.72,523.15 483.07,523.15 483.43,523.14 483.78,523.14 484.13,523.13 484.48,523.13 484.84,523.12 485.19,523.12 485.54,523.11 485.89,523.11 486.25,523.11 486.60,523.10 486.95,523.10 487.30,523.09 487.66,523.09 488.01,523.08 488.36,523.08 488.71,523.07 489.07,523.07 489.42,523.06 489.77,523.06 490.12,523.05 490.47,523.05 490.83,523.04 491.18,523.04 491.53,523.03 491.88,523.02 492.24,523.02 492.59,523.01 492.94,523.01 493.29,523.00 493.65,523.00 494.00,522.99 494.35,522.99 494.70,522.98 495.06,522.97 495.41,522.97 495.76,522.96 496.11,522.96 496.47,522.95 496.82,522.94 497.17,522.94 497.52,522.93 497.87,522.92 498.23,522.92 498.58,522.91 498.93,522.90 499.28,522.90 499.64,522.89 499.99,522.88 500.34,522.88 500.69,522.87 501.05,522.86 501.40,522.86 501.75,522.85 502.10,522.84 502.46,522.83 502.81,522.83 503.16,522.82 503.51,522.81 503.86,522.80 504.22,522.80 504.57,522.79 504.92,522.78 505.27,522.77 505.63,522.77 505.98,522.76 506.33,522.75 506.68,522.74 507.04,522.73 507.39,522.72 507.74,522.72 508.09,522.71 508.45,522.70 508.80,522.69 509.15,522.68 509.50,522.67 509.86,522.66 510.21,522.65 510.56,522.64 510.91,522.64 511.26,522.63 511.62,522.62 511.97,522.61 512.32,522.60 512.67,522.59 513.03,522.58 513.38,522.57 513.73,522.56 514.08,522.55 514.44,522.54 514.79,522.53 515.14,522.52 515.49,522.51 515.85,522.50 516.20,522.48 516.55,522.47 516.90,522.46 517.26,522.45 517.61,522.44 517.96,522.43 518.31,522.42 518.66,522.41 519.02,522.40 519.37,522.38 519.72,522.37 520.07,522.36 520.43,522.35 520.78,522.34 521.13,522.32 521.48,522.31 521.84,522.30 522.19,522.28 522.54,522.27 522.89,522.26 523.25,522.25 523.60,522.23 523.95,522.22 524.30,522.21 524.65,522.19 525.01,522.18 525.36,522.16 525.71,522.15 526.06,522.14 526.42,522.12 526.77,522.11 527.12,522.09 527.47,522.08 527.83,522.06 528.18,522.05 528.53,522.03 528.88,522.02 529.24,522.00 529.59,521.99 529.94,521.97 530.29,521.95 530.65,521.94 531.00,521.92 531.35,521.91 531.70,521.89 532.05,521.87 532.41,521.86 532.76,521.84 533.11,521.82 533.46,521.80 533.82,521.79 534.17,521.77 534.52,521.75 534.87,521.73 535.23,521.71 535.58,521.69 535.93,521.68 536.28,521.66 536.64,521.64 536.99,521.62 537.34,521.60 537.69,521.58 538.05,521.56 538.40,521.54 538.75,521.52 539.10,521.50 539.45,521.48 539.81,521.46 540.16,521.44 540.51,521.41 540.86,521.39 541.22,521.37 541.57,521.35 541.92,521.33 542.27,521.30 542.63,521.28 542.98,521.26 543.33,521.24 543.68,521.21 544.04,521.19 544.39,521.17 544.74,521.14 545.09,521.12 545.45,521.09 545.80,521.07 546.15,521.04 546.50,521.02 546.85,520.99 547.21,520.97 547.56,520.94 547.91,520.91 548.26,520.89 548.62,520.86 548.97,520.83 549.32,520.81 549.67,520.78 550.03,520.75 550.38,520.72 550.73,520.69 551.08,520.67 551.44,520.64 551.79,520.61 552.14,520.58 552.49,520.55 552.85,520.52 553.20,520.49 553.55,520.46 553.90,520.43 554.25,520.39 554.61,520.36 554.96,520.33 555.31,520.30 555.66,520.27 556.02,520.23 556.37,520.20 556.72,520.17 557.07,520.13 557.43,520.10 557.78,520.06 558.13,520.03 558.48,519.99 558.84,519.96 559.19,519.92 559.54,519.88 559.89,519.85 560.24,519.81 560.60,519.77 560.95,519.74 561.30,519.70 561.65,519.66 562.01,519.62 562.36,519.58 562.71,519.54 563.06,519.50 563.42,519.46 563.77,519.42 564.12,519.38 564.47,519.34 564.83,519.29 565.18,519.25 565.53,519.21 565.88,519.16 566.24,519.12 566.59,519.08 566.94,519.03 567.29,518.99 567.64,518.94 568.00,518.89 568.35,518.85 568.70,518.80 569.05,518.75 569.41,518.71 569.76,518.66 570.11,518.61 570.46,518.56 570.82,518.51 571.17,518.46 571.52,518.41 571.87,518.36 572.23,518.31 572.58,518.25 572.93,518.20 573.28,518.15 573.64,518.09 573.99,518.04 574.34,517.98 574.69,517.93 575.04,517.87 575.40,517.82 575.75,517.76 576.10,517.70 576.45,517.64 576.81,517.58 577.16,517.52 577.51,517.46 577.86,517.40 578.22,517.34 578.57,517.28 578.92,517.22 579.27,517.16 579.63,517.09 579.98,517.03 580.33,516.96 580.68,516.90 581.04,516.83 581.39,516.76 581.74,516.70 582.09,516.63 582.44,516.56 582.80,516.49 583.15,516.42 583.50,516.35 583.85,516.28 584.21,516.21 584.56,516.13 584.91,516.06 585.26,515.99 585.62,515.91 585.97,515.84 586.32,515.76 586.67,515.68 587.03,515.60 587.38,515.53 587.73,515.45 588.08,515.37 588.43,515.29 588.79,515.20 589.14,515.12 589.49,515.04 589.84,514.95 590.20,514.87 590.55,514.78 590.90,514.70 591.25,514.61 591.61,514.52 591.96,514.43 592.31,514.34 592.66,514.25 593.02,514.16 593.37,514.07 593.72,513.97 594.07,513.88 594.43,513.78 594.78,513.69 595.13,513.59 595.48,513.49 595.83,513.39 596.19,513.29 596.54,513.19 596.89,513.09 597.24,512.99 597.60,512.88 597.95,512.78 598.30,512.67 598.65,512.57 599.01,512.46 599.36,512.35 599.71,512.24 600.06,512.13 600.42,512.02 600.77,511.90 601.12,511.79 601.47,511.68 601.83,511.56 602.18,511.44 602.53,511.32 602.88,511.20 603.23,511.08 603.59,510.96 603.94,510.84 604.29,510.71 604.64,510.59 605.00,510.46 605.35,510.33 605.70,510.20 606.05,510.07 606.41,509.94 606.76,509.81 607.11,509.68 607.46,509.54 607.82,509.40 608.17,509.27 608.52,509.13 608.87,508.99 609.23,508.85 609.58,508.70 609.93,508.56 610.28,508.41 610.63,508.27 610.99,508.12 611.34,507.97 611.69,507.82 612.04,507.66 612.40,507.51 612.75,507.35 613.10,507.20 613.45,507.04 613.81,506.88 614.16,506.72 614.51,506.55 614.86,506.39 615.22,506.22 615.57,506.06 615.92,505.89 616.27,505.72 616.62,505.54 616.98,505.37 617.33,505.19 617.68,505.02 618.03,504.84 618.39,504.66 618.74,504.48 619.09,504.29 619.44,504.11 619.80,503.92 620.15,503.73 620.50,503.54 620.85,503.35 621.21,503.15 621.56,502.96 621.91,502.76 622.26,502.56 622.62,502.36 622.97,502.16 623.32,501.95 623.67,501.74 624.02,501.53 624.38,501.32 624.73,501.11 625.08,500.90 625.43,500.68 625.79,500.46 626.14,500.24 626.49,500.02 626.84,499.79 627.20,499.57 627.55,499.34 627.90,499.11 628.25,498.87 628.61,498.64 628.96,498.40 629.31,498.16 629.66,497.92 630.02,497.68 630.37,497.43 630.72,497.18 631.07,496.93 631.42,496.68 631.78,496.42 632.13,496.17 632.48,495.91 632.83,495.65 633.19,495.38 633.54,495.11 633.89,494.85 634.24,494.57 634.60,494.30 634.95,494.02 635.30,493.74 635.65,493.46 636.01,493.18 636.36,492.89 636.71,492.60 637.06,492.31 637.42,492.02 637.77,491.72 638.12,491.42 638.47,491.12 638.82,490.81 639.18,490.51 639.53,490.20 639.88,489.88 640.23,489.57 640.59,489.25 640.94,488.93 641.29,488.60 641.64,488.27 642.00,487.94 642.35,487.61 642.70,487.28 643.05,486.94 643.41,486.59 643.76,486.25 644.11,485.90 644.46,485.55 644.81,485.20 645.17,484.84 645.52,484.48 645.87,484.11 646.22,483.75 646.58,483.38 646.93,483.00 647.28,482.63 647.63,482.25 647.99,481.87 648.34,481.48 648.69,481.09 649.04,480.70 649.40,480.30 649.75,479.90 650.10,479.50 650.45,479.09 650.81,478.68 651.16,478.26 651.51,477.85 651.86,477.42 652.21,477.00 652.57,476.57 652.92,476.14 653.27,475.70 653.62,475.26 653.98,474.82 654.33,474.37 654.68,473.92 655.03,473.46 655.39,473.00 655.74,472.54 656.09,472.07 656.44,471.60 656.80,471.13 657.15,470.65 657.50,470.16 657.85,469.68 658.21,469.19 658.56,468.69 658.91,468.19 659.26,467.69 659.61,467.18 659.97,466.66 660.32,466.15 660.67,465.62 661.02,465.10 661.38,464.57 661.73,464.03 662.08,463.49 662.43,462.95 662.79,462.40 663.14,461.85 663.49,461.29 663.84,460.73 664.20,460.16 664.55,459.59 664.90,459.01 665.25,458.43 665.61,457.84 665.96,457.25 666.31,456.65 666.66,456.05 667.01,455.44 667.37,454.83 667.72,454.22 668.07,453.59 668.42,452.97 668.78,452.34 669.13,451.70 669.48,451.06 669.83,450.41 670.19,449.75 670.54,449.09 670.89,448.43 671.24,447.76 671.60,447.09 671.95,446.40 672.30,445.72 672.65,445.03 673.00,444.33 673.36,443.62 673.71,442.91 674.06,442.20 674.41,441.48 674.77,440.75 675.12,440.02 675.47,439.28 675.82,438.54 676.18,437.78 676.53,437.03 676.88,436.26 677.23,435.49 677.59,434.72 677.94,433.94 678.29,433.15 678.64,432.35 679.00,431.55 679.35,430.75 679.70,429.93" fill="none" stroke="#D95319" stroke-width="1.42" stroke-linejoin="round" clip-path="url(#clip3)"/>
<polyline points="397.80,523.52 397.94,523.52 398.08,523.52 398.22,523.52 398.36,523.52 398.50,523.52 398.65,523.52 398.79,523.52 398.93,523.52 399.07,523.52 399.21,523.52 399.35,523.52 399.49,523.52 399.63,523.52 399.77,523.52 399.91,523.52 400.06,523.52 400.20,523.52 400.34,523.52 400.48,523.52 400.62,523.52 400.76,523.52 400.90,523.52 401.04,523.52 401.18,523.52 401.32,523.52 401.46,523.52 401.61,523.52 401.75,523.52 401.89,523.52 402.03,523.52 402.17,523.52 402.31,523.52 402.45,523.52 402.59,523.52 402.73,523.52 402.87,523.52 403.02,523.52 403.16,523.52 403.30,523.52 403.44,523.52 403.58,523.52 403.72,523.52 403.86,523.52 404.00,523.52 404.14,523.52 404.28,523.52 404.42,523.52 404.57,523.52 404.71,523.52 404.85,523.52 404.99,523.52 405.13,523.52 405.27,523.52 405.41,523.52 405.55,523.52 405.69,523.52 405.83,523.52 405.98,523.52 406.12,523.51 406.26,523.51 406.40,523.51 406.54,523.51 406.68,523.51 406.82,523.51 406.96,523.51 407.10,523.51 407.24,523.51 407.38,523.51 407.53,523.51 407.67,523.51 407.81,523.51 407.95,523.51 408.09,523.51 408.23,523.51 408.37,523.51 408.51,523.51 408.65,523.51 408.79,523.51 408.94,523.51 409.08,523.51 409.22,523.51 409.36,523.51 409.50,523.51 409.64,523.51 409.78,523.51 409.92,523.51 410.06,523.51 410.20,523.51 410.34,523.51 410.49,523.51 410.63,523.51 410.77,523.51 410.91,523.51 411.05,523.51 411.19,523.51 411.33,523.51 411.47,523.51 411.61,523.51 411.75,523.51 411.90,523.51 412.04,523.51 412.18,523.51 412.32,523.51 412.46,523.50 412.60,523.50 412.74,523.50 412.88,523.50 413.02,523.50 413.16,523.50 413.30,523.50 413.45,523.50 413.59,523.50 413.73,523.50 413.87,523.50 414.01,523.50 414.15,523.50 414.29,523.50 414.43,523.50 414.57,523.50 414.71,523.50 415.07,523.50 415.42,523.50 415.77,523.50 416.12,523.50 416.48,523.50 416.83,523.50 417.18,523.50 417.53,523.49 417.89,523.49 418.24,523.49 418.59,523.49 418.94,523.49 419.29,523.49 419.65,523.49 420.00,523.49 420.35,523.49 420.70,523.49 421.06,523.49 421.41,523.49 421.76,523.48 422.11,523.48 422.47,523.48 422.82,523.48 423.17,523.48 423.52,523.48 423.88,523.48 424.23,523.48 424.58,523.48 424.93,523.48 425.29,523.47 425.64,523.47 425.99,523.47 426.34,523.47 426.69,523.47 427.05,523.47 427.40,523.47 427.75,523.47 428.10,523.47 428.46,523.46 428.81,523.46 429.16,523.46 429.51,523.46 429.87,523.46 430.22,523.46 430.57,523.46 430.92,523.46 431.28,523.46 431.63,523.45 431.98,523.45 432.33,523.45 432.69,523.45 433.04,523.45 433.39,523.45 433.74,523.45 434.09,523.44 434.45,523.44 434.80,523.44 435.15,523.44 435.50,523.44 435.86,523.44 436.21,523.44 436.56,523.43 436.91,523.43 437.27,523.43 437.62,523.43 437.97,523.43 438.32,523.43 438.68,523.43 439.03,523.42 439.38,523.42 439.73,523.42 440.09,523.42 440.44,523.42 440.79,523.42 441.14,523.41 441.49,523.41 441.85,523.41 442.20,523.41 442.55,523.41 442.90,523.40 443.26,523.40 443.61,523.40 443.96,523.40 444.31,523.40 444.67,523.40 445.02,523.39 445.37,523.39 445.72,523.39 446.08,523.39 446.43,523.39 446.78,523.38 447.13,523.38 447.48,523.38 447.84,523.38 448.19,523.38 448.54,523.37 448.89,523.37 449.25,523.37 449.60,523.37 449.95,523.36 450.30,523.36 450.66,523.36 451.01,523.36 451.36,523.35 451.71,523.35 452.07,523.35 452.42,523.35 452.77,523.35 453.12,523.34 453.48,523.34 453.83,523.34 454.18,523.34 454.53,523.33 454.88,523.33 455.24,523.33 455.59,523.33 455.94,523.32 456.29,523.32 456.65,523.32 457.00,523.31 457.35,523.31 457.70,523.31 458.06,523.31 458.41,523.30 458.76,523.30 459.11,523.30 459.47,523.29 459.82,523.29 460.17,523.29 460.52,523.29 460.88,523.28 461.23,523.28 461.58,523.28 461.93,523.27 462.28,523.27 462.64,523.27 462.99,523.26 463.34,523.26 463.69,523.26 464.05,523.25 464.40,523.25 464.75,523.25 465.10,523.24 465.46,523.24 465.81,523.24 466.16,523.23 466.51,523.23 466.87,523.23 467.22,523.22 467.57,523.22 467.92,523.21 468.28,523.21 468.63,523.21 468.98,523.20 469.33,523.20 469.68,523.19 470.04,523.19 470.39,523.19 470.74,523.18 471.09,523.18 471.45,523.17 471.80,523.17 472.15,523.17 472.50,523.16 472.86,523.16 473.21,523.15 473.56,523.15 473.91,523.14 474.27,523.14 474.62,523.13 474.97,523.13 475.32,523.13 475.67,523.12 476.03,523.12 476.38,523.11 476.73,523.11 477.08,523.10 477.44,523.10 477.79,523.09 478.14,523.09 478.49,523.08 478.85,523.08 479.20,523.07 479.55,523.07 479.90,523.06 480.26,523.05 480.61,523.05 480.96,523.04 481.31,523.04 481.67,523.03 482.02,523.03 482.37,523.02 482.72,523.02 483.07,523.01 483.43,523.00 483.78,523.00 484.13,522.99 484.48,522.99 484.84,522.98 485.19,522.97 485.54,522.97 485.89,522.96 486.25,522.95 486.60,522.95 486.95,522.94 487.30,522.93 487.66,522.93 488.01,522.92 488.36,522.91 488.71,522.91 489.07,522.90 489.42,522.89 489.77,522.89 490.12,522.88 490.47,522.87 490.83,522.86 491.18,522.86 491.53,522.85 491.88,522.84 492.24,522.83 492.59,522.83 492.94,522.82 493.29,522.81 493.65,522.80 494.00,522.79 494.35,522.79 494.70,522.78 495.06,522.77 495.41,522.76 495.76,522.75 496.11,522.74 496.47,522.74 496.82,522.73 497.17,522.72 497.52,522.71 497.87,522.70 498.23,522.69 498.58,522.68 498.93,522.67 499.28,522.66 499.64,522.65 499.99,522.64 500.34,522.63 500.69,522.62 501.05,522.61 501.40,522.60 501.75,522.59 502.10,522.58 502.46,522.57 502.81,522.56 503.16,522.55 503.51,522.54 503.86,522.53 504.22,522.52 504.57,522.51 504.92,522.50 505.27,522.49 505.63,522.48 505.98,522.46 506.33,522.45 506.68,522.44 507.04,522.43 507.39,522.42 507.74,522.41 508.09,522.39 508.45,522.38 508.80,522.37 509.15,522.36 509.50,522.34 509.86,522.33 510.21,522.32 510.56,522.30 510.91,522.29 511.26,522.28 511.62,522.26 511.97,522.25 512.32,522.24 512.67,522.22 513.03,522.21 513.38,522.19 513.73,522.18 514.08,522.16 514.44,522.15 514.79,522.14 515.14,522.12 515.49,522.10 515.85,522.09 516.20,522.07 516.55,522.06 516.90,522.04 517.26,522.03 517.61,522.01 517.96,521.99 518.31,521.98 518.66,521.96 519.02,521.94 519.37,521.93 519.72,521.91 520.07,521.89 520.43,521.87 520.78,521.86 521.13,521.84 521.48,521.82 521.84,521.80 522.19,521.78 522.54,521.76 522.89,521.75 523.25,521.73 523.60,521.71 523.95,521.69 524.30,521.67 524.65,521.65 525.01,521.63 525.36,521.61 525.71,521.59 526.06,521.57 526.42,521.55 526.77,521.52 527.12,521.50 527.47,521.48 527.83,521.46 528.18,521.44 528.53,521.41 528.88,521.39 529.24,521.37 529.59,521.35 529.94,521.32 530.29,521.30 530.65,521.27 531.00,521.25 531.35,521.23 531.70,521.20 532.05,521.18 532.41,521.15 532.76,521.13 533.11,521.10 533.46,521.07 533.82,521.05 534.17,521.02 534.52,520.99 534.87,520.97 535.23,520.94 535.58,520.91 535.93,520.88 536.28,520.86 536.64,520.83 536.99,520.80 537.34,520.77 537.69,520.74 538.05,520.71 538.40,520.68 538.75,520.65 539.10,520.62 539.45,520.59 539.81,520.56 540.16,520.53 540.51,520.49 540.86,520.46 541.22,520.43 541.57,520.40 541.92,520.36 542.27,520.33 542.63,520.29 542.98,520.26 543.33,520.22 543.68,520.19 544.04,520.15 544.39,520.12 544.74,520.08 545.09,520.05 545.45,520.01 545.80,519.97 546.15,519.93 546.50,519.89 546.85,519.86 547.21,519.82 547.56,519.78 547.91,519.74 548.26,519.70 548.62,519.66 548.97,519.62 549.32,519.57 549.67,519.53 550.03,519.49 550.38,519.45 550.73,519.40 551.08,519.36 551.44,519.31 551.79,519.27 552.14,519.22 552.49,519.18 552.85,519.13 553.20,519.09 553.55,519.04 553.90,518.99 554.25,518.94 554.61,518.89 554.96,518.84 555.31,518.80 555.66,518.74 556.02,518.69 556.37,518.64 556.72,518.59 557.07,518.54 557.43,518.49 557.78,518.43 558.13,518.38 558.48,518.32 558.84,518.27 559.19,518.21 559.54,518.16 559.89,518.10 560.24,518.04 560.60,517.98 560.95,517.92 561.30,517.87 561.65,517.81 562.01,517.74 562.36,517.68 562.71,517.62 563.06,517.56 563.42,517.50 563.77,517.43 564.12,517.37 564.47,517.30 564.83,517.24 565.18,517.17 565.53,517.10 565.88,517.03 566.24,516.97 566.59,516.90 566.94,516.83 567.29,516.76 567.64,516.68 568.00,516.61 568.35,516.54 568.70,516.46 569.05,516.39 569.41,516.31 569.76,516.24 570.11,516.16 570.46,516.08 570.82,516.00 571.17,515.93 571.52,515.85 571.87,515.76 572.23,515.68 572.58,515.60 572.93,515.52 573.28,515.43 573.64,515.35 573.99,515.26 574.34,515.17 574.69,515.08 575.04,515.00 575.40,514.91 575.75,514.81 576.10,514.72 576.45,514.63 576.81,514.54 577.16,514.44 577.51,514.35 577.86,514.25 578.22,514.15 578.57,514.05 578.92,513.95 579.27,513.85 579.63,513.75 579.98,513.65 580.33,513.54 580.68,513.44 581.04,513.33 581.39,513.23 581.74,513.12 582.09,513.01 582.44,512.90 582.80,512.79 583.15,512.67 583.50,512.56 583.85,512.44 584.21,512.33 584.56,512.21 584.91,512.09 585.26,511.97 585.62,511.85 585.97,511.73 586.32,511.60 586.67,511.48 587.03,511.35 587.38,511.23 587.73,511.10 588.08,510.97 588.43,510.84 588.79,510.70 589.14,510.57 589.49,510.43 589.84,510.30 590.20,510.16 590.55,510.02 590.90,509.88 591.25,509.73 591.61,509.59 591.96,509.44 592.31,509.30 592.66,509.15 593.02,509.00 593.37,508.85 593.72,508.69 594.07,508.54 594.43,508.38 594.78,508.22 595.13,508.06 595.48,507.90 595.83,507.74 596.19,507.58 596.54,507.41 596.89,507.24 597.24,507.07 597.60,506.90 597.95,506.73 598.30,506.55 598.65,506.38 599.01,506.20 599.36,506.02 599.71,505.84 600.06,505.65 600.42,505.47 600.77,505.28 601.12,505.09 601.47,504.90 601.83,504.71 602.18,504.51 602.53,504.31 602.88,504.12 603.23,503.91 603.59,503.71 603.94,503.51 604.29,503.30 604.64,503.09 605.00,502.88 605.35,502.66 605.70,502.45 606.05,502.23 606.41,502.01 606.76,501.79 607.11,501.56 607.46,501.34 607.82,501.11 608.17,500.87 608.52,500.64 608.87,500.40 609.23,500.17 609.58,499.93 609.93,499.68 610.28,499.44 610.63,499.19 610.99,498.94 611.34,498.68 611.69,498.43 612.04,498.17 612.40,497.91 612.75,497.65 613.10,497.38 613.45,497.11 613.81,496.84 614.16,496.57 614.51,496.29 614.86,496.01 615.22,495.73 615.57,495.44 615.92,495.15 616.27,494.86 616.62,494.57 616.98,494.27 617.33,493.97 617.68,493.67 618.03,493.36 618.39,493.05 618.74,492.74 619.09,492.43 619.44,492.11 619.80,491.79 620.15,491.46 620.50,491.14 620.85,490.81 621.21,490.47 621.56,490.13 621.91,489.79 622.26,489.45 622.62,489.10 622.97,488.75 623.32,488.40 623.67,488.04 624.02,487.68 624.38,487.31 624.73,486.94 625.08,486.57 625.43,486.20 625.79,485.82 626.14,485.43 626.49,485.05 626.84,484.66 627.20,484.26 627.55,483.86 627.90,483.46 628.25,483.06 628.61,482.64 628.96,482.23 629.31,481.81 629.66,481.39 630.02,480.96 630.37,480.53 630.72,480.10 631.07,479.66 631.42,479.22 631.78,478.77 632.13,478.32 632.48,477.86 632.83,477.40 633.19,476.93 633.54,476.46 633.89,475.99 634.24,475.51 634.60,475.03 634.95,474.54 635.30,474.04 635.65,473.55 636.01,473.04 636.36,472.54 636.71,472.02 637.06,471.51 637.42,470.98 637.77,470.46 638.12,469.92 638.47,469.39 638.82,468.84 639.18,468.30 639.53,467.74 639.88,467.18 640.23,466.62 640.59,466.05 640.94,465.47 641.29,464.89 641.64,464.31 642.00,463.72 642.35,463.12 642.70,462.52 643.05,461.91 643.41,461.29 643.76,460.67 644.11,460.05 644.46,459.41 644.81,458.77 645.17,458.13 645.52,457.48 645.87,456.82 646.22,456.16 646.58,455.49 646.93,454.81 647.28,454.13 647.63,453.44 647.99,452.75 648.34,452.05 648.69,451.34 649.04,450.62 649.40,449.90 649.75,449.17 650.10,448.44 650.45,447.69 650.81,446.94 651.16,446.19 651.51,445.42 651.86,444.65 652.21,443.87 652.57,443.09 652.92,442.29 653.27,441.49 653.62,440.69 653.98,439.87 654.33,439.05 654.68,438.21 655.03,437.38 655.39,436.53 655.74,435.67 656.09,434.81 656.44,433.94 656.80,433.06 657.15,432.17 657.50,431.28 657.85,430.38 658.21,429.46 658.56,428.54 658.91,427.61 659.26,426.67 659.61,425.73 659.97,424.77 660.32,423.81 660.67,422.83 661.02,421.85 661.38,420.86 661.73,419.86 662.08,418.85 662.43,417.83 662.79,416.80 663.14,415.76 663.49,414.72 663.84,413.66 664.20,412.59 664.55,411.51 664.90,410.43 665.25,409.33 665.61,408.22 665.96,407.10 666.31,405.98 666.66,404.84 667.01,403.69 667.37,402.53 667.72,401.36 668.07,400.18 668.42,398.99 668.78,397.79 669.13,396.57 669.48,395.35 669.83,394.11 670.19,392.87 670.54,391.61 670.89,390.34 671.24,389.06 671.60,387.77 671.95,386.46 672.30,385.15 672.65,383.82 673.00,382.48 673.36,381.12 673.71,379.76 674.06,378.38 674.41,376.99 674.77,375.59 675.12,374.18 675.47,372.75 675.82,371.31 676.18,369.85 676.53,368.39 676.88,366.91 677.23,365.41 677.59,363.91 677.94,362.39 678.29,360.85 678.64,359.31 679.00,357.74 679.35,356.17 679.70,354.58" fill="none" stroke="#EDB120" stroke-width="1.42" stroke-linejoin="round" clip-path="url(#clip3)"/>
<g font-family="Liberation Sans, Arial, Helvetica, sans-serif" font-size="6.2" fill="#262626" stroke="#262626" stroke-width="0.22">
<text x="397.80" y="532.70" text-anchor="middle">0</text>
<text x="425.99" y="532.70" text-anchor="middle">20</text>
<text x="454.18" y="532.70" text-anchor="middle">40</text>
<text x="482.37" y="532.70" text-anchor="middle">60</text>
<text x="510.56" y="532.70" text-anchor="middle">80</text>
<text x="538.75" y="532.70" text-anchor="middle">100</text>
<text x="566.94" y="532.70" text-anchor="middle">120</text>
<text x="595.13" y="532.70" text-anchor="middle">140</text>
<text x="623.32" y="532.70" text-anchor="middle">160</text>
<text x="651.51" y="532.70" text-anchor="middle">180</text>
<text x="679.70" y="532.70" text-anchor="middle">200</text>
<text x="394.80" y="525.85" text-anchor="end">0</text>
<text x="394.80" y="488.82" text-anchor="end">50</text>
<text x="394.80" y="451.78" text-anchor="end">100</text>
<text x="394.80" y="414.75" text-anchor="end">150</text>
<text x="394.80" y="377.72" text-anchor="end">200</text>
<text x="394.80" y="340.68" text-anchor="end">250</text>
<text x="394.80" y="303.65" text-anchor="end">300</text>
</g>
<g font-family="Liberation Sans, Arial, Helvetica, sans-serif" font-size="7.0" fill="#262626" stroke="#262626" stroke-width="0.22">
<text x="538.75" y="542.40" text-anchor="middle">time</text>
<text transform="translate(380.50 412.60) rotate(-90)" text-anchor="middle">P</text>
</g>
<rect x="582.10" y="306.40" width="82.90" height="25.00" fill="#fff" stroke="#2c2c2c" stroke-width="0.6"/>
<g font-family="Liberation Sans, Arial, Helvetica, sans-serif" font-size="5.62" fill="#262626" stroke="#262626" stroke-width="0.15">
<path d="M585.00 311.77h19.6" stroke="#0072BD" stroke-width="1.136" fill="none"/>
<text x="607.00" y="313.97"><tspan font-style="italic">δ</tspan>(t)=1</text>
<path d="M585.00 319.40h19.6" stroke="#D95319" stroke-width="1.136" fill="none"/>
<text x="607.00" y="321.60"><tspan font-style="italic">δ</tspan>(t)=0.97</text>
<path d="M585.00 326.65h19.6" stroke="#EDB120" stroke-width="1.136" fill="none"/>
<text x="607.00" y="328.85"><tspan font-style="italic">δ</tspan>(t)=0.99-(0.001/100)t</text>
</g>
<text id="cap3" x="531.70" y="573.50" text-anchor="middle" font-size="13.3" fill="#111" stroke="#111" stroke-width="0.12" font-family="Liberation Serif, Times New Roman, serif"><tspan font-family="Liberation Sans, Arial, Helvetica, sans-serif" font-weight="bold" font-size="14.0">(d)</tspan><tspan dx="3.6">Time response </tspan><tspan font-style="italic">P</tspan></text>
</svg>
</body></html>
